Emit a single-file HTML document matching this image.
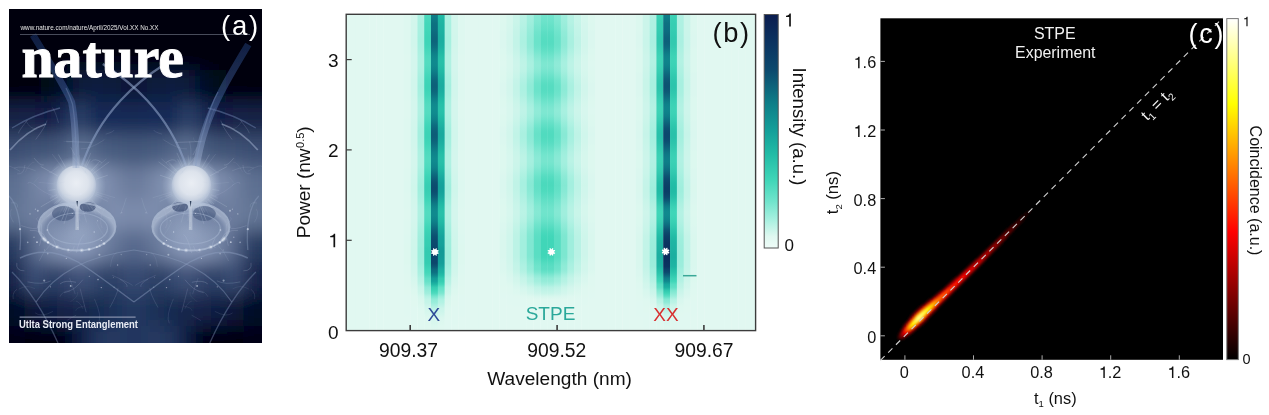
<!DOCTYPE html>
<html><head><meta charset="utf-8"><style>
html,body{margin:0;padding:0;background:#fff;width:1269px;height:415px;overflow:hidden}
#root{position:relative;width:1269px;height:415px}
</style></head><body><div id="root">
<svg width="253" height="334" viewBox="9 9 253 334" style="position:absolute;left:9px;top:9px">
<defs>
<radialGradient id="halo" cx="0.5" cy="0.5" r="0.5">
<stop offset="0.55" stop-color="#c4d0e0" stop-opacity="0.9"/><stop offset="1" stop-color="#9aaac6" stop-opacity="0"/></radialGradient>
<radialGradient id="sphere" cx="0.5" cy="0.45" r="0.5">
<stop offset="0" stop-color="#eaeef4"/><stop offset="0.6" stop-color="#dde3ec"/><stop offset="0.86" stop-color="#cad3e1"/><stop offset="1" stop-color="#b8c4d8" stop-opacity="0.75"/></radialGradient>
<linearGradient id="bandg" x1="0" y1="35" x2="0" y2="168" gradientUnits="userSpaceOnUse"><stop offset="0" stop-color="#1c3a78"/><stop offset="0.5" stop-color="#4a66a0"/><stop offset="1" stop-color="#a8b8d4"/></linearGradient>
<radialGradient id="node" cx="0.5" cy="0.5" r="0.5"><stop offset="0" stop-color="#ffffff" stop-opacity="0.9"/><stop offset="1" stop-color="#c0d0e8" stop-opacity="0"/></radialGradient>
<radialGradient id="ringin" cx="0.5" cy="0.6" r="0.5"><stop offset="0" stop-color="#b0c0d8" stop-opacity="0.35"/><stop offset="0.85" stop-color="#a0b0cc" stop-opacity="0.25"/><stop offset="1" stop-color="#c8d4e6" stop-opacity="0.5"/></radialGradient>
<filter id="gb" x="-30%" y="-30%" width="160%" height="160%"><feGaussianBlur stdDeviation="9"/></filter>
<filter id="bl1" x="-20%" y="-20%" width="140%" height="140%"><feGaussianBlur stdDeviation="0.7"/></filter>
</defs>
<rect x="9" y="9" width="253" height="334" fill="#03060e"/>
<g filter="url(#gb)"><rect x="-16" y="-16" width="41.5" height="86.5" fill="#03060e"/><rect x="242.3" y="-16" width="49.5" height="86.5" fill="#03060e"/><rect x="25" y="-16" width="16.5" height="86.5" fill="#03060e"/><rect x="226.3" y="-16" width="16.5" height="86.5" fill="#03060e"/><rect x="41" y="-16" width="16.5" height="86.5" fill="#03060e"/><rect x="210.3" y="-16" width="16.5" height="86.5" fill="#03060e"/><rect x="57" y="-16" width="16.5" height="86.5" fill="#03060e"/><rect x="194.3" y="-16" width="16.5" height="86.5" fill="#03060e"/><rect x="73" y="-16" width="16.5" height="86.5" fill="#03060e"/><rect x="178.3" y="-16" width="16.5" height="86.5" fill="#03060e"/><rect x="89" y="-16" width="16.5" height="86.5" fill="#03060e"/><rect x="162.3" y="-16" width="16.5" height="86.5" fill="#03060e"/><rect x="105" y="-16" width="16.5" height="86.5" fill="#03060e"/><rect x="146.3" y="-16" width="16.5" height="86.5" fill="#03060e"/><rect x="121" y="-16" width="13.400000000000006" height="86.5" fill="#03060e"/><rect x="133.4" y="-16" width="13.400000000000006" height="86.5" fill="#03060e"/><rect x="-16" y="70" width="41.5" height="32.5" fill="#02050c"/><rect x="242.3" y="70" width="49.5" height="32.5" fill="#02050c"/><rect x="25" y="70" width="16.5" height="32.5" fill="#03060f"/><rect x="226.3" y="70" width="16.5" height="32.5" fill="#03060f"/><rect x="41" y="70" width="16.5" height="32.5" fill="#040814"/><rect x="210.3" y="70" width="16.5" height="32.5" fill="#040814"/><rect x="57" y="70" width="16.5" height="32.5" fill="#06102a"/><rect x="194.3" y="70" width="16.5" height="32.5" fill="#06102a"/><rect x="73" y="70" width="16.5" height="32.5" fill="#0c1a3c"/><rect x="178.3" y="70" width="16.5" height="32.5" fill="#0c1a3c"/><rect x="89" y="70" width="16.5" height="32.5" fill="#0e1c40"/><rect x="162.3" y="70" width="16.5" height="32.5" fill="#0e1c40"/><rect x="105" y="70" width="16.5" height="32.5" fill="#0e1a3e"/><rect x="146.3" y="70" width="16.5" height="32.5" fill="#0e1a3e"/><rect x="121" y="70" width="13.400000000000006" height="32.5" fill="#0c1838"/><rect x="133.4" y="70" width="13.400000000000006" height="32.5" fill="#0c1838"/><rect x="-16" y="102" width="41.5" height="32.5" fill="#132145"/><rect x="242.3" y="102" width="49.5" height="32.5" fill="#132145"/><rect x="25" y="102" width="16.5" height="32.5" fill="#122248"/><rect x="226.3" y="102" width="16.5" height="32.5" fill="#122248"/><rect x="41" y="102" width="16.5" height="32.5" fill="#071743"/><rect x="210.3" y="102" width="16.5" height="32.5" fill="#071743"/><rect x="57" y="102" width="16.5" height="32.5" fill="#1b2f59"/><rect x="194.3" y="102" width="16.5" height="32.5" fill="#1b2f59"/><rect x="73" y="102" width="16.5" height="32.5" fill="#2e436a"/><rect x="178.3" y="102" width="16.5" height="32.5" fill="#2e436a"/><rect x="89" y="102" width="16.5" height="32.5" fill="#112553"/><rect x="162.3" y="102" width="16.5" height="32.5" fill="#112553"/><rect x="105" y="102" width="16.5" height="32.5" fill="#162c5a"/><rect x="146.3" y="102" width="16.5" height="32.5" fill="#162c5a"/><rect x="121" y="102" width="13.400000000000006" height="32.5" fill="#152955"/><rect x="133.4" y="102" width="13.400000000000006" height="32.5" fill="#152955"/><rect x="-16" y="134" width="41.5" height="32.5" fill="#3a4e72"/><rect x="242.3" y="134" width="49.5" height="32.5" fill="#3a4e72"/><rect x="25" y="134" width="16.5" height="32.5" fill="#3f5377"/><rect x="226.3" y="134" width="16.5" height="32.5" fill="#3f5377"/><rect x="41" y="134" width="16.5" height="32.5" fill="#415477"/><rect x="210.3" y="134" width="16.5" height="32.5" fill="#415477"/><rect x="57" y="134" width="16.5" height="32.5" fill="#485b80"/><rect x="194.3" y="134" width="16.5" height="32.5" fill="#485b80"/><rect x="73" y="134" width="16.5" height="32.5" fill="#637797"/><rect x="178.3" y="134" width="16.5" height="32.5" fill="#637797"/><rect x="89" y="134" width="16.5" height="32.5" fill="#4e6184"/><rect x="162.3" y="134" width="16.5" height="32.5" fill="#4e6184"/><rect x="105" y="134" width="16.5" height="32.5" fill="#475b7f"/><rect x="146.3" y="134" width="16.5" height="32.5" fill="#475b7f"/><rect x="121" y="134" width="13.400000000000006" height="32.5" fill="#44587c"/><rect x="133.4" y="134" width="13.400000000000006" height="32.5" fill="#44587c"/><rect x="-16" y="166" width="41.5" height="32.5" fill="#5c6e90"/><rect x="242.3" y="166" width="49.5" height="32.5" fill="#5c6e90"/><rect x="25" y="166" width="16.5" height="32.5" fill="#7080a0"/><rect x="226.3" y="166" width="16.5" height="32.5" fill="#7080a0"/><rect x="41" y="166" width="16.5" height="32.5" fill="#8090b0"/><rect x="210.3" y="166" width="16.5" height="32.5" fill="#8090b0"/><rect x="57" y="166" width="16.5" height="32.5" fill="#8898b8"/><rect x="194.3" y="166" width="16.5" height="32.5" fill="#8898b8"/><rect x="73" y="166" width="16.5" height="32.5" fill="#90a0bc"/><rect x="178.3" y="166" width="16.5" height="32.5" fill="#90a0bc"/><rect x="89" y="166" width="16.5" height="32.5" fill="#8898b8"/><rect x="162.3" y="166" width="16.5" height="32.5" fill="#8898b8"/><rect x="105" y="166" width="16.5" height="32.5" fill="#7888a8"/><rect x="146.3" y="166" width="16.5" height="32.5" fill="#7888a8"/><rect x="121" y="166" width="13.400000000000006" height="32.5" fill="#6a7a9c"/><rect x="133.4" y="166" width="13.400000000000006" height="32.5" fill="#6a7a9c"/><rect x="-16" y="198" width="41.5" height="32.5" fill="#627494"/><rect x="242.3" y="198" width="49.5" height="32.5" fill="#627494"/><rect x="25" y="198" width="16.5" height="32.5" fill="#7080a0"/><rect x="226.3" y="198" width="16.5" height="32.5" fill="#7080a0"/><rect x="41" y="198" width="16.5" height="32.5" fill="#6a7a9c"/><rect x="210.3" y="198" width="16.5" height="32.5" fill="#6a7a9c"/><rect x="57" y="198" width="16.5" height="32.5" fill="#5a6c90"/><rect x="194.3" y="198" width="16.5" height="32.5" fill="#5a6c90"/><rect x="73" y="198" width="16.5" height="32.5" fill="#8090b0"/><rect x="178.3" y="198" width="16.5" height="32.5" fill="#8090b0"/><rect x="89" y="198" width="16.5" height="32.5" fill="#7080a0"/><rect x="162.3" y="198" width="16.5" height="32.5" fill="#7080a0"/><rect x="105" y="198" width="16.5" height="32.5" fill="#8090b0"/><rect x="146.3" y="198" width="16.5" height="32.5" fill="#8090b0"/><rect x="121" y="198" width="13.400000000000006" height="32.5" fill="#7a8aaa"/><rect x="133.4" y="198" width="13.400000000000006" height="32.5" fill="#7a8aaa"/><rect x="-16" y="230" width="41.5" height="32.5" fill="#273b61"/><rect x="242.3" y="230" width="49.5" height="32.5" fill="#273b61"/><rect x="25" y="230" width="16.5" height="32.5" fill="#54668a"/><rect x="226.3" y="230" width="16.5" height="32.5" fill="#54668a"/><rect x="41" y="230" width="16.5" height="32.5" fill="#7888a8"/><rect x="210.3" y="230" width="16.5" height="32.5" fill="#7888a8"/><rect x="57" y="230" width="16.5" height="32.5" fill="#8393b3"/><rect x="194.3" y="230" width="16.5" height="32.5" fill="#8393b3"/><rect x="73" y="230" width="16.5" height="32.5" fill="#8d9dbd"/><rect x="178.3" y="230" width="16.5" height="32.5" fill="#8d9dbd"/><rect x="89" y="230" width="16.5" height="32.5" fill="#7a8aaa"/><rect x="162.3" y="230" width="16.5" height="32.5" fill="#7a8aaa"/><rect x="105" y="230" width="16.5" height="32.5" fill="#66789a"/><rect x="146.3" y="230" width="16.5" height="32.5" fill="#66789a"/><rect x="121" y="230" width="13.400000000000006" height="32.5" fill="#56688c"/><rect x="133.4" y="230" width="13.400000000000006" height="32.5" fill="#56688c"/><rect x="-16" y="262" width="41.5" height="32.5" fill="#132349"/><rect x="242.3" y="262" width="49.5" height="32.5" fill="#132349"/><rect x="25" y="262" width="16.5" height="32.5" fill="#3d5179"/><rect x="226.3" y="262" width="16.5" height="32.5" fill="#3d5179"/><rect x="41" y="262" width="16.5" height="32.5" fill="#2a3e64"/><rect x="210.3" y="262" width="16.5" height="32.5" fill="#2a3e64"/><rect x="57" y="262" width="16.5" height="32.5" fill="#31456d"/><rect x="194.3" y="262" width="16.5" height="32.5" fill="#31456d"/><rect x="73" y="262" width="16.5" height="32.5" fill="#43557b"/><rect x="178.3" y="262" width="16.5" height="32.5" fill="#43557b"/><rect x="89" y="262" width="16.5" height="32.5" fill="#32466e"/><rect x="162.3" y="262" width="16.5" height="32.5" fill="#32466e"/><rect x="105" y="262" width="16.5" height="32.5" fill="#2a3e64"/><rect x="146.3" y="262" width="16.5" height="32.5" fill="#2a3e64"/><rect x="121" y="262" width="13.400000000000006" height="32.5" fill="#374b73"/><rect x="133.4" y="262" width="13.400000000000006" height="32.5" fill="#374b73"/><rect x="-16" y="294" width="41.5" height="32.5" fill="#061028"/><rect x="242.3" y="294" width="49.5" height="32.5" fill="#061028"/><rect x="25" y="294" width="16.5" height="32.5" fill="#0c1838"/><rect x="226.3" y="294" width="16.5" height="32.5" fill="#0c1838"/><rect x="41" y="294" width="16.5" height="32.5" fill="#101e42"/><rect x="210.3" y="294" width="16.5" height="32.5" fill="#101e42"/><rect x="57" y="294" width="16.5" height="32.5" fill="#142448"/><rect x="194.3" y="294" width="16.5" height="32.5" fill="#142448"/><rect x="73" y="294" width="16.5" height="32.5" fill="#16264c"/><rect x="178.3" y="294" width="16.5" height="32.5" fill="#16264c"/><rect x="89" y="294" width="16.5" height="32.5" fill="#182a50"/><rect x="162.3" y="294" width="16.5" height="32.5" fill="#182a50"/><rect x="105" y="294" width="16.5" height="32.5" fill="#1c3058"/><rect x="146.3" y="294" width="16.5" height="32.5" fill="#1c3058"/><rect x="121" y="294" width="13.400000000000006" height="32.5" fill="#243860"/><rect x="133.4" y="294" width="13.400000000000006" height="32.5" fill="#243860"/><rect x="-16" y="326" width="41.5" height="42.5" fill="#000214"/><rect x="242.3" y="326" width="49.5" height="42.5" fill="#000214"/><rect x="25" y="326" width="16.5" height="42.5" fill="#00000e"/><rect x="226.3" y="326" width="16.5" height="42.5" fill="#00000e"/><rect x="41" y="326" width="16.5" height="42.5" fill="#00000a"/><rect x="210.3" y="326" width="16.5" height="42.5" fill="#00000a"/><rect x="57" y="326" width="16.5" height="42.5" fill="#000009"/><rect x="194.3" y="326" width="16.5" height="42.5" fill="#000009"/><rect x="73" y="326" width="16.5" height="42.5" fill="#0e1e42"/><rect x="178.3" y="326" width="16.5" height="42.5" fill="#0e1e42"/><rect x="89" y="326" width="16.5" height="42.5" fill="#22365e"/><rect x="162.3" y="326" width="16.5" height="42.5" fill="#22365e"/><rect x="105" y="326" width="16.5" height="42.5" fill="#263a62"/><rect x="146.3" y="326" width="16.5" height="42.5" fill="#263a62"/><rect x="121" y="326" width="13.400000000000006" height="42.5" fill="#22365e"/><rect x="133.4" y="326" width="13.400000000000006" height="42.5" fill="#22365e"/></g>
<g filter="url(#bl1)">


<path d="M165,64 C140,80 100,110 81,168" stroke="#8ea2c6" stroke-width="2.2" fill="none" opacity="0.6"/>
<path d="M10,150 C22,136 34,128 46,124" stroke="#a8b8d4" stroke-width="1.8" fill="none" opacity="0.5"/>
<path d="M12,128 C28,118 44,112 60,108" stroke="#6a80aa" stroke-width="1.4" fill="none" opacity="0.5"/>
<circle cx="76.2" cy="186" r="30" fill="url(#halo)"/>
<ellipse cx="76.9" cy="226.5" rx="38" ry="23.5" fill="url(#ringin)"/><ellipse cx="63.5" cy="213.5" rx="11.5" ry="7.5" fill="#44567c" opacity="0.6"/>
<ellipse cx="87.7" cy="207" rx="8" ry="4.8" fill="#34466c" opacity="0.7"/>
<ellipse cx="76.9" cy="226.5" rx="38.6" ry="24" fill="none" stroke="#b8c6dc" stroke-width="1.8" opacity="0.65"/>
<ellipse cx="77.5" cy="228.5" rx="30" ry="15.5" fill="none" stroke="#a8b8d2" stroke-width="1.2" opacity="0.5"/>
<path d="M75.6,199 L75.4,230 L79,230 L78.4,199 Z" fill="#c4cede" opacity="0.6"/>
<circle cx="76.4" cy="185" r="19.6" fill="url(#sphere)"/>
<path d="M76.4,201 L77.2,207 L78,201 Z" fill="#34445f"/>
<path d="M20,258 C40,248 60,252 78,262 C100,276 120,292 134,302" stroke="#8ea0c0" stroke-width="1.4" fill="none" opacity="0.45"/>
<path d="M36,302 C56,272 88,256 134,250" stroke="#8ea0c0" stroke-width="1.2" fill="none" opacity="0.4"/>
<path d="M12,272 C30,290 44,312 58,343" stroke="#7a8cb0" stroke-width="1.3" fill="none" opacity="0.45"/>
<path d="M9,196 C18,205 22,225 20,250" stroke="#8ea0c0" stroke-width="1.3" fill="none" opacity="0.4"/>
<line x1="66.8" y1="204.8" x2="63.0" y2="212.3" stroke="#d0dcec" stroke-width="0.7" opacity="0.22"/><line x1="95.1" y1="195.2" x2="108.2" y2="201.6" stroke="#d0dcec" stroke-width="0.7" opacity="0.17"/><line x1="95.8" y1="193.5" x2="109.0" y2="198.5" stroke="#d0dcec" stroke-width="0.7" opacity="0.11"/><line x1="57.0" y1="194.5" x2="50.2" y2="197.5" stroke="#d0dcec" stroke-width="0.7" opacity="0.18"/><line x1="86.0" y1="167.4" x2="90.4" y2="158.9" stroke="#d0dcec" stroke-width="0.7" opacity="0.21"/><line x1="96.1" y1="179.2" x2="107.8" y2="175.2" stroke="#d0dcec" stroke-width="0.7" opacity="0.28"/><line x1="96.3" y1="192.1" x2="115.2" y2="197.8" stroke="#d0dcec" stroke-width="0.7" opacity="0.15"/><line x1="89.1" y1="202.5" x2="94.0" y2="208.7" stroke="#d0dcec" stroke-width="0.7" opacity="0.16"/><line x1="84.7" y1="166.8" x2="90.9" y2="152.8" stroke="#d0dcec" stroke-width="0.7" opacity="0.22"/><line x1="61.6" y1="201.1" x2="56.7" y2="206.1" stroke="#d0dcec" stroke-width="0.7" opacity="0.11"/><line x1="81.9" y1="206.2" x2="86.6" y2="222.4" stroke="#d0dcec" stroke-width="0.7" opacity="0.18"/><line x1="68.0" y1="205.3" x2="61.9" y2="219.5" stroke="#d0dcec" stroke-width="0.7" opacity="0.18"/><line x1="69.7" y1="206.0" x2="64.0" y2="223.8" stroke="#d0dcec" stroke-width="0.7" opacity="0.23"/><line x1="77.0" y1="207.0" x2="77.5" y2="222.2" stroke="#d0dcec" stroke-width="0.7" opacity="0.19"/><line x1="91.1" y1="171.2" x2="98.6" y2="163.7" stroke="#d0dcec" stroke-width="0.7" opacity="0.28"/><line x1="91.7" y1="200.2" x2="101.0" y2="208.8" stroke="#d0dcec" stroke-width="0.7" opacity="0.24"/><line x1="88.3" y1="203.1" x2="96.3" y2="214.4" stroke="#d0dcec" stroke-width="0.7" opacity="0.11"/><line x1="65.9" y1="167.7" x2="58.4" y2="154.5" stroke="#d0dcec" stroke-width="0.7" opacity="0.26"/><line x1="68.0" y1="205.3" x2="61.3" y2="221.1" stroke="#d0dcec" stroke-width="0.7" opacity="0.21"/><line x1="57.8" y1="175.9" x2="40.7" y2="166.5" stroke="#d0dcec" stroke-width="0.7" opacity="0.27"/><line x1="55.5" y1="189.4" x2="48.6" y2="190.5" stroke="#d0dcec" stroke-width="0.7" opacity="0.23"/><line x1="63.6" y1="169.2" x2="52.0" y2="153.9" stroke="#d0dcec" stroke-width="0.7" opacity="0.15"/><line x1="60.4" y1="199.8" x2="55.6" y2="204.0" stroke="#d0dcec" stroke-width="0.7" opacity="0.18"/><line x1="86.5" y1="204.3" x2="90.4" y2="211.1" stroke="#d0dcec" stroke-width="0.7" opacity="0.11"/><line x1="78.6" y1="165.1" x2="79.7" y2="155.2" stroke="#d0dcec" stroke-width="0.7" opacity="0.17"/><line x1="90.7" y1="170.8" x2="99.8" y2="161.3" stroke="#d0dcec" stroke-width="0.7" opacity="0.20"/><line x1="91.8" y1="172.0" x2="106.5" y2="158.7" stroke="#d0dcec" stroke-width="0.7" opacity="0.15"/><line x1="58.1" y1="196.7" x2="40.7" y2="206.9" stroke="#d0dcec" stroke-width="0.7" opacity="0.27"/><line x1="88.4" y1="203.1" x2="93.6" y2="210.2" stroke="#d0dcec" stroke-width="0.7" opacity="0.14"/><line x1="78.4" y1="206.9" x2="79.8" y2="220.6" stroke="#d0dcec" stroke-width="0.7" opacity="0.21"/><line x1="74.5" y1="206.9" x2="74.0" y2="213.0" stroke="#d0dcec" stroke-width="0.7" opacity="0.18"/><line x1="61.9" y1="201.4" x2="47.4" y2="216.9" stroke="#d0dcec" stroke-width="0.7" opacity="0.22"/><line x1="55.3" y1="184.0" x2="38.6" y2="182.3" stroke="#d0dcec" stroke-width="0.7" opacity="0.11"/><line x1="93.2" y1="173.6" x2="109.3" y2="161.8" stroke="#d0dcec" stroke-width="0.7" opacity="0.24"/><line x1="59.8" y1="199.1" x2="53.8" y2="203.9" stroke="#d0dcec" stroke-width="0.7" opacity="0.21"/><line x1="95.6" y1="194.0" x2="102.2" y2="196.7" stroke="#d0dcec" stroke-width="0.7" opacity="0.14"/><path d="M27.9,184.1 Q27.6,179.9 35.7,185.4" stroke="#b8c6de" stroke-width="0.8" fill="none" opacity="0.17"/><path d="M17.0,289.2 Q12.1,292.4 13.2,299.2" stroke="#b8c6de" stroke-width="0.8" fill="none" opacity="0.17"/><path d="M35.2,288.9 Q26.8,284.1 18.8,289.2" stroke="#b8c6de" stroke-width="0.8" fill="none" opacity="0.12"/><path d="M58.5,166.5 Q48.1,174.7 49.1,172.1" stroke="#b8c6de" stroke-width="0.8" fill="none" opacity="0.21"/><path d="M21.2,225.6 Q35.6,230.7 38.6,227.1" stroke="#b8c6de" stroke-width="0.8" fill="none" opacity="0.24"/><path d="M34.4,184.7 Q44.2,193.5 53.3,195.7" stroke="#b8c6de" stroke-width="0.8" fill="none" opacity="0.17"/><path d="M50.9,280.8 Q42.9,285.2 27.6,281.9" stroke="#b8c6de" stroke-width="0.8" fill="none" opacity="0.25"/><path d="M37.8,217.3 Q34.0,218.5 41.5,224.9" stroke="#b8c6de" stroke-width="0.8" fill="none" opacity="0.15"/><path d="M94.4,298.8 Q102.3,316.5 98.5,323.3" stroke="#b8c6de" stroke-width="0.8" fill="none" opacity="0.17"/><path d="M34.1,158.1 Q40.4,166.3 43.7,164.9" stroke="#b8c6de" stroke-width="0.8" fill="none" opacity="0.27"/><path d="M74.3,246.1 Q72.4,253.8 66.6,251.7" stroke="#b8c6de" stroke-width="0.8" fill="none" opacity="0.26"/><path d="M94.1,207.1 Q101.5,216.6 112.9,218.9" stroke="#b8c6de" stroke-width="0.8" fill="none" opacity="0.29"/><path d="M70.7,195.5 Q56.3,192.8 49.9,199.0" stroke="#b8c6de" stroke-width="0.8" fill="none" opacity="0.13"/><path d="M112.1,275.3 Q128.2,282.2 132.6,285.4" stroke="#b8c6de" stroke-width="0.8" fill="none" opacity="0.17"/><path d="M66.2,141.3 Q80.7,142.2 91.7,142.4" stroke="#b8c6de" stroke-width="0.8" fill="none" opacity="0.29"/><path d="M70.0,290.6 Q61.9,291.2 59.9,296.8" stroke="#b8c6de" stroke-width="0.8" fill="none" opacity="0.15"/><path d="M82.2,163.2 Q88.5,166.4 84.8,173.2" stroke="#b8c6de" stroke-width="0.8" fill="none" opacity="0.19"/><path d="M80.1,288.5 Q83.2,300.8 86.2,312.3" stroke="#b8c6de" stroke-width="0.8" fill="none" opacity="0.20"/><path d="M10.9,203.0 Q17.9,201.3 17.7,207.4" stroke="#b8c6de" stroke-width="0.8" fill="none" opacity="0.19"/><path d="M96.0,221.7 Q101.1,232.5 105.0,236.5" stroke="#b8c6de" stroke-width="0.8" fill="none" opacity="0.12"/><path d="M73.3,157.6 Q80.4,166.7 87.4,174.3" stroke="#b8c6de" stroke-width="0.8" fill="none" opacity="0.25"/><path d="M126.3,197.8 Q123.5,208.2 120.4,213.9" stroke="#b8c6de" stroke-width="0.8" fill="none" opacity="0.19"/><path d="M87.2,211.1 Q81.6,218.3 66.9,214.9" stroke="#b8c6de" stroke-width="0.8" fill="none" opacity="0.15"/><path d="M84.8,305.8 Q75.7,307.7 75.7,310.9" stroke="#b8c6de" stroke-width="0.8" fill="none" opacity="0.11"/><path d="M47.0,120.5 Q46.1,125.8 35.7,139.5" stroke="#b8c6de" stroke-width="0.8" fill="none" opacity="0.24"/><path d="M104.4,139.7 Q89.2,149.7 80.7,148.9" stroke="#b8c6de" stroke-width="0.8" fill="none" opacity="0.18"/><path d="M76.2,315.2 Q70.6,318.1 66.7,320.7" stroke="#b8c6de" stroke-width="0.8" fill="none" opacity="0.17"/><path d="M38.6,177.1 Q36.5,179.6 33.2,183.5" stroke="#b8c6de" stroke-width="0.8" fill="none" opacity="0.10"/><path d="M52.6,238.3 Q58.3,246.4 52.3,247.5" stroke="#b8c6de" stroke-width="0.8" fill="none" opacity="0.29"/><path d="M13.9,168.1 Q22.0,165.0 35.7,170.8" stroke="#b8c6de" stroke-width="0.8" fill="none" opacity="0.18"/><path d="M119.5,279.0 Q128.2,283.7 126.9,286.8" stroke="#b8c6de" stroke-width="0.8" fill="none" opacity="0.24"/><path d="M27.3,120.3 Q17.8,132.1 18.6,133.3" stroke="#b8c6de" stroke-width="0.8" fill="none" opacity="0.23"/><path d="M113.9,130.2 Q114.2,131.6 105.7,134.2" stroke="#b8c6de" stroke-width="0.8" fill="none" opacity="0.17"/><path d="M76.0,301.1 Q79.8,301.8 82.9,308.8" stroke="#b8c6de" stroke-width="0.8" fill="none" opacity="0.12"/><path d="M26.2,121.3 Q29.4,128.4 37.2,129.4" stroke="#b8c6de" stroke-width="0.8" fill="none" opacity="0.16"/><path d="M71.1,147.8 Q70.0,145.7 74.9,155.2" stroke="#b8c6de" stroke-width="0.8" fill="none" opacity="0.25"/><path d="M78.2,141.5 Q74.5,157.7 80.2,166.2" stroke="#b8c6de" stroke-width="0.8" fill="none" opacity="0.19"/><path d="M69.6,278.0 Q74.6,291.9 75.2,294.2" stroke="#b8c6de" stroke-width="0.8" fill="none" opacity="0.17"/><path d="M116.7,252.9 Q111.7,254.5 110.4,266.8" stroke="#b8c6de" stroke-width="0.8" fill="none" opacity="0.13"/><path d="M16.8,262.9 Q15.6,271.0 24.4,270.8" stroke="#b8c6de" stroke-width="0.8" fill="none" opacity="0.27"/><path d="M89.0,168.2 Q93.3,168.7 98.6,177.4" stroke="#b8c6de" stroke-width="0.8" fill="none" opacity="0.19"/><path d="M53.0,311.4 Q41.0,317.8 35.2,312.9" stroke="#b8c6de" stroke-width="0.8" fill="none" opacity="0.16"/><path d="M52.5,107.5 Q55.5,111.6 58.5,122.9" stroke="#b8c6de" stroke-width="0.8" fill="none" opacity="0.20"/><path d="M5.3,167.0 Q7.1,163.4 19.9,171.3" stroke="#b8c6de" stroke-width="0.8" fill="none" opacity="0.16"/><path d="M41.4,224.3 Q42.3,237.6 39.4,245.8" stroke="#b8c6de" stroke-width="0.8" fill="none" opacity="0.28"/><path d="M64.9,181.6 Q62.2,183.6 54.2,182.1" stroke="#b8c6de" stroke-width="0.8" fill="none" opacity="0.11"/><path d="M118.0,288.1 Q117.7,293.5 109.8,307.6" stroke="#b8c6de" stroke-width="0.8" fill="none" opacity="0.20"/><path d="M82.9,279.6 Q74.5,290.9 64.2,292.7" stroke="#b8c6de" stroke-width="0.8" fill="none" opacity="0.24"/><path d="M91.4,161.6 Q94.9,157.4 101.8,162.6" stroke="#b8c6de" stroke-width="0.8" fill="none" opacity="0.27"/><path d="M84.1,234.4 Q80.0,237.7 76.2,253.0" stroke="#b8c6de" stroke-width="0.8" fill="none" opacity="0.26"/><path d="M104.4,208.2 Q98.1,221.0 102.2,228.0" stroke="#b8c6de" stroke-width="0.8" fill="none" opacity="0.15"/><path d="M24.9,165.0 Q24.0,175.1 17.2,173.8" stroke="#b8c6de" stroke-width="0.8" fill="none" opacity="0.20"/><path d="M64.6,204.1 Q60.1,214.9 52.7,222.3" stroke="#b8c6de" stroke-width="0.8" fill="none" opacity="0.12"/><path d="M34.6,162.2 Q30.8,161.2 25.3,171.9" stroke="#b8c6de" stroke-width="0.8" fill="none" opacity="0.11"/><path d="M50.5,244.5 Q42.3,253.0 39.1,261.1" stroke="#b8c6de" stroke-width="0.8" fill="none" opacity="0.19"/><path d="M74.4,137.4 Q74.6,144.5 63.4,141.2" stroke="#b8c6de" stroke-width="0.8" fill="none" opacity="0.10"/><path d="M76.0,282.3 Q65.2,279.6 60.0,283.9" stroke="#b8c6de" stroke-width="0.8" fill="none" opacity="0.29"/><path d="M29.8,230.4 Q43.1,229.8 45.6,238.0" stroke="#b8c6de" stroke-width="0.8" fill="none" opacity="0.26"/><path d="M77.7,291.9 Q78.8,296.6 70.4,301.7" stroke="#b8c6de" stroke-width="0.8" fill="none" opacity="0.10"/><path d="M11.4,209.2 Q8.1,213.9 13.5,222.4" stroke="#b8c6de" stroke-width="0.8" fill="none" opacity="0.16"/><circle cx="47.8" cy="242.2" r="1.5" fill="url(#node)" opacity="0.78"/><circle cx="47.8" cy="242.3" r="1.7" fill="url(#node)" opacity="0.86"/><circle cx="57.2" cy="247.1" r="2.9" fill="url(#node)" opacity="0.54"/><circle cx="89.1" cy="249.3" r="2.1" fill="url(#node)" opacity="0.90"/><circle cx="68.3" cy="249.9" r="2.0" fill="url(#node)" opacity="0.61"/><circle cx="97.6" cy="246.8" r="1.6" fill="url(#node)" opacity="0.45"/><circle cx="48.1" cy="242.5" r="1.9" fill="url(#node)" opacity="0.87"/><circle cx="99.6" cy="245.9" r="1.9" fill="url(#node)" opacity="0.66"/><circle cx="104.0" cy="243.6" r="2.1" fill="url(#node)" opacity="0.88"/><circle cx="45.2" cy="240.2" r="2.7" fill="url(#node)" opacity="0.72"/><circle cx="43.6" cy="238.7" r="2.9" fill="url(#node)" opacity="0.67"/><circle cx="56.7" cy="246.9" r="1.6" fill="url(#node)" opacity="0.77"/><circle cx="81.7" cy="250.3" r="2.6" fill="url(#node)" opacity="0.72"/><circle cx="96.7" cy="247.1" r="1.6" fill="url(#node)" opacity="0.86"/><circle cx="34.0" cy="237.2" r="0.7" fill="#e0e8f4" opacity="0.42"/><circle cx="101.3" cy="287.6" r="0.7" fill="#e0e8f4" opacity="0.56"/><circle cx="53.1" cy="245.7" r="0.7" fill="#e0e8f4" opacity="0.37"/><circle cx="37.8" cy="210.8" r="1.0" fill="#e0e8f4" opacity="0.50"/><circle cx="44.2" cy="280.6" r="1.1" fill="#e0e8f4" opacity="0.48"/><circle cx="35.4" cy="209.2" r="0.6" fill="#e0e8f4" opacity="0.44"/><circle cx="30.0" cy="213.9" r="0.7" fill="#e0e8f4" opacity="0.53"/><circle cx="117.6" cy="265.0" r="0.7" fill="#e0e8f4" opacity="0.47"/><circle cx="77.7" cy="227.7" r="0.7" fill="#e0e8f4" opacity="0.32"/><circle cx="50.5" cy="286.8" r="0.6" fill="#e0e8f4" opacity="0.50"/><circle cx="89.3" cy="276.3" r="0.6" fill="#e0e8f4" opacity="0.41"/><circle cx="47.3" cy="230.0" r="0.8" fill="#e0e8f4" opacity="0.68"/><circle cx="113.4" cy="277.3" r="0.5" fill="#e0e8f4" opacity="0.31"/><circle cx="98.0" cy="279.6" r="0.8" fill="#e0e8f4" opacity="0.53"/><circle cx="20.0" cy="229.2" r="1.1" fill="#e0e8f4" opacity="0.63"/><circle cx="114.1" cy="287.2" r="0.6" fill="#e0e8f4" opacity="0.34"/><circle cx="37.0" cy="242.2" r="0.9" fill="#e0e8f4" opacity="0.68"/><circle cx="99.4" cy="254.7" r="1.0" fill="#e0e8f4" opacity="0.48"/><circle cx="80.7" cy="194.0" r="1.0" fill="#e0e8f4" opacity="0.39"/><circle cx="121.2" cy="254.6" r="0.7" fill="#e0e8f4" opacity="0.35"/><circle cx="47.7" cy="253.6" r="0.9" fill="#e0e8f4" opacity="0.34"/><circle cx="27.7" cy="242.4" r="0.8" fill="#e0e8f4" opacity="0.46"/><circle cx="44.6" cy="250.1" r="0.5" fill="#e0e8f4" opacity="0.42"/><circle cx="70.7" cy="285.9" r="0.9" fill="#e0e8f4" opacity="0.65"/><circle cx="72.3" cy="213.5" r="0.6" fill="#e0e8f4" opacity="0.68"/><circle cx="97.5" cy="220.7" r="0.5" fill="#e0e8f4" opacity="0.50"/><circle cx="94.2" cy="232.0" r="0.7" fill="#e0e8f4" opacity="0.57"/><circle cx="121.8" cy="212.7" r="0.5" fill="#e0e8f4" opacity="0.44"/><circle cx="66.3" cy="258.3" r="0.6" fill="#e0e8f4" opacity="0.62"/><circle cx="101.3" cy="240.5" r="0.6" fill="#e0e8f4" opacity="0.69"/>
<g transform="translate(267.8,0) scale(-1,1)">

<path d="M165,64 C140,80 100,110 81,168" stroke="#8ea2c6" stroke-width="2.2" fill="none" opacity="0.6"/>
<path d="M10,150 C22,136 34,128 46,124" stroke="#a8b8d4" stroke-width="1.8" fill="none" opacity="0.5"/>
<path d="M12,128 C28,118 44,112 60,108" stroke="#6a80aa" stroke-width="1.4" fill="none" opacity="0.5"/>
<circle cx="76.2" cy="186" r="30" fill="url(#halo)"/>
<ellipse cx="76.9" cy="226.5" rx="38" ry="23.5" fill="url(#ringin)"/><ellipse cx="63.5" cy="213.5" rx="11.5" ry="7.5" fill="#44567c" opacity="0.6"/>
<ellipse cx="87.7" cy="207" rx="8" ry="4.8" fill="#34466c" opacity="0.7"/>
<ellipse cx="76.9" cy="226.5" rx="38.6" ry="24" fill="none" stroke="#b8c6dc" stroke-width="1.8" opacity="0.65"/>
<ellipse cx="77.5" cy="228.5" rx="30" ry="15.5" fill="none" stroke="#a8b8d2" stroke-width="1.2" opacity="0.5"/>
<path d="M75.6,199 L75.4,230 L79,230 L78.4,199 Z" fill="#c4cede" opacity="0.6"/>
<circle cx="76.4" cy="185" r="19.6" fill="url(#sphere)"/>
<path d="M76.4,201 L77.2,207 L78,201 Z" fill="#34445f"/>
<path d="M20,258 C40,248 60,252 78,262 C100,276 120,292 134,302" stroke="#8ea0c0" stroke-width="1.4" fill="none" opacity="0.45"/>
<path d="M36,302 C56,272 88,256 134,250" stroke="#8ea0c0" stroke-width="1.2" fill="none" opacity="0.4"/>
<path d="M12,272 C30,290 44,312 58,343" stroke="#7a8cb0" stroke-width="1.3" fill="none" opacity="0.45"/>
<path d="M9,196 C18,205 22,225 20,250" stroke="#8ea0c0" stroke-width="1.3" fill="none" opacity="0.4"/>
<line x1="66.8" y1="204.8" x2="63.0" y2="212.3" stroke="#d0dcec" stroke-width="0.7" opacity="0.22"/><line x1="95.1" y1="195.2" x2="108.2" y2="201.6" stroke="#d0dcec" stroke-width="0.7" opacity="0.17"/><line x1="95.8" y1="193.5" x2="109.0" y2="198.5" stroke="#d0dcec" stroke-width="0.7" opacity="0.11"/><line x1="57.0" y1="194.5" x2="50.2" y2="197.5" stroke="#d0dcec" stroke-width="0.7" opacity="0.18"/><line x1="86.0" y1="167.4" x2="90.4" y2="158.9" stroke="#d0dcec" stroke-width="0.7" opacity="0.21"/><line x1="96.1" y1="179.2" x2="107.8" y2="175.2" stroke="#d0dcec" stroke-width="0.7" opacity="0.28"/><line x1="96.3" y1="192.1" x2="115.2" y2="197.8" stroke="#d0dcec" stroke-width="0.7" opacity="0.15"/><line x1="89.1" y1="202.5" x2="94.0" y2="208.7" stroke="#d0dcec" stroke-width="0.7" opacity="0.16"/><line x1="84.7" y1="166.8" x2="90.9" y2="152.8" stroke="#d0dcec" stroke-width="0.7" opacity="0.22"/><line x1="61.6" y1="201.1" x2="56.7" y2="206.1" stroke="#d0dcec" stroke-width="0.7" opacity="0.11"/><line x1="81.9" y1="206.2" x2="86.6" y2="222.4" stroke="#d0dcec" stroke-width="0.7" opacity="0.18"/><line x1="68.0" y1="205.3" x2="61.9" y2="219.5" stroke="#d0dcec" stroke-width="0.7" opacity="0.18"/><line x1="69.7" y1="206.0" x2="64.0" y2="223.8" stroke="#d0dcec" stroke-width="0.7" opacity="0.23"/><line x1="77.0" y1="207.0" x2="77.5" y2="222.2" stroke="#d0dcec" stroke-width="0.7" opacity="0.19"/><line x1="91.1" y1="171.2" x2="98.6" y2="163.7" stroke="#d0dcec" stroke-width="0.7" opacity="0.28"/><line x1="91.7" y1="200.2" x2="101.0" y2="208.8" stroke="#d0dcec" stroke-width="0.7" opacity="0.24"/><line x1="88.3" y1="203.1" x2="96.3" y2="214.4" stroke="#d0dcec" stroke-width="0.7" opacity="0.11"/><line x1="65.9" y1="167.7" x2="58.4" y2="154.5" stroke="#d0dcec" stroke-width="0.7" opacity="0.26"/><line x1="68.0" y1="205.3" x2="61.3" y2="221.1" stroke="#d0dcec" stroke-width="0.7" opacity="0.21"/><line x1="57.8" y1="175.9" x2="40.7" y2="166.5" stroke="#d0dcec" stroke-width="0.7" opacity="0.27"/><line x1="55.5" y1="189.4" x2="48.6" y2="190.5" stroke="#d0dcec" stroke-width="0.7" opacity="0.23"/><line x1="63.6" y1="169.2" x2="52.0" y2="153.9" stroke="#d0dcec" stroke-width="0.7" opacity="0.15"/><line x1="60.4" y1="199.8" x2="55.6" y2="204.0" stroke="#d0dcec" stroke-width="0.7" opacity="0.18"/><line x1="86.5" y1="204.3" x2="90.4" y2="211.1" stroke="#d0dcec" stroke-width="0.7" opacity="0.11"/><line x1="78.6" y1="165.1" x2="79.7" y2="155.2" stroke="#d0dcec" stroke-width="0.7" opacity="0.17"/><line x1="90.7" y1="170.8" x2="99.8" y2="161.3" stroke="#d0dcec" stroke-width="0.7" opacity="0.20"/><line x1="91.8" y1="172.0" x2="106.5" y2="158.7" stroke="#d0dcec" stroke-width="0.7" opacity="0.15"/><line x1="58.1" y1="196.7" x2="40.7" y2="206.9" stroke="#d0dcec" stroke-width="0.7" opacity="0.27"/><line x1="88.4" y1="203.1" x2="93.6" y2="210.2" stroke="#d0dcec" stroke-width="0.7" opacity="0.14"/><line x1="78.4" y1="206.9" x2="79.8" y2="220.6" stroke="#d0dcec" stroke-width="0.7" opacity="0.21"/><line x1="74.5" y1="206.9" x2="74.0" y2="213.0" stroke="#d0dcec" stroke-width="0.7" opacity="0.18"/><line x1="61.9" y1="201.4" x2="47.4" y2="216.9" stroke="#d0dcec" stroke-width="0.7" opacity="0.22"/><line x1="55.3" y1="184.0" x2="38.6" y2="182.3" stroke="#d0dcec" stroke-width="0.7" opacity="0.11"/><line x1="93.2" y1="173.6" x2="109.3" y2="161.8" stroke="#d0dcec" stroke-width="0.7" opacity="0.24"/><line x1="59.8" y1="199.1" x2="53.8" y2="203.9" stroke="#d0dcec" stroke-width="0.7" opacity="0.21"/><line x1="95.6" y1="194.0" x2="102.2" y2="196.7" stroke="#d0dcec" stroke-width="0.7" opacity="0.14"/><path d="M27.9,184.1 Q27.6,179.9 35.7,185.4" stroke="#b8c6de" stroke-width="0.8" fill="none" opacity="0.17"/><path d="M17.0,289.2 Q12.1,292.4 13.2,299.2" stroke="#b8c6de" stroke-width="0.8" fill="none" opacity="0.17"/><path d="M35.2,288.9 Q26.8,284.1 18.8,289.2" stroke="#b8c6de" stroke-width="0.8" fill="none" opacity="0.12"/><path d="M58.5,166.5 Q48.1,174.7 49.1,172.1" stroke="#b8c6de" stroke-width="0.8" fill="none" opacity="0.21"/><path d="M21.2,225.6 Q35.6,230.7 38.6,227.1" stroke="#b8c6de" stroke-width="0.8" fill="none" opacity="0.24"/><path d="M34.4,184.7 Q44.2,193.5 53.3,195.7" stroke="#b8c6de" stroke-width="0.8" fill="none" opacity="0.17"/><path d="M50.9,280.8 Q42.9,285.2 27.6,281.9" stroke="#b8c6de" stroke-width="0.8" fill="none" opacity="0.25"/><path d="M37.8,217.3 Q34.0,218.5 41.5,224.9" stroke="#b8c6de" stroke-width="0.8" fill="none" opacity="0.15"/><path d="M94.4,298.8 Q102.3,316.5 98.5,323.3" stroke="#b8c6de" stroke-width="0.8" fill="none" opacity="0.17"/><path d="M34.1,158.1 Q40.4,166.3 43.7,164.9" stroke="#b8c6de" stroke-width="0.8" fill="none" opacity="0.27"/><path d="M74.3,246.1 Q72.4,253.8 66.6,251.7" stroke="#b8c6de" stroke-width="0.8" fill="none" opacity="0.26"/><path d="M94.1,207.1 Q101.5,216.6 112.9,218.9" stroke="#b8c6de" stroke-width="0.8" fill="none" opacity="0.29"/><path d="M70.7,195.5 Q56.3,192.8 49.9,199.0" stroke="#b8c6de" stroke-width="0.8" fill="none" opacity="0.13"/><path d="M112.1,275.3 Q128.2,282.2 132.6,285.4" stroke="#b8c6de" stroke-width="0.8" fill="none" opacity="0.17"/><path d="M66.2,141.3 Q80.7,142.2 91.7,142.4" stroke="#b8c6de" stroke-width="0.8" fill="none" opacity="0.29"/><path d="M70.0,290.6 Q61.9,291.2 59.9,296.8" stroke="#b8c6de" stroke-width="0.8" fill="none" opacity="0.15"/><path d="M82.2,163.2 Q88.5,166.4 84.8,173.2" stroke="#b8c6de" stroke-width="0.8" fill="none" opacity="0.19"/><path d="M80.1,288.5 Q83.2,300.8 86.2,312.3" stroke="#b8c6de" stroke-width="0.8" fill="none" opacity="0.20"/><path d="M10.9,203.0 Q17.9,201.3 17.7,207.4" stroke="#b8c6de" stroke-width="0.8" fill="none" opacity="0.19"/><path d="M96.0,221.7 Q101.1,232.5 105.0,236.5" stroke="#b8c6de" stroke-width="0.8" fill="none" opacity="0.12"/><path d="M73.3,157.6 Q80.4,166.7 87.4,174.3" stroke="#b8c6de" stroke-width="0.8" fill="none" opacity="0.25"/><path d="M126.3,197.8 Q123.5,208.2 120.4,213.9" stroke="#b8c6de" stroke-width="0.8" fill="none" opacity="0.19"/><path d="M87.2,211.1 Q81.6,218.3 66.9,214.9" stroke="#b8c6de" stroke-width="0.8" fill="none" opacity="0.15"/><path d="M84.8,305.8 Q75.7,307.7 75.7,310.9" stroke="#b8c6de" stroke-width="0.8" fill="none" opacity="0.11"/><path d="M47.0,120.5 Q46.1,125.8 35.7,139.5" stroke="#b8c6de" stroke-width="0.8" fill="none" opacity="0.24"/><path d="M104.4,139.7 Q89.2,149.7 80.7,148.9" stroke="#b8c6de" stroke-width="0.8" fill="none" opacity="0.18"/><path d="M76.2,315.2 Q70.6,318.1 66.7,320.7" stroke="#b8c6de" stroke-width="0.8" fill="none" opacity="0.17"/><path d="M38.6,177.1 Q36.5,179.6 33.2,183.5" stroke="#b8c6de" stroke-width="0.8" fill="none" opacity="0.10"/><path d="M52.6,238.3 Q58.3,246.4 52.3,247.5" stroke="#b8c6de" stroke-width="0.8" fill="none" opacity="0.29"/><path d="M13.9,168.1 Q22.0,165.0 35.7,170.8" stroke="#b8c6de" stroke-width="0.8" fill="none" opacity="0.18"/><path d="M119.5,279.0 Q128.2,283.7 126.9,286.8" stroke="#b8c6de" stroke-width="0.8" fill="none" opacity="0.24"/><path d="M27.3,120.3 Q17.8,132.1 18.6,133.3" stroke="#b8c6de" stroke-width="0.8" fill="none" opacity="0.23"/><path d="M113.9,130.2 Q114.2,131.6 105.7,134.2" stroke="#b8c6de" stroke-width="0.8" fill="none" opacity="0.17"/><path d="M76.0,301.1 Q79.8,301.8 82.9,308.8" stroke="#b8c6de" stroke-width="0.8" fill="none" opacity="0.12"/><path d="M26.2,121.3 Q29.4,128.4 37.2,129.4" stroke="#b8c6de" stroke-width="0.8" fill="none" opacity="0.16"/><path d="M71.1,147.8 Q70.0,145.7 74.9,155.2" stroke="#b8c6de" stroke-width="0.8" fill="none" opacity="0.25"/><path d="M78.2,141.5 Q74.5,157.7 80.2,166.2" stroke="#b8c6de" stroke-width="0.8" fill="none" opacity="0.19"/><path d="M69.6,278.0 Q74.6,291.9 75.2,294.2" stroke="#b8c6de" stroke-width="0.8" fill="none" opacity="0.17"/><path d="M116.7,252.9 Q111.7,254.5 110.4,266.8" stroke="#b8c6de" stroke-width="0.8" fill="none" opacity="0.13"/><path d="M16.8,262.9 Q15.6,271.0 24.4,270.8" stroke="#b8c6de" stroke-width="0.8" fill="none" opacity="0.27"/><path d="M89.0,168.2 Q93.3,168.7 98.6,177.4" stroke="#b8c6de" stroke-width="0.8" fill="none" opacity="0.19"/><path d="M53.0,311.4 Q41.0,317.8 35.2,312.9" stroke="#b8c6de" stroke-width="0.8" fill="none" opacity="0.16"/><path d="M52.5,107.5 Q55.5,111.6 58.5,122.9" stroke="#b8c6de" stroke-width="0.8" fill="none" opacity="0.20"/><path d="M5.3,167.0 Q7.1,163.4 19.9,171.3" stroke="#b8c6de" stroke-width="0.8" fill="none" opacity="0.16"/><path d="M41.4,224.3 Q42.3,237.6 39.4,245.8" stroke="#b8c6de" stroke-width="0.8" fill="none" opacity="0.28"/><path d="M64.9,181.6 Q62.2,183.6 54.2,182.1" stroke="#b8c6de" stroke-width="0.8" fill="none" opacity="0.11"/><path d="M118.0,288.1 Q117.7,293.5 109.8,307.6" stroke="#b8c6de" stroke-width="0.8" fill="none" opacity="0.20"/><path d="M82.9,279.6 Q74.5,290.9 64.2,292.7" stroke="#b8c6de" stroke-width="0.8" fill="none" opacity="0.24"/><path d="M91.4,161.6 Q94.9,157.4 101.8,162.6" stroke="#b8c6de" stroke-width="0.8" fill="none" opacity="0.27"/><path d="M84.1,234.4 Q80.0,237.7 76.2,253.0" stroke="#b8c6de" stroke-width="0.8" fill="none" opacity="0.26"/><path d="M104.4,208.2 Q98.1,221.0 102.2,228.0" stroke="#b8c6de" stroke-width="0.8" fill="none" opacity="0.15"/><path d="M24.9,165.0 Q24.0,175.1 17.2,173.8" stroke="#b8c6de" stroke-width="0.8" fill="none" opacity="0.20"/><path d="M64.6,204.1 Q60.1,214.9 52.7,222.3" stroke="#b8c6de" stroke-width="0.8" fill="none" opacity="0.12"/><path d="M34.6,162.2 Q30.8,161.2 25.3,171.9" stroke="#b8c6de" stroke-width="0.8" fill="none" opacity="0.11"/><path d="M50.5,244.5 Q42.3,253.0 39.1,261.1" stroke="#b8c6de" stroke-width="0.8" fill="none" opacity="0.19"/><path d="M74.4,137.4 Q74.6,144.5 63.4,141.2" stroke="#b8c6de" stroke-width="0.8" fill="none" opacity="0.10"/><path d="M76.0,282.3 Q65.2,279.6 60.0,283.9" stroke="#b8c6de" stroke-width="0.8" fill="none" opacity="0.29"/><path d="M29.8,230.4 Q43.1,229.8 45.6,238.0" stroke="#b8c6de" stroke-width="0.8" fill="none" opacity="0.26"/><path d="M77.7,291.9 Q78.8,296.6 70.4,301.7" stroke="#b8c6de" stroke-width="0.8" fill="none" opacity="0.10"/><path d="M11.4,209.2 Q8.1,213.9 13.5,222.4" stroke="#b8c6de" stroke-width="0.8" fill="none" opacity="0.16"/><circle cx="47.8" cy="242.2" r="1.5" fill="url(#node)" opacity="0.78"/><circle cx="47.8" cy="242.3" r="1.7" fill="url(#node)" opacity="0.86"/><circle cx="57.2" cy="247.1" r="2.9" fill="url(#node)" opacity="0.54"/><circle cx="89.1" cy="249.3" r="2.1" fill="url(#node)" opacity="0.90"/><circle cx="68.3" cy="249.9" r="2.0" fill="url(#node)" opacity="0.61"/><circle cx="97.6" cy="246.8" r="1.6" fill="url(#node)" opacity="0.45"/><circle cx="48.1" cy="242.5" r="1.9" fill="url(#node)" opacity="0.87"/><circle cx="99.6" cy="245.9" r="1.9" fill="url(#node)" opacity="0.66"/><circle cx="104.0" cy="243.6" r="2.1" fill="url(#node)" opacity="0.88"/><circle cx="45.2" cy="240.2" r="2.7" fill="url(#node)" opacity="0.72"/><circle cx="43.6" cy="238.7" r="2.9" fill="url(#node)" opacity="0.67"/><circle cx="56.7" cy="246.9" r="1.6" fill="url(#node)" opacity="0.77"/><circle cx="81.7" cy="250.3" r="2.6" fill="url(#node)" opacity="0.72"/><circle cx="96.7" cy="247.1" r="1.6" fill="url(#node)" opacity="0.86"/><circle cx="34.0" cy="237.2" r="0.7" fill="#e0e8f4" opacity="0.42"/><circle cx="101.3" cy="287.6" r="0.7" fill="#e0e8f4" opacity="0.56"/><circle cx="53.1" cy="245.7" r="0.7" fill="#e0e8f4" opacity="0.37"/><circle cx="37.8" cy="210.8" r="1.0" fill="#e0e8f4" opacity="0.50"/><circle cx="44.2" cy="280.6" r="1.1" fill="#e0e8f4" opacity="0.48"/><circle cx="35.4" cy="209.2" r="0.6" fill="#e0e8f4" opacity="0.44"/><circle cx="30.0" cy="213.9" r="0.7" fill="#e0e8f4" opacity="0.53"/><circle cx="117.6" cy="265.0" r="0.7" fill="#e0e8f4" opacity="0.47"/><circle cx="77.7" cy="227.7" r="0.7" fill="#e0e8f4" opacity="0.32"/><circle cx="50.5" cy="286.8" r="0.6" fill="#e0e8f4" opacity="0.50"/><circle cx="89.3" cy="276.3" r="0.6" fill="#e0e8f4" opacity="0.41"/><circle cx="47.3" cy="230.0" r="0.8" fill="#e0e8f4" opacity="0.68"/><circle cx="113.4" cy="277.3" r="0.5" fill="#e0e8f4" opacity="0.31"/><circle cx="98.0" cy="279.6" r="0.8" fill="#e0e8f4" opacity="0.53"/><circle cx="20.0" cy="229.2" r="1.1" fill="#e0e8f4" opacity="0.63"/><circle cx="114.1" cy="287.2" r="0.6" fill="#e0e8f4" opacity="0.34"/><circle cx="37.0" cy="242.2" r="0.9" fill="#e0e8f4" opacity="0.68"/><circle cx="99.4" cy="254.7" r="1.0" fill="#e0e8f4" opacity="0.48"/><circle cx="80.7" cy="194.0" r="1.0" fill="#e0e8f4" opacity="0.39"/><circle cx="121.2" cy="254.6" r="0.7" fill="#e0e8f4" opacity="0.35"/><circle cx="47.7" cy="253.6" r="0.9" fill="#e0e8f4" opacity="0.34"/><circle cx="27.7" cy="242.4" r="0.8" fill="#e0e8f4" opacity="0.46"/><circle cx="44.6" cy="250.1" r="0.5" fill="#e0e8f4" opacity="0.42"/><circle cx="70.7" cy="285.9" r="0.9" fill="#e0e8f4" opacity="0.65"/><circle cx="72.3" cy="213.5" r="0.6" fill="#e0e8f4" opacity="0.68"/><circle cx="97.5" cy="220.7" r="0.5" fill="#e0e8f4" opacity="0.50"/><circle cx="94.2" cy="232.0" r="0.7" fill="#e0e8f4" opacity="0.57"/><circle cx="121.8" cy="212.7" r="0.5" fill="#e0e8f4" opacity="0.44"/><circle cx="66.3" cy="258.3" r="0.6" fill="#e0e8f4" opacity="0.62"/><circle cx="101.3" cy="240.5" r="0.6" fill="#e0e8f4" opacity="0.69"/></g>
<path d="M33,35 C52,66 66,90 71.6,102 C75,120 76,150 76,168" stroke="url(#bandg)" stroke-width="7" fill="none" opacity="0.5"/>
<path d="M66,88 C69,94 71,99 72.5,104 C75.5,122 76.2,150 76.2,168" stroke="#8098c0" stroke-width="1.3" fill="none" opacity="0.35"/>
<path d="M248.3,44.5 C232,72 214.5,100 205,130 C200,145 198,158 196,166" stroke="url(#bandg)" stroke-width="7" fill="none" opacity="0.5"/>
<path d="M218,92 C213,101 208,115 203.8,130 C199,145 197,158 195.5,166" stroke="#8098c0" stroke-width="1.3" fill="none" opacity="0.35"/>
</g>
<line x1="20" y1="34.5" x2="250" y2="34.5" stroke="#5a6070" stroke-width="0.8"/>
<text x="20.5" y="29.9" font-family="Liberation Sans, sans-serif" font-size="6.6" fill="#e6e6e6" textLength="138" lengthAdjust="spacingAndGlyphs">www.nature.com/nature/April/2025/Vol.XX No.XX</text>
<text x="21.5" y="76.8" font-family="Liberation Serif, serif" font-weight="bold" font-size="60" fill="#ffffff" textLength="162.5" lengthAdjust="spacingAndGlyphs" stroke="#fff" stroke-width="1">nature</text>
<text x="240.4" y="35.3" text-anchor="middle" font-family="Liberation Sans, sans-serif" font-size="27.5" letter-spacing="1.7" fill="#ffffff">(a)</text>
<line x1="19.6" y1="317.1" x2="135.6" y2="317.1" stroke="#a0a8c0" stroke-width="1"/>
<text x="19" y="328.3" font-family="Liberation Sans, sans-serif" font-size="10.4" font-weight="bold" fill="#e8ecf4" textLength="119" lengthAdjust="spacingAndGlyphs">Utlta Strong Entanglement</text>
</svg>
<svg width="1269" height="415" viewBox="0 0 1269 415" style="position:absolute;left:0;top:0"><defs><linearGradient id="g9" x1="0" y1="0" x2="0" y2="1"><stop offset="0.0000" stop-color="#def8f0"/><stop offset="0.0095" stop-color="#def8f0"/><stop offset="0.0190" stop-color="#def8f0"/><stop offset="0.0285" stop-color="#def8f0"/><stop offset="0.0379" stop-color="#def8f0"/><stop offset="0.0474" stop-color="#def8f0"/><stop offset="0.0569" stop-color="#def8f0"/><stop offset="0.0664" stop-color="#def8f0"/><stop offset="0.0759" stop-color="#def8f0"/><stop offset="0.0854" stop-color="#def8f0"/><stop offset="0.0948" stop-color="#def8f0"/><stop offset="0.1043" stop-color="#def8f0"/><stop offset="0.1138" stop-color="#def8f0"/><stop offset="0.1233" stop-color="#def8f0"/><stop offset="0.1328" stop-color="#dff8f0"/><stop offset="0.1423" stop-color="#dff8f0"/><stop offset="0.1518" stop-color="#dff8f0"/><stop offset="0.1612" stop-color="#dff8f0"/><stop offset="0.1707" stop-color="#dff8f0"/><stop offset="0.1802" stop-color="#def8f0"/><stop offset="0.1897" stop-color="#def8f0"/><stop offset="0.1992" stop-color="#def8f0"/><stop offset="0.2087" stop-color="#def8f0"/><stop offset="0.2181" stop-color="#def8f0"/><stop offset="0.2276" stop-color="#def8f0"/><stop offset="0.2371" stop-color="#def8f0"/><stop offset="0.2466" stop-color="#def8f0"/><stop offset="0.2561" stop-color="#def8f0"/><stop offset="0.2656" stop-color="#def8f0"/><stop offset="0.2751" stop-color="#dff8f0"/><stop offset="0.2845" stop-color="#dff8f0"/><stop offset="0.2940" stop-color="#dff8f0"/><stop offset="0.3035" stop-color="#dff8f0"/><stop offset="0.3130" stop-color="#dff8f0"/><stop offset="0.3225" stop-color="#dff8f0"/><stop offset="0.3320" stop-color="#def8f0"/><stop offset="0.3414" stop-color="#def8f0"/><stop offset="0.3509" stop-color="#def8f0"/><stop offset="0.3604" stop-color="#def8f0"/><stop offset="0.3699" stop-color="#def8f0"/><stop offset="0.3794" stop-color="#def8f0"/><stop offset="0.3889" stop-color="#def8f0"/><stop offset="0.3984" stop-color="#def8f0"/><stop offset="0.4078" stop-color="#def8f0"/><stop offset="0.4173" stop-color="#def8f0"/><stop offset="0.4268" stop-color="#def8f0"/><stop offset="0.4363" stop-color="#dff8f0"/><stop offset="0.4458" stop-color="#dff8f0"/><stop offset="0.4553" stop-color="#dff8f0"/><stop offset="0.4647" stop-color="#dff8f0"/><stop offset="0.4742" stop-color="#dff8f0"/><stop offset="0.4837" stop-color="#dff8f0"/><stop offset="0.4932" stop-color="#def8f0"/><stop offset="0.5027" stop-color="#def8f0"/><stop offset="0.5122" stop-color="#def8f0"/><stop offset="0.5217" stop-color="#def8f0"/><stop offset="0.5311" stop-color="#ddf8f0"/><stop offset="0.5406" stop-color="#ddf8f0"/><stop offset="0.5501" stop-color="#ddf8f0"/><stop offset="0.5596" stop-color="#ddf8f0"/><stop offset="0.5691" stop-color="#def8f0"/><stop offset="0.5786" stop-color="#def8f0"/><stop offset="0.5880" stop-color="#def8f0"/><stop offset="0.5975" stop-color="#def8f0"/><stop offset="0.6070" stop-color="#def8f0"/><stop offset="0.6165" stop-color="#dff8f0"/><stop offset="0.6260" stop-color="#dff8f0"/><stop offset="0.6355" stop-color="#dff8f0"/><stop offset="0.6450" stop-color="#dff8f0"/><stop offset="0.6544" stop-color="#def8f0"/><stop offset="0.6639" stop-color="#def8f0"/><stop offset="0.6734" stop-color="#def8f0"/><stop offset="0.6829" stop-color="#def8f0"/><stop offset="0.6924" stop-color="#def8f0"/><stop offset="0.7019" stop-color="#ddf8f0"/><stop offset="0.7113" stop-color="#ddf8f0"/><stop offset="0.7208" stop-color="#ddf8f0"/><stop offset="0.7303" stop-color="#ddf8ef"/><stop offset="0.7398" stop-color="#ddf8ef"/><stop offset="0.7493" stop-color="#ddf8ef"/><stop offset="0.7588" stop-color="#ddf8ef"/><stop offset="0.7683" stop-color="#ddf8ef"/><stop offset="0.7777" stop-color="#ddf8ef"/><stop offset="0.7872" stop-color="#ddf8ef"/><stop offset="0.7967" stop-color="#def8f0"/><stop offset="0.8062" stop-color="#def8f0"/><stop offset="0.8157" stop-color="#def8f0"/><stop offset="0.8252" stop-color="#dff8f0"/><stop offset="0.8347" stop-color="#dff8f0"/><stop offset="0.8441" stop-color="#dff8f0"/><stop offset="0.8536" stop-color="#dff8f0"/><stop offset="0.8631" stop-color="#e0f8f0"/><stop offset="0.8726" stop-color="#e0f8f0"/><stop offset="0.8821" stop-color="#e0f8f0"/><stop offset="0.8916" stop-color="#e0f8f1"/><stop offset="0.9010" stop-color="#e0f8f1"/><stop offset="0.9105" stop-color="#e0f8f1"/><stop offset="0.9200" stop-color="#e0f8f1"/><stop offset="0.9295" stop-color="#e0f8f1"/><stop offset="0.9390" stop-color="#e0f8f1"/><stop offset="0.9485" stop-color="#e0f8f1"/><stop offset="0.9580" stop-color="#e1f8f1"/><stop offset="0.9674" stop-color="#e1f8f1"/><stop offset="0.9769" stop-color="#e1f8f1"/><stop offset="0.9864" stop-color="#e1f8f1"/><stop offset="0.9959" stop-color="#e1f8f1"/><stop offset="1.0000" stop-color="#e1f8f1"/></linearGradient><linearGradient id="g10" x1="0" y1="0" x2="0" y2="1"><stop offset="0.0000" stop-color="#d3f6ed"/><stop offset="0.0095" stop-color="#d3f6ec"/><stop offset="0.0190" stop-color="#d3f6ec"/><stop offset="0.0285" stop-color="#d2f6ec"/><stop offset="0.0379" stop-color="#d2f6ec"/><stop offset="0.0474" stop-color="#d2f6ec"/><stop offset="0.0569" stop-color="#d2f6ec"/><stop offset="0.0664" stop-color="#d1f6ec"/><stop offset="0.0759" stop-color="#d1f6ec"/><stop offset="0.0854" stop-color="#d1f6ec"/><stop offset="0.0948" stop-color="#d1f6ec"/><stop offset="0.1043" stop-color="#d2f6ec"/><stop offset="0.1138" stop-color="#d3f6ec"/><stop offset="0.1233" stop-color="#d3f6ed"/><stop offset="0.1328" stop-color="#d4f6ed"/><stop offset="0.1423" stop-color="#d4f6ed"/><stop offset="0.1518" stop-color="#d4f6ed"/><stop offset="0.1612" stop-color="#d4f6ed"/><stop offset="0.1707" stop-color="#d4f6ed"/><stop offset="0.1802" stop-color="#d3f6ed"/><stop offset="0.1897" stop-color="#d3f6ec"/><stop offset="0.1992" stop-color="#d2f6ec"/><stop offset="0.2087" stop-color="#d1f6ec"/><stop offset="0.2181" stop-color="#d1f6ec"/><stop offset="0.2276" stop-color="#d1f6ec"/><stop offset="0.2371" stop-color="#d1f6ec"/><stop offset="0.2466" stop-color="#d2f6ec"/><stop offset="0.2561" stop-color="#d2f6ec"/><stop offset="0.2656" stop-color="#d3f6ec"/><stop offset="0.2751" stop-color="#d4f6ed"/><stop offset="0.2845" stop-color="#d4f6ed"/><stop offset="0.2940" stop-color="#d4f6ed"/><stop offset="0.3035" stop-color="#d4f6ed"/><stop offset="0.3130" stop-color="#d4f6ed"/><stop offset="0.3225" stop-color="#d4f6ed"/><stop offset="0.3320" stop-color="#d3f6ed"/><stop offset="0.3414" stop-color="#d2f6ec"/><stop offset="0.3509" stop-color="#d2f6ec"/><stop offset="0.3604" stop-color="#d1f6ec"/><stop offset="0.3699" stop-color="#d1f6ec"/><stop offset="0.3794" stop-color="#d1f6ec"/><stop offset="0.3889" stop-color="#d1f6ec"/><stop offset="0.3984" stop-color="#d1f6ec"/><stop offset="0.4078" stop-color="#d2f6ec"/><stop offset="0.4173" stop-color="#d2f6ec"/><stop offset="0.4268" stop-color="#d3f6ec"/><stop offset="0.4363" stop-color="#d3f6ed"/><stop offset="0.4458" stop-color="#d4f6ed"/><stop offset="0.4553" stop-color="#d4f6ed"/><stop offset="0.4647" stop-color="#d4f6ed"/><stop offset="0.4742" stop-color="#d4f6ed"/><stop offset="0.4837" stop-color="#d3f6ed"/><stop offset="0.4932" stop-color="#d3f6ec"/><stop offset="0.5027" stop-color="#d2f6ec"/><stop offset="0.5122" stop-color="#d1f6ec"/><stop offset="0.5217" stop-color="#d0f6ec"/><stop offset="0.5311" stop-color="#d0f6ec"/><stop offset="0.5406" stop-color="#cff6eb"/><stop offset="0.5501" stop-color="#cff6eb"/><stop offset="0.5596" stop-color="#cff6eb"/><stop offset="0.5691" stop-color="#d0f6ec"/><stop offset="0.5786" stop-color="#d1f6ec"/><stop offset="0.5880" stop-color="#d2f6ec"/><stop offset="0.5975" stop-color="#d3f6ec"/><stop offset="0.6070" stop-color="#d3f6ed"/><stop offset="0.6165" stop-color="#d4f6ed"/><stop offset="0.6260" stop-color="#d4f6ed"/><stop offset="0.6355" stop-color="#d4f6ed"/><stop offset="0.6450" stop-color="#d4f6ed"/><stop offset="0.6544" stop-color="#d3f6ed"/><stop offset="0.6639" stop-color="#d3f6ec"/><stop offset="0.6734" stop-color="#d2f6ec"/><stop offset="0.6829" stop-color="#d1f6ec"/><stop offset="0.6924" stop-color="#d0f6ec"/><stop offset="0.7019" stop-color="#d0f6ec"/><stop offset="0.7113" stop-color="#cff6eb"/><stop offset="0.7208" stop-color="#cff6eb"/><stop offset="0.7303" stop-color="#cff6eb"/><stop offset="0.7398" stop-color="#cef6eb"/><stop offset="0.7493" stop-color="#cef6eb"/><stop offset="0.7588" stop-color="#cef6eb"/><stop offset="0.7683" stop-color="#cef6eb"/><stop offset="0.7777" stop-color="#cff6eb"/><stop offset="0.7872" stop-color="#cff6eb"/><stop offset="0.7967" stop-color="#d0f6ec"/><stop offset="0.8062" stop-color="#d1f6ec"/><stop offset="0.8157" stop-color="#d2f6ec"/><stop offset="0.8252" stop-color="#d4f6ed"/><stop offset="0.8347" stop-color="#d6f7ed"/><stop offset="0.8441" stop-color="#d7f7ee"/><stop offset="0.8536" stop-color="#d9f7ee"/><stop offset="0.8631" stop-color="#dbf7ef"/><stop offset="0.8726" stop-color="#dcf8ef"/><stop offset="0.8821" stop-color="#ddf8ef"/><stop offset="0.8916" stop-color="#dff8f0"/><stop offset="0.9010" stop-color="#dff8f0"/><stop offset="0.9105" stop-color="#e0f8f0"/><stop offset="0.9200" stop-color="#e0f8f0"/><stop offset="0.9295" stop-color="#e0f8f1"/><stop offset="0.9390" stop-color="#e0f8f1"/><stop offset="0.9485" stop-color="#e0f8f1"/><stop offset="0.9580" stop-color="#e0f8f1"/><stop offset="0.9674" stop-color="#e0f8f1"/><stop offset="0.9769" stop-color="#e0f8f1"/><stop offset="0.9864" stop-color="#e1f8f1"/><stop offset="0.9959" stop-color="#e1f8f1"/><stop offset="1.0000" stop-color="#e1f8f1"/></linearGradient><linearGradient id="g11" x1="0" y1="0" x2="0" y2="1"><stop offset="0.0000" stop-color="#adf1e1"/><stop offset="0.0095" stop-color="#acf1e1"/><stop offset="0.0190" stop-color="#abf0e1"/><stop offset="0.0285" stop-color="#a9f0e0"/><stop offset="0.0379" stop-color="#a9f0e0"/><stop offset="0.0474" stop-color="#a9f0e0"/><stop offset="0.0569" stop-color="#a8f0e0"/><stop offset="0.0664" stop-color="#a7f0e0"/><stop offset="0.0759" stop-color="#a6f0df"/><stop offset="0.0854" stop-color="#a6f0df"/><stop offset="0.0948" stop-color="#a7f0e0"/><stop offset="0.1043" stop-color="#a9f0e0"/><stop offset="0.1138" stop-color="#abf0e1"/><stop offset="0.1233" stop-color="#adf1e1"/><stop offset="0.1328" stop-color="#aff1e2"/><stop offset="0.1423" stop-color="#b0f1e2"/><stop offset="0.1518" stop-color="#b0f1e2"/><stop offset="0.1612" stop-color="#b0f1e2"/><stop offset="0.1707" stop-color="#aff1e2"/><stop offset="0.1802" stop-color="#adf1e1"/><stop offset="0.1897" stop-color="#abf0e1"/><stop offset="0.1992" stop-color="#a8f0e0"/><stop offset="0.2087" stop-color="#a7f0e0"/><stop offset="0.2181" stop-color="#a6f0df"/><stop offset="0.2276" stop-color="#a5efdf"/><stop offset="0.2371" stop-color="#a6f0df"/><stop offset="0.2466" stop-color="#a7f0e0"/><stop offset="0.2561" stop-color="#a9f0e0"/><stop offset="0.2656" stop-color="#acf1e1"/><stop offset="0.2751" stop-color="#aef1e2"/><stop offset="0.2845" stop-color="#b0f1e2"/><stop offset="0.2940" stop-color="#b1f1e3"/><stop offset="0.3035" stop-color="#b1f1e3"/><stop offset="0.3130" stop-color="#b1f1e2"/><stop offset="0.3225" stop-color="#aff1e2"/><stop offset="0.3320" stop-color="#adf1e1"/><stop offset="0.3414" stop-color="#abf0e1"/><stop offset="0.3509" stop-color="#a8f0e0"/><stop offset="0.3604" stop-color="#a6f0df"/><stop offset="0.3699" stop-color="#a5efdf"/><stop offset="0.3794" stop-color="#a5efdf"/><stop offset="0.3889" stop-color="#a5efdf"/><stop offset="0.3984" stop-color="#a6f0df"/><stop offset="0.4078" stop-color="#a7f0e0"/><stop offset="0.4173" stop-color="#a9f0e0"/><stop offset="0.4268" stop-color="#acf1e1"/><stop offset="0.4363" stop-color="#aef1e2"/><stop offset="0.4458" stop-color="#aff1e2"/><stop offset="0.4553" stop-color="#b0f1e2"/><stop offset="0.4647" stop-color="#b0f1e2"/><stop offset="0.4742" stop-color="#b0f1e2"/><stop offset="0.4837" stop-color="#aef1e2"/><stop offset="0.4932" stop-color="#abf0e1"/><stop offset="0.5027" stop-color="#a9f0e0"/><stop offset="0.5122" stop-color="#a6f0df"/><stop offset="0.5217" stop-color="#a4efde"/><stop offset="0.5311" stop-color="#a2efde"/><stop offset="0.5406" stop-color="#a1eedd"/><stop offset="0.5501" stop-color="#a0eedd"/><stop offset="0.5596" stop-color="#a1efde"/><stop offset="0.5691" stop-color="#a3efde"/><stop offset="0.5786" stop-color="#a5efdf"/><stop offset="0.5880" stop-color="#a8f0e0"/><stop offset="0.5975" stop-color="#abf0e1"/><stop offset="0.6070" stop-color="#aef1e2"/><stop offset="0.6165" stop-color="#b0f1e2"/><stop offset="0.6260" stop-color="#b0f1e2"/><stop offset="0.6355" stop-color="#b0f1e2"/><stop offset="0.6450" stop-color="#aff1e2"/><stop offset="0.6544" stop-color="#adf1e2"/><stop offset="0.6639" stop-color="#abf0e1"/><stop offset="0.6734" stop-color="#a8f0e0"/><stop offset="0.6829" stop-color="#a6f0df"/><stop offset="0.6924" stop-color="#a4efde"/><stop offset="0.7019" stop-color="#a2efde"/><stop offset="0.7113" stop-color="#a1eedd"/><stop offset="0.7208" stop-color="#a0eedd"/><stop offset="0.7303" stop-color="#a0eedd"/><stop offset="0.7398" stop-color="#9eeedc"/><stop offset="0.7493" stop-color="#9deedc"/><stop offset="0.7588" stop-color="#9deedc"/><stop offset="0.7683" stop-color="#9eeedc"/><stop offset="0.7777" stop-color="#9feedd"/><stop offset="0.7872" stop-color="#9feedd"/><stop offset="0.7967" stop-color="#a3efde"/><stop offset="0.8062" stop-color="#a7f0e0"/><stop offset="0.8157" stop-color="#a9f0e0"/><stop offset="0.8252" stop-color="#aef1e2"/><stop offset="0.8347" stop-color="#b6f2e4"/><stop offset="0.8441" stop-color="#b9f2e5"/><stop offset="0.8536" stop-color="#bff3e7"/><stop offset="0.8631" stop-color="#c8f5e9"/><stop offset="0.8726" stop-color="#cbf5ea"/><stop offset="0.8821" stop-color="#cef6eb"/><stop offset="0.8916" stop-color="#d5f7ed"/><stop offset="0.9010" stop-color="#d9f7ee"/><stop offset="0.9105" stop-color="#daf7ee"/><stop offset="0.9200" stop-color="#dcf8ef"/><stop offset="0.9295" stop-color="#def8f0"/><stop offset="0.9390" stop-color="#dff8f0"/><stop offset="0.9485" stop-color="#dff8f0"/><stop offset="0.9580" stop-color="#e0f8f0"/><stop offset="0.9674" stop-color="#e0f8f1"/><stop offset="0.9769" stop-color="#e0f8f1"/><stop offset="0.9864" stop-color="#e0f8f1"/><stop offset="0.9959" stop-color="#e0f8f1"/><stop offset="1.0000" stop-color="#e0f8f1"/></linearGradient><linearGradient id="g12" x1="0" y1="0" x2="0" y2="1"><stop offset="0.0000" stop-color="#4bd9bd"/><stop offset="0.0095" stop-color="#4ad9bc"/><stop offset="0.0190" stop-color="#47d8bb"/><stop offset="0.0285" stop-color="#44d7ba"/><stop offset="0.0379" stop-color="#43d7b9"/><stop offset="0.0474" stop-color="#42d7b9"/><stop offset="0.0569" stop-color="#40d6b8"/><stop offset="0.0664" stop-color="#3fd5b7"/><stop offset="0.0759" stop-color="#3ed5b7"/><stop offset="0.0854" stop-color="#3ed5b7"/><stop offset="0.0948" stop-color="#3fd5b8"/><stop offset="0.1043" stop-color="#42d7b9"/><stop offset="0.1138" stop-color="#47d8bb"/><stop offset="0.1233" stop-color="#4cd9bd"/><stop offset="0.1328" stop-color="#50dbbf"/><stop offset="0.1423" stop-color="#53dbc0"/><stop offset="0.1518" stop-color="#53dcc0"/><stop offset="0.1612" stop-color="#52dbc0"/><stop offset="0.1707" stop-color="#4fdabe"/><stop offset="0.1802" stop-color="#4bd9bd"/><stop offset="0.1897" stop-color="#46d8bb"/><stop offset="0.1992" stop-color="#42d6b9"/><stop offset="0.2087" stop-color="#3fd5b7"/><stop offset="0.2181" stop-color="#3ed4b7"/><stop offset="0.2276" stop-color="#3dd4b6"/><stop offset="0.2371" stop-color="#3ed4b7"/><stop offset="0.2466" stop-color="#40d6b8"/><stop offset="0.2561" stop-color="#44d7ba"/><stop offset="0.2656" stop-color="#49d9bc"/><stop offset="0.2751" stop-color="#4fdabe"/><stop offset="0.2845" stop-color="#53dbc0"/><stop offset="0.2940" stop-color="#55dcc1"/><stop offset="0.3035" stop-color="#55dcc1"/><stop offset="0.3130" stop-color="#54dcc0"/><stop offset="0.3225" stop-color="#50dbbf"/><stop offset="0.3320" stop-color="#4cd9bd"/><stop offset="0.3414" stop-color="#46d8bb"/><stop offset="0.3509" stop-color="#41d6b9"/><stop offset="0.3604" stop-color="#3ed5b7"/><stop offset="0.3699" stop-color="#3dd3b6"/><stop offset="0.3794" stop-color="#3cd3b6"/><stop offset="0.3889" stop-color="#3cd3b6"/><stop offset="0.3984" stop-color="#3ed4b7"/><stop offset="0.4078" stop-color="#40d6b8"/><stop offset="0.4173" stop-color="#44d7ba"/><stop offset="0.4268" stop-color="#49d9bc"/><stop offset="0.4363" stop-color="#4edabe"/><stop offset="0.4458" stop-color="#51dbbf"/><stop offset="0.4553" stop-color="#53dcc0"/><stop offset="0.4647" stop-color="#53dcc0"/><stop offset="0.4742" stop-color="#51dbbf"/><stop offset="0.4837" stop-color="#4ddabe"/><stop offset="0.4932" stop-color="#48d8bb"/><stop offset="0.5027" stop-color="#42d7b9"/><stop offset="0.5122" stop-color="#3ed4b7"/><stop offset="0.5217" stop-color="#3bd2b5"/><stop offset="0.5311" stop-color="#39d0b4"/><stop offset="0.5406" stop-color="#37ceb3"/><stop offset="0.5501" stop-color="#37ceb2"/><stop offset="0.5596" stop-color="#38cfb3"/><stop offset="0.5691" stop-color="#3ad0b4"/><stop offset="0.5786" stop-color="#3dd3b6"/><stop offset="0.5880" stop-color="#40d6b8"/><stop offset="0.5975" stop-color="#47d8bb"/><stop offset="0.6070" stop-color="#4ddabd"/><stop offset="0.6165" stop-color="#51dbbf"/><stop offset="0.6260" stop-color="#53dcc0"/><stop offset="0.6355" stop-color="#53dbc0"/><stop offset="0.6450" stop-color="#50dbbf"/><stop offset="0.6544" stop-color="#4cdabd"/><stop offset="0.6639" stop-color="#47d8bb"/><stop offset="0.6734" stop-color="#41d6b8"/><stop offset="0.6829" stop-color="#3dd4b6"/><stop offset="0.6924" stop-color="#3bd1b5"/><stop offset="0.7019" stop-color="#39d0b4"/><stop offset="0.7113" stop-color="#37ceb3"/><stop offset="0.7208" stop-color="#37ceb2"/><stop offset="0.7303" stop-color="#36cdb2"/><stop offset="0.7398" stop-color="#34cbb1"/><stop offset="0.7493" stop-color="#33cab0"/><stop offset="0.7588" stop-color="#33cbb0"/><stop offset="0.7683" stop-color="#34cbb1"/><stop offset="0.7777" stop-color="#34ccb1"/><stop offset="0.7872" stop-color="#35cdb1"/><stop offset="0.7967" stop-color="#3ad0b4"/><stop offset="0.8062" stop-color="#3fd5b8"/><stop offset="0.8157" stop-color="#43d7b9"/><stop offset="0.8252" stop-color="#4fdabe"/><stop offset="0.8347" stop-color="#60dfc6"/><stop offset="0.8441" stop-color="#66e1c8"/><stop offset="0.8536" stop-color="#76e5ce"/><stop offset="0.8631" stop-color="#8eead7"/><stop offset="0.8726" stop-color="#97ecda"/><stop offset="0.8821" stop-color="#a1eedd"/><stop offset="0.8916" stop-color="#b5f2e4"/><stop offset="0.9010" stop-color="#c2f4e8"/><stop offset="0.9105" stop-color="#c5f4e8"/><stop offset="0.9200" stop-color="#cdf5eb"/><stop offset="0.9295" stop-color="#d4f6ed"/><stop offset="0.9390" stop-color="#d6f7ed"/><stop offset="0.9485" stop-color="#d9f7ee"/><stop offset="0.9580" stop-color="#ddf8ef"/><stop offset="0.9674" stop-color="#def8f0"/><stop offset="0.9769" stop-color="#dff8f0"/><stop offset="0.9864" stop-color="#dff8f0"/><stop offset="0.9959" stop-color="#e0f8f0"/><stop offset="1.0000" stop-color="#e0f8f0"/></linearGradient><linearGradient id="g13" x1="0" y1="0" x2="0" y2="1"><stop offset="0.0000" stop-color="#0e7e88"/><stop offset="0.0095" stop-color="#0e7b87"/><stop offset="0.0190" stop-color="#0e7684"/><stop offset="0.0285" stop-color="#0d7181"/><stop offset="0.0379" stop-color="#0d6f81"/><stop offset="0.0474" stop-color="#0d6e80"/><stop offset="0.0569" stop-color="#0d6a7e"/><stop offset="0.0664" stop-color="#0d677c"/><stop offset="0.0759" stop-color="#0d647b"/><stop offset="0.0854" stop-color="#0d647b"/><stop offset="0.0948" stop-color="#0d687d"/><stop offset="0.1043" stop-color="#0d6e80"/><stop offset="0.1138" stop-color="#0e7684"/><stop offset="0.1233" stop-color="#0e7f88"/><stop offset="0.1328" stop-color="#0f848b"/><stop offset="0.1423" stop-color="#10888d"/><stop offset="0.1518" stop-color="#10898e"/><stop offset="0.1612" stop-color="#10888d"/><stop offset="0.1707" stop-color="#0f848b"/><stop offset="0.1802" stop-color="#0e7e88"/><stop offset="0.1897" stop-color="#0e7684"/><stop offset="0.1992" stop-color="#0d6d80"/><stop offset="0.2087" stop-color="#0d667c"/><stop offset="0.2181" stop-color="#0d627a"/><stop offset="0.2276" stop-color="#0d6079"/><stop offset="0.2371" stop-color="#0d637a"/><stop offset="0.2466" stop-color="#0d697d"/><stop offset="0.2561" stop-color="#0e7182"/><stop offset="0.2656" stop-color="#0e7b87"/><stop offset="0.2751" stop-color="#0f838b"/><stop offset="0.2845" stop-color="#10898e"/><stop offset="0.2940" stop-color="#108c8f"/><stop offset="0.3035" stop-color="#108c8f"/><stop offset="0.3130" stop-color="#108a8e"/><stop offset="0.3225" stop-color="#0f858c"/><stop offset="0.3320" stop-color="#0e7f88"/><stop offset="0.3414" stop-color="#0e7684"/><stop offset="0.3509" stop-color="#0d6c7f"/><stop offset="0.3604" stop-color="#0d657b"/><stop offset="0.3699" stop-color="#0d5f79"/><stop offset="0.3794" stop-color="#0d5d77"/><stop offset="0.3889" stop-color="#0d5e78"/><stop offset="0.3984" stop-color="#0d627a"/><stop offset="0.4078" stop-color="#0d697d"/><stop offset="0.4173" stop-color="#0e7182"/><stop offset="0.4268" stop-color="#0e7a86"/><stop offset="0.4363" stop-color="#0f818a"/><stop offset="0.4458" stop-color="#0f868c"/><stop offset="0.4553" stop-color="#10898e"/><stop offset="0.4647" stop-color="#10898e"/><stop offset="0.4742" stop-color="#0f868c"/><stop offset="0.4837" stop-color="#0f818a"/><stop offset="0.4932" stop-color="#0e7985"/><stop offset="0.5027" stop-color="#0d6e80"/><stop offset="0.5122" stop-color="#0d637a"/><stop offset="0.5217" stop-color="#0d5975"/><stop offset="0.5311" stop-color="#0c5171"/><stop offset="0.5406" stop-color="#0c4c6f"/><stop offset="0.5501" stop-color="#0c4a6e"/><stop offset="0.5596" stop-color="#0c4d6f"/><stop offset="0.5691" stop-color="#0c5473"/><stop offset="0.5786" stop-color="#0d5e78"/><stop offset="0.5880" stop-color="#0d6b7e"/><stop offset="0.5975" stop-color="#0e7784"/><stop offset="0.6070" stop-color="#0e8189"/><stop offset="0.6165" stop-color="#10878d"/><stop offset="0.6260" stop-color="#10898e"/><stop offset="0.6355" stop-color="#10898e"/><stop offset="0.6450" stop-color="#0f858c"/><stop offset="0.6544" stop-color="#0e8089"/><stop offset="0.6639" stop-color="#0e7784"/><stop offset="0.6734" stop-color="#0d6c7f"/><stop offset="0.6829" stop-color="#0d617a"/><stop offset="0.6924" stop-color="#0d5875"/><stop offset="0.7019" stop-color="#0c5071"/><stop offset="0.7113" stop-color="#0c4b6f"/><stop offset="0.7208" stop-color="#0c4a6e"/><stop offset="0.7303" stop-color="#0c486d"/><stop offset="0.7398" stop-color="#0c456b"/><stop offset="0.7493" stop-color="#0c4269"/><stop offset="0.7588" stop-color="#0c436a"/><stop offset="0.7683" stop-color="#0c446b"/><stop offset="0.7777" stop-color="#0c466c"/><stop offset="0.7872" stop-color="#0c476c"/><stop offset="0.7967" stop-color="#0c5473"/><stop offset="0.8062" stop-color="#0d687d"/><stop offset="0.8157" stop-color="#0d6f81"/><stop offset="0.8252" stop-color="#0f838b"/><stop offset="0.8347" stop-color="#139b97"/><stop offset="0.8441" stop-color="#15a29b"/><stop offset="0.8536" stop-color="#1fb6a3"/><stop offset="0.8631" stop-color="#34ccb1"/><stop offset="0.8726" stop-color="#3dd4b6"/><stop offset="0.8821" stop-color="#4edabe"/><stop offset="0.8916" stop-color="#73e5cd"/><stop offset="0.9010" stop-color="#92ebd8"/><stop offset="0.9105" stop-color="#98edda"/><stop offset="0.9200" stop-color="#aaf0e1"/><stop offset="0.9295" stop-color="#bcf3e6"/><stop offset="0.9390" stop-color="#c1f4e7"/><stop offset="0.9485" stop-color="#c9f5ea"/><stop offset="0.9580" stop-color="#d3f6ed"/><stop offset="0.9674" stop-color="#d7f7ee"/><stop offset="0.9769" stop-color="#d9f7ee"/><stop offset="0.9864" stop-color="#dcf8ef"/><stop offset="0.9959" stop-color="#dff8f0"/><stop offset="1.0000" stop-color="#dff8f0"/></linearGradient><linearGradient id="g14" x1="0" y1="0" x2="0" y2="1"><stop offset="0.0000" stop-color="#21baa5"/><stop offset="0.0095" stop-color="#20b9a5"/><stop offset="0.0190" stop-color="#1fb6a3"/><stop offset="0.0285" stop-color="#1eb4a2"/><stop offset="0.0379" stop-color="#1db3a2"/><stop offset="0.0474" stop-color="#1db2a2"/><stop offset="0.0569" stop-color="#1cb1a1"/><stop offset="0.0664" stop-color="#1bafa0"/><stop offset="0.0759" stop-color="#1baea0"/><stop offset="0.0854" stop-color="#1baea0"/><stop offset="0.0948" stop-color="#1cafa1"/><stop offset="0.1043" stop-color="#1db2a2"/><stop offset="0.1138" stop-color="#1fb6a4"/><stop offset="0.1233" stop-color="#21baa5"/><stop offset="0.1328" stop-color="#24bea7"/><stop offset="0.1423" stop-color="#26c0a9"/><stop offset="0.1518" stop-color="#27c0a9"/><stop offset="0.1612" stop-color="#26bfa8"/><stop offset="0.1707" stop-color="#24bda7"/><stop offset="0.1802" stop-color="#21baa5"/><stop offset="0.1897" stop-color="#1fb6a3"/><stop offset="0.1992" stop-color="#1db2a2"/><stop offset="0.2087" stop-color="#1bafa0"/><stop offset="0.2181" stop-color="#1aad9f"/><stop offset="0.2276" stop-color="#1aac9f"/><stop offset="0.2371" stop-color="#1bada0"/><stop offset="0.2466" stop-color="#1cb0a1"/><stop offset="0.2561" stop-color="#1eb4a3"/><stop offset="0.2656" stop-color="#20b9a5"/><stop offset="0.2751" stop-color="#23bda7"/><stop offset="0.2845" stop-color="#26c0a9"/><stop offset="0.2940" stop-color="#28c1aa"/><stop offset="0.3035" stop-color="#28c2aa"/><stop offset="0.3130" stop-color="#27c0a9"/><stop offset="0.3225" stop-color="#24bea7"/><stop offset="0.3320" stop-color="#21baa5"/><stop offset="0.3414" stop-color="#1fb6a3"/><stop offset="0.3509" stop-color="#1db2a2"/><stop offset="0.3604" stop-color="#1baea0"/><stop offset="0.3699" stop-color="#1aab9f"/><stop offset="0.3794" stop-color="#19aa9e"/><stop offset="0.3889" stop-color="#19ab9f"/><stop offset="0.3984" stop-color="#1aad9f"/><stop offset="0.4078" stop-color="#1cb0a1"/><stop offset="0.4173" stop-color="#1eb4a3"/><stop offset="0.4268" stop-color="#20b8a4"/><stop offset="0.4363" stop-color="#22bca6"/><stop offset="0.4458" stop-color="#25bfa8"/><stop offset="0.4553" stop-color="#27c0a9"/><stop offset="0.4647" stop-color="#27c0a9"/><stop offset="0.4742" stop-color="#25bfa8"/><stop offset="0.4837" stop-color="#22bca6"/><stop offset="0.4932" stop-color="#20b8a4"/><stop offset="0.5027" stop-color="#1db2a2"/><stop offset="0.5122" stop-color="#1bada0"/><stop offset="0.5217" stop-color="#18a89e"/><stop offset="0.5311" stop-color="#16a49c"/><stop offset="0.5406" stop-color="#15a29b"/><stop offset="0.5501" stop-color="#15a19b"/><stop offset="0.5596" stop-color="#15a39b"/><stop offset="0.5691" stop-color="#17a69d"/><stop offset="0.5786" stop-color="#19ab9f"/><stop offset="0.5880" stop-color="#1cb1a1"/><stop offset="0.5975" stop-color="#1fb7a4"/><stop offset="0.6070" stop-color="#22bca6"/><stop offset="0.6165" stop-color="#25bfa8"/><stop offset="0.6260" stop-color="#27c0a9"/><stop offset="0.6355" stop-color="#26c0a9"/><stop offset="0.6450" stop-color="#24bea7"/><stop offset="0.6544" stop-color="#22bba6"/><stop offset="0.6639" stop-color="#1fb7a4"/><stop offset="0.6734" stop-color="#1db1a1"/><stop offset="0.6829" stop-color="#1aac9f"/><stop offset="0.6924" stop-color="#18a89d"/><stop offset="0.7019" stop-color="#16a49c"/><stop offset="0.7113" stop-color="#15a29b"/><stop offset="0.7208" stop-color="#15a19b"/><stop offset="0.7303" stop-color="#14a09a"/><stop offset="0.7398" stop-color="#139c98"/><stop offset="0.7493" stop-color="#139a97"/><stop offset="0.7588" stop-color="#139b97"/><stop offset="0.7683" stop-color="#139c98"/><stop offset="0.7777" stop-color="#149d99"/><stop offset="0.7872" stop-color="#149f99"/><stop offset="0.7967" stop-color="#17a69d"/><stop offset="0.8062" stop-color="#1cafa1"/><stop offset="0.8157" stop-color="#1eb3a2"/><stop offset="0.8252" stop-color="#23bda7"/><stop offset="0.8347" stop-color="#32caaf"/><stop offset="0.8441" stop-color="#36cdb2"/><stop offset="0.8536" stop-color="#44d7ba"/><stop offset="0.8631" stop-color="#62e0c6"/><stop offset="0.8726" stop-color="#6de3cb"/><stop offset="0.8821" stop-color="#7ce7d0"/><stop offset="0.8916" stop-color="#9aeddb"/><stop offset="0.9010" stop-color="#aef1e2"/><stop offset="0.9105" stop-color="#b3f2e3"/><stop offset="0.9200" stop-color="#bff3e7"/><stop offset="0.9295" stop-color="#cbf5ea"/><stop offset="0.9390" stop-color="#cdf5eb"/><stop offset="0.9485" stop-color="#d2f6ec"/><stop offset="0.9580" stop-color="#d9f7ee"/><stop offset="0.9674" stop-color="#dcf7ef"/><stop offset="0.9769" stop-color="#ddf8ef"/><stop offset="0.9864" stop-color="#dff8f0"/><stop offset="0.9959" stop-color="#dff8f0"/><stop offset="1.0000" stop-color="#e0f8f0"/></linearGradient><linearGradient id="g15" x1="0" y1="0" x2="0" y2="1"><stop offset="0.0000" stop-color="#adf1e1"/><stop offset="0.0095" stop-color="#acf1e1"/><stop offset="0.0190" stop-color="#abf0e1"/><stop offset="0.0285" stop-color="#a9f0e0"/><stop offset="0.0379" stop-color="#a9f0e0"/><stop offset="0.0474" stop-color="#a9f0e0"/><stop offset="0.0569" stop-color="#a8f0e0"/><stop offset="0.0664" stop-color="#a7f0e0"/><stop offset="0.0759" stop-color="#a6f0df"/><stop offset="0.0854" stop-color="#a6f0df"/><stop offset="0.0948" stop-color="#a7f0e0"/><stop offset="0.1043" stop-color="#a9f0e0"/><stop offset="0.1138" stop-color="#abf0e1"/><stop offset="0.1233" stop-color="#adf1e1"/><stop offset="0.1328" stop-color="#aff1e2"/><stop offset="0.1423" stop-color="#b0f1e2"/><stop offset="0.1518" stop-color="#b0f1e2"/><stop offset="0.1612" stop-color="#b0f1e2"/><stop offset="0.1707" stop-color="#aff1e2"/><stop offset="0.1802" stop-color="#adf1e1"/><stop offset="0.1897" stop-color="#abf0e1"/><stop offset="0.1992" stop-color="#a8f0e0"/><stop offset="0.2087" stop-color="#a7f0e0"/><stop offset="0.2181" stop-color="#a6f0df"/><stop offset="0.2276" stop-color="#a5efdf"/><stop offset="0.2371" stop-color="#a6f0df"/><stop offset="0.2466" stop-color="#a7f0e0"/><stop offset="0.2561" stop-color="#a9f0e0"/><stop offset="0.2656" stop-color="#acf1e1"/><stop offset="0.2751" stop-color="#aef1e2"/><stop offset="0.2845" stop-color="#b0f1e2"/><stop offset="0.2940" stop-color="#b1f1e3"/><stop offset="0.3035" stop-color="#b1f1e3"/><stop offset="0.3130" stop-color="#b1f1e2"/><stop offset="0.3225" stop-color="#aff1e2"/><stop offset="0.3320" stop-color="#adf1e1"/><stop offset="0.3414" stop-color="#abf0e1"/><stop offset="0.3509" stop-color="#a8f0e0"/><stop offset="0.3604" stop-color="#a6f0df"/><stop offset="0.3699" stop-color="#a5efdf"/><stop offset="0.3794" stop-color="#a5efdf"/><stop offset="0.3889" stop-color="#a5efdf"/><stop offset="0.3984" stop-color="#a6f0df"/><stop offset="0.4078" stop-color="#a7f0e0"/><stop offset="0.4173" stop-color="#a9f0e0"/><stop offset="0.4268" stop-color="#acf1e1"/><stop offset="0.4363" stop-color="#aef1e2"/><stop offset="0.4458" stop-color="#aff1e2"/><stop offset="0.4553" stop-color="#b0f1e2"/><stop offset="0.4647" stop-color="#b0f1e2"/><stop offset="0.4742" stop-color="#b0f1e2"/><stop offset="0.4837" stop-color="#aef1e2"/><stop offset="0.4932" stop-color="#abf0e1"/><stop offset="0.5027" stop-color="#a9f0e0"/><stop offset="0.5122" stop-color="#a6f0df"/><stop offset="0.5217" stop-color="#a4efde"/><stop offset="0.5311" stop-color="#a2efde"/><stop offset="0.5406" stop-color="#a1eedd"/><stop offset="0.5501" stop-color="#a0eedd"/><stop offset="0.5596" stop-color="#a1efde"/><stop offset="0.5691" stop-color="#a3efde"/><stop offset="0.5786" stop-color="#a5efdf"/><stop offset="0.5880" stop-color="#a8f0e0"/><stop offset="0.5975" stop-color="#abf0e1"/><stop offset="0.6070" stop-color="#aef1e2"/><stop offset="0.6165" stop-color="#b0f1e2"/><stop offset="0.6260" stop-color="#b0f1e2"/><stop offset="0.6355" stop-color="#b0f1e2"/><stop offset="0.6450" stop-color="#aff1e2"/><stop offset="0.6544" stop-color="#adf1e2"/><stop offset="0.6639" stop-color="#abf0e1"/><stop offset="0.6734" stop-color="#a8f0e0"/><stop offset="0.6829" stop-color="#a6f0df"/><stop offset="0.6924" stop-color="#a4efde"/><stop offset="0.7019" stop-color="#a2efde"/><stop offset="0.7113" stop-color="#a1eedd"/><stop offset="0.7208" stop-color="#a0eedd"/><stop offset="0.7303" stop-color="#a0eedd"/><stop offset="0.7398" stop-color="#9eeedc"/><stop offset="0.7493" stop-color="#9deedc"/><stop offset="0.7588" stop-color="#9deedc"/><stop offset="0.7683" stop-color="#9eeedc"/><stop offset="0.7777" stop-color="#9feedd"/><stop offset="0.7872" stop-color="#9feedd"/><stop offset="0.7967" stop-color="#a3efde"/><stop offset="0.8062" stop-color="#a7f0e0"/><stop offset="0.8157" stop-color="#a9f0e0"/><stop offset="0.8252" stop-color="#aef1e2"/><stop offset="0.8347" stop-color="#b6f2e4"/><stop offset="0.8441" stop-color="#b9f2e5"/><stop offset="0.8536" stop-color="#bff3e7"/><stop offset="0.8631" stop-color="#c8f5e9"/><stop offset="0.8726" stop-color="#cbf5ea"/><stop offset="0.8821" stop-color="#cef6eb"/><stop offset="0.8916" stop-color="#d5f7ed"/><stop offset="0.9010" stop-color="#d9f7ee"/><stop offset="0.9105" stop-color="#daf7ee"/><stop offset="0.9200" stop-color="#dcf8ef"/><stop offset="0.9295" stop-color="#def8f0"/><stop offset="0.9390" stop-color="#dff8f0"/><stop offset="0.9485" stop-color="#dff8f0"/><stop offset="0.9580" stop-color="#e0f8f0"/><stop offset="0.9674" stop-color="#e0f8f1"/><stop offset="0.9769" stop-color="#e0f8f1"/><stop offset="0.9864" stop-color="#e0f8f1"/><stop offset="0.9959" stop-color="#e0f8f1"/><stop offset="1.0000" stop-color="#e0f8f1"/></linearGradient><linearGradient id="g16" x1="0" y1="0" x2="0" y2="1"><stop offset="0.0000" stop-color="#d3f6ed"/><stop offset="0.0095" stop-color="#d3f6ec"/><stop offset="0.0190" stop-color="#d3f6ec"/><stop offset="0.0285" stop-color="#d2f6ec"/><stop offset="0.0379" stop-color="#d2f6ec"/><stop offset="0.0474" stop-color="#d2f6ec"/><stop offset="0.0569" stop-color="#d2f6ec"/><stop offset="0.0664" stop-color="#d1f6ec"/><stop offset="0.0759" stop-color="#d1f6ec"/><stop offset="0.0854" stop-color="#d1f6ec"/><stop offset="0.0948" stop-color="#d1f6ec"/><stop offset="0.1043" stop-color="#d2f6ec"/><stop offset="0.1138" stop-color="#d3f6ec"/><stop offset="0.1233" stop-color="#d3f6ed"/><stop offset="0.1328" stop-color="#d4f6ed"/><stop offset="0.1423" stop-color="#d4f6ed"/><stop offset="0.1518" stop-color="#d4f6ed"/><stop offset="0.1612" stop-color="#d4f6ed"/><stop offset="0.1707" stop-color="#d4f6ed"/><stop offset="0.1802" stop-color="#d3f6ed"/><stop offset="0.1897" stop-color="#d3f6ec"/><stop offset="0.1992" stop-color="#d2f6ec"/><stop offset="0.2087" stop-color="#d1f6ec"/><stop offset="0.2181" stop-color="#d1f6ec"/><stop offset="0.2276" stop-color="#d1f6ec"/><stop offset="0.2371" stop-color="#d1f6ec"/><stop offset="0.2466" stop-color="#d2f6ec"/><stop offset="0.2561" stop-color="#d2f6ec"/><stop offset="0.2656" stop-color="#d3f6ec"/><stop offset="0.2751" stop-color="#d4f6ed"/><stop offset="0.2845" stop-color="#d4f6ed"/><stop offset="0.2940" stop-color="#d4f6ed"/><stop offset="0.3035" stop-color="#d4f6ed"/><stop offset="0.3130" stop-color="#d4f6ed"/><stop offset="0.3225" stop-color="#d4f6ed"/><stop offset="0.3320" stop-color="#d3f6ed"/><stop offset="0.3414" stop-color="#d2f6ec"/><stop offset="0.3509" stop-color="#d2f6ec"/><stop offset="0.3604" stop-color="#d1f6ec"/><stop offset="0.3699" stop-color="#d1f6ec"/><stop offset="0.3794" stop-color="#d1f6ec"/><stop offset="0.3889" stop-color="#d1f6ec"/><stop offset="0.3984" stop-color="#d1f6ec"/><stop offset="0.4078" stop-color="#d2f6ec"/><stop offset="0.4173" stop-color="#d2f6ec"/><stop offset="0.4268" stop-color="#d3f6ec"/><stop offset="0.4363" stop-color="#d3f6ed"/><stop offset="0.4458" stop-color="#d4f6ed"/><stop offset="0.4553" stop-color="#d4f6ed"/><stop offset="0.4647" stop-color="#d4f6ed"/><stop offset="0.4742" stop-color="#d4f6ed"/><stop offset="0.4837" stop-color="#d3f6ed"/><stop offset="0.4932" stop-color="#d3f6ec"/><stop offset="0.5027" stop-color="#d2f6ec"/><stop offset="0.5122" stop-color="#d1f6ec"/><stop offset="0.5217" stop-color="#d0f6ec"/><stop offset="0.5311" stop-color="#d0f6ec"/><stop offset="0.5406" stop-color="#cff6eb"/><stop offset="0.5501" stop-color="#cff6eb"/><stop offset="0.5596" stop-color="#cff6eb"/><stop offset="0.5691" stop-color="#d0f6ec"/><stop offset="0.5786" stop-color="#d1f6ec"/><stop offset="0.5880" stop-color="#d2f6ec"/><stop offset="0.5975" stop-color="#d3f6ec"/><stop offset="0.6070" stop-color="#d3f6ed"/><stop offset="0.6165" stop-color="#d4f6ed"/><stop offset="0.6260" stop-color="#d4f6ed"/><stop offset="0.6355" stop-color="#d4f6ed"/><stop offset="0.6450" stop-color="#d4f6ed"/><stop offset="0.6544" stop-color="#d3f6ed"/><stop offset="0.6639" stop-color="#d3f6ec"/><stop offset="0.6734" stop-color="#d2f6ec"/><stop offset="0.6829" stop-color="#d1f6ec"/><stop offset="0.6924" stop-color="#d0f6ec"/><stop offset="0.7019" stop-color="#d0f6ec"/><stop offset="0.7113" stop-color="#cff6eb"/><stop offset="0.7208" stop-color="#cff6eb"/><stop offset="0.7303" stop-color="#cff6eb"/><stop offset="0.7398" stop-color="#cef6eb"/><stop offset="0.7493" stop-color="#cef6eb"/><stop offset="0.7588" stop-color="#cef6eb"/><stop offset="0.7683" stop-color="#cef6eb"/><stop offset="0.7777" stop-color="#cff6eb"/><stop offset="0.7872" stop-color="#cff6eb"/><stop offset="0.7967" stop-color="#d0f6ec"/><stop offset="0.8062" stop-color="#d1f6ec"/><stop offset="0.8157" stop-color="#d2f6ec"/><stop offset="0.8252" stop-color="#d4f6ed"/><stop offset="0.8347" stop-color="#d6f7ed"/><stop offset="0.8441" stop-color="#d7f7ee"/><stop offset="0.8536" stop-color="#d9f7ee"/><stop offset="0.8631" stop-color="#dbf7ef"/><stop offset="0.8726" stop-color="#dcf8ef"/><stop offset="0.8821" stop-color="#ddf8ef"/><stop offset="0.8916" stop-color="#dff8f0"/><stop offset="0.9010" stop-color="#dff8f0"/><stop offset="0.9105" stop-color="#e0f8f0"/><stop offset="0.9200" stop-color="#e0f8f0"/><stop offset="0.9295" stop-color="#e0f8f1"/><stop offset="0.9390" stop-color="#e0f8f1"/><stop offset="0.9485" stop-color="#e0f8f1"/><stop offset="0.9580" stop-color="#e0f8f1"/><stop offset="0.9674" stop-color="#e0f8f1"/><stop offset="0.9769" stop-color="#e0f8f1"/><stop offset="0.9864" stop-color="#e1f8f1"/><stop offset="0.9959" stop-color="#e1f8f1"/><stop offset="1.0000" stop-color="#e1f8f1"/></linearGradient><linearGradient id="g17" x1="0" y1="0" x2="0" y2="1"><stop offset="0.0000" stop-color="#def8f0"/><stop offset="0.0095" stop-color="#def8f0"/><stop offset="0.0190" stop-color="#def8f0"/><stop offset="0.0285" stop-color="#def8f0"/><stop offset="0.0379" stop-color="#def8f0"/><stop offset="0.0474" stop-color="#def8f0"/><stop offset="0.0569" stop-color="#def8f0"/><stop offset="0.0664" stop-color="#def8f0"/><stop offset="0.0759" stop-color="#def8f0"/><stop offset="0.0854" stop-color="#def8f0"/><stop offset="0.0948" stop-color="#def8f0"/><stop offset="0.1043" stop-color="#def8f0"/><stop offset="0.1138" stop-color="#def8f0"/><stop offset="0.1233" stop-color="#def8f0"/><stop offset="0.1328" stop-color="#dff8f0"/><stop offset="0.1423" stop-color="#dff8f0"/><stop offset="0.1518" stop-color="#dff8f0"/><stop offset="0.1612" stop-color="#dff8f0"/><stop offset="0.1707" stop-color="#dff8f0"/><stop offset="0.1802" stop-color="#def8f0"/><stop offset="0.1897" stop-color="#def8f0"/><stop offset="0.1992" stop-color="#def8f0"/><stop offset="0.2087" stop-color="#def8f0"/><stop offset="0.2181" stop-color="#def8f0"/><stop offset="0.2276" stop-color="#def8f0"/><stop offset="0.2371" stop-color="#def8f0"/><stop offset="0.2466" stop-color="#def8f0"/><stop offset="0.2561" stop-color="#def8f0"/><stop offset="0.2656" stop-color="#def8f0"/><stop offset="0.2751" stop-color="#dff8f0"/><stop offset="0.2845" stop-color="#dff8f0"/><stop offset="0.2940" stop-color="#dff8f0"/><stop offset="0.3035" stop-color="#dff8f0"/><stop offset="0.3130" stop-color="#dff8f0"/><stop offset="0.3225" stop-color="#dff8f0"/><stop offset="0.3320" stop-color="#def8f0"/><stop offset="0.3414" stop-color="#def8f0"/><stop offset="0.3509" stop-color="#def8f0"/><stop offset="0.3604" stop-color="#def8f0"/><stop offset="0.3699" stop-color="#def8f0"/><stop offset="0.3794" stop-color="#def8f0"/><stop offset="0.3889" stop-color="#def8f0"/><stop offset="0.3984" stop-color="#def8f0"/><stop offset="0.4078" stop-color="#def8f0"/><stop offset="0.4173" stop-color="#def8f0"/><stop offset="0.4268" stop-color="#def8f0"/><stop offset="0.4363" stop-color="#dff8f0"/><stop offset="0.4458" stop-color="#dff8f0"/><stop offset="0.4553" stop-color="#dff8f0"/><stop offset="0.4647" stop-color="#dff8f0"/><stop offset="0.4742" stop-color="#dff8f0"/><stop offset="0.4837" stop-color="#dff8f0"/><stop offset="0.4932" stop-color="#def8f0"/><stop offset="0.5027" stop-color="#def8f0"/><stop offset="0.5122" stop-color="#def8f0"/><stop offset="0.5217" stop-color="#def8f0"/><stop offset="0.5311" stop-color="#ddf8f0"/><stop offset="0.5406" stop-color="#ddf8f0"/><stop offset="0.5501" stop-color="#ddf8f0"/><stop offset="0.5596" stop-color="#ddf8f0"/><stop offset="0.5691" stop-color="#def8f0"/><stop offset="0.5786" stop-color="#def8f0"/><stop offset="0.5880" stop-color="#def8f0"/><stop offset="0.5975" stop-color="#def8f0"/><stop offset="0.6070" stop-color="#def8f0"/><stop offset="0.6165" stop-color="#dff8f0"/><stop offset="0.6260" stop-color="#dff8f0"/><stop offset="0.6355" stop-color="#dff8f0"/><stop offset="0.6450" stop-color="#dff8f0"/><stop offset="0.6544" stop-color="#def8f0"/><stop offset="0.6639" stop-color="#def8f0"/><stop offset="0.6734" stop-color="#def8f0"/><stop offset="0.6829" stop-color="#def8f0"/><stop offset="0.6924" stop-color="#def8f0"/><stop offset="0.7019" stop-color="#ddf8f0"/><stop offset="0.7113" stop-color="#ddf8f0"/><stop offset="0.7208" stop-color="#ddf8f0"/><stop offset="0.7303" stop-color="#ddf8ef"/><stop offset="0.7398" stop-color="#ddf8ef"/><stop offset="0.7493" stop-color="#ddf8ef"/><stop offset="0.7588" stop-color="#ddf8ef"/><stop offset="0.7683" stop-color="#ddf8ef"/><stop offset="0.7777" stop-color="#ddf8ef"/><stop offset="0.7872" stop-color="#ddf8ef"/><stop offset="0.7967" stop-color="#def8f0"/><stop offset="0.8062" stop-color="#def8f0"/><stop offset="0.8157" stop-color="#def8f0"/><stop offset="0.8252" stop-color="#dff8f0"/><stop offset="0.8347" stop-color="#dff8f0"/><stop offset="0.8441" stop-color="#dff8f0"/><stop offset="0.8536" stop-color="#dff8f0"/><stop offset="0.8631" stop-color="#e0f8f0"/><stop offset="0.8726" stop-color="#e0f8f0"/><stop offset="0.8821" stop-color="#e0f8f0"/><stop offset="0.8916" stop-color="#e0f8f1"/><stop offset="0.9010" stop-color="#e0f8f1"/><stop offset="0.9105" stop-color="#e0f8f1"/><stop offset="0.9200" stop-color="#e0f8f1"/><stop offset="0.9295" stop-color="#e0f8f1"/><stop offset="0.9390" stop-color="#e0f8f1"/><stop offset="0.9485" stop-color="#e0f8f1"/><stop offset="0.9580" stop-color="#e1f8f1"/><stop offset="0.9674" stop-color="#e1f8f1"/><stop offset="0.9769" stop-color="#e1f8f1"/><stop offset="0.9864" stop-color="#e1f8f1"/><stop offset="0.9959" stop-color="#e1f8f1"/><stop offset="1.0000" stop-color="#e1f8f1"/></linearGradient><linearGradient id="g23" x1="0" y1="0" x2="0" y2="1"><stop offset="0.0000" stop-color="#ddf8ef"/><stop offset="0.0095" stop-color="#ddf8ef"/><stop offset="0.0190" stop-color="#ddf8ef"/><stop offset="0.0285" stop-color="#dcf8ef"/><stop offset="0.0379" stop-color="#dcf8ef"/><stop offset="0.0474" stop-color="#dcf8ef"/><stop offset="0.0569" stop-color="#dbf7ef"/><stop offset="0.0664" stop-color="#dbf7ef"/><stop offset="0.0759" stop-color="#dbf7ef"/><stop offset="0.0854" stop-color="#dbf7ef"/><stop offset="0.0948" stop-color="#dbf7ef"/><stop offset="0.1043" stop-color="#dbf7ef"/><stop offset="0.1138" stop-color="#dcf8ef"/><stop offset="0.1233" stop-color="#dcf8ef"/><stop offset="0.1328" stop-color="#ddf8ef"/><stop offset="0.1423" stop-color="#ddf8ef"/><stop offset="0.1518" stop-color="#def8f0"/><stop offset="0.1612" stop-color="#def8f0"/><stop offset="0.1707" stop-color="#ddf8f0"/><stop offset="0.1802" stop-color="#ddf8ef"/><stop offset="0.1897" stop-color="#ddf8ef"/><stop offset="0.1992" stop-color="#dcf8ef"/><stop offset="0.2087" stop-color="#dcf8ef"/><stop offset="0.2181" stop-color="#dbf7ef"/><stop offset="0.2276" stop-color="#dbf7ef"/><stop offset="0.2371" stop-color="#dbf7ef"/><stop offset="0.2466" stop-color="#dbf7ef"/><stop offset="0.2561" stop-color="#dcf7ef"/><stop offset="0.2656" stop-color="#dcf8ef"/><stop offset="0.2751" stop-color="#ddf8ef"/><stop offset="0.2845" stop-color="#ddf8ef"/><stop offset="0.2940" stop-color="#ddf8f0"/><stop offset="0.3035" stop-color="#def8f0"/><stop offset="0.3130" stop-color="#def8f0"/><stop offset="0.3225" stop-color="#ddf8ef"/><stop offset="0.3320" stop-color="#ddf8ef"/><stop offset="0.3414" stop-color="#dcf8ef"/><stop offset="0.3509" stop-color="#dcf8ef"/><stop offset="0.3604" stop-color="#dbf7ef"/><stop offset="0.3699" stop-color="#dbf7ef"/><stop offset="0.3794" stop-color="#daf7ef"/><stop offset="0.3889" stop-color="#dbf7ef"/><stop offset="0.3984" stop-color="#dbf7ef"/><stop offset="0.4078" stop-color="#dbf7ef"/><stop offset="0.4173" stop-color="#dcf8ef"/><stop offset="0.4268" stop-color="#dcf8ef"/><stop offset="0.4363" stop-color="#ddf8ef"/><stop offset="0.4458" stop-color="#ddf8ef"/><stop offset="0.4553" stop-color="#ddf8ef"/><stop offset="0.4647" stop-color="#ddf8ef"/><stop offset="0.4742" stop-color="#ddf8ef"/><stop offset="0.4837" stop-color="#ddf8ef"/><stop offset="0.4932" stop-color="#dcf8ef"/><stop offset="0.5027" stop-color="#dcf7ef"/><stop offset="0.5122" stop-color="#dbf7ef"/><stop offset="0.5217" stop-color="#daf7ef"/><stop offset="0.5311" stop-color="#daf7ef"/><stop offset="0.5406" stop-color="#daf7ef"/><stop offset="0.5501" stop-color="#daf7ef"/><stop offset="0.5596" stop-color="#daf7ef"/><stop offset="0.5691" stop-color="#dbf7ef"/><stop offset="0.5786" stop-color="#dbf7ef"/><stop offset="0.5880" stop-color="#dcf8ef"/><stop offset="0.5975" stop-color="#dcf8ef"/><stop offset="0.6070" stop-color="#ddf8ef"/><stop offset="0.6165" stop-color="#ddf8ef"/><stop offset="0.6260" stop-color="#ddf8ef"/><stop offset="0.6355" stop-color="#ddf8ef"/><stop offset="0.6450" stop-color="#dcf8ef"/><stop offset="0.6544" stop-color="#dcf8ef"/><stop offset="0.6639" stop-color="#dbf7ef"/><stop offset="0.6734" stop-color="#dbf7ef"/><stop offset="0.6829" stop-color="#daf7ef"/><stop offset="0.6924" stop-color="#daf7ee"/><stop offset="0.7019" stop-color="#d9f7ee"/><stop offset="0.7113" stop-color="#d9f7ee"/><stop offset="0.7208" stop-color="#d9f7ee"/><stop offset="0.7303" stop-color="#d9f7ee"/><stop offset="0.7398" stop-color="#d9f7ee"/><stop offset="0.7493" stop-color="#d9f7ee"/><stop offset="0.7588" stop-color="#d9f7ee"/><stop offset="0.7683" stop-color="#d9f7ee"/><stop offset="0.7777" stop-color="#daf7ef"/><stop offset="0.7872" stop-color="#dbf7ef"/><stop offset="0.7967" stop-color="#dbf7ef"/><stop offset="0.8062" stop-color="#dbf7ef"/><stop offset="0.8157" stop-color="#dcf8ef"/><stop offset="0.8252" stop-color="#def8f0"/><stop offset="0.8347" stop-color="#dff8f0"/><stop offset="0.8441" stop-color="#dff8f0"/><stop offset="0.8536" stop-color="#dff8f0"/><stop offset="0.8631" stop-color="#e0f8f0"/><stop offset="0.8726" stop-color="#e0f8f0"/><stop offset="0.8821" stop-color="#e0f8f1"/><stop offset="0.8916" stop-color="#e0f8f1"/><stop offset="0.9010" stop-color="#e1f8f1"/><stop offset="0.9105" stop-color="#e1f8f1"/><stop offset="0.9200" stop-color="#e1f8f1"/><stop offset="0.9295" stop-color="#e1f8f1"/><stop offset="0.9390" stop-color="#e1f8f1"/><stop offset="0.9485" stop-color="#e1f8f1"/><stop offset="0.9580" stop-color="#e1f8f1"/><stop offset="0.9674" stop-color="#e1f8f1"/><stop offset="0.9769" stop-color="#e1f8f1"/><stop offset="0.9864" stop-color="#e1f8f1"/><stop offset="0.9959" stop-color="#e1f8f1"/><stop offset="1.0000" stop-color="#e1f8f1"/></linearGradient><linearGradient id="g24" x1="0" y1="0" x2="0" y2="1"><stop offset="0.0000" stop-color="#d7f7ee"/><stop offset="0.0095" stop-color="#d7f7ee"/><stop offset="0.0190" stop-color="#d6f7ed"/><stop offset="0.0285" stop-color="#d6f7ed"/><stop offset="0.0379" stop-color="#d5f7ed"/><stop offset="0.0474" stop-color="#d5f6ed"/><stop offset="0.0569" stop-color="#d4f6ed"/><stop offset="0.0664" stop-color="#d3f6ed"/><stop offset="0.0759" stop-color="#d3f6ed"/><stop offset="0.0854" stop-color="#d3f6ec"/><stop offset="0.0948" stop-color="#d3f6ec"/><stop offset="0.1043" stop-color="#d4f6ed"/><stop offset="0.1138" stop-color="#d4f6ed"/><stop offset="0.1233" stop-color="#d5f7ed"/><stop offset="0.1328" stop-color="#d7f7ee"/><stop offset="0.1423" stop-color="#d8f7ee"/><stop offset="0.1518" stop-color="#d8f7ee"/><stop offset="0.1612" stop-color="#d8f7ee"/><stop offset="0.1707" stop-color="#d8f7ee"/><stop offset="0.1802" stop-color="#d7f7ee"/><stop offset="0.1897" stop-color="#d6f7ed"/><stop offset="0.1992" stop-color="#d5f7ed"/><stop offset="0.2087" stop-color="#d4f6ed"/><stop offset="0.2181" stop-color="#d3f6ed"/><stop offset="0.2276" stop-color="#d3f6ec"/><stop offset="0.2371" stop-color="#d3f6ec"/><stop offset="0.2466" stop-color="#d3f6ed"/><stop offset="0.2561" stop-color="#d4f6ed"/><stop offset="0.2656" stop-color="#d5f7ed"/><stop offset="0.2751" stop-color="#d6f7ed"/><stop offset="0.2845" stop-color="#d7f7ee"/><stop offset="0.2940" stop-color="#d8f7ee"/><stop offset="0.3035" stop-color="#d8f7ee"/><stop offset="0.3130" stop-color="#d8f7ee"/><stop offset="0.3225" stop-color="#d8f7ee"/><stop offset="0.3320" stop-color="#d7f7ee"/><stop offset="0.3414" stop-color="#d5f7ed"/><stop offset="0.3509" stop-color="#d4f6ed"/><stop offset="0.3604" stop-color="#d3f6ed"/><stop offset="0.3699" stop-color="#d2f6ec"/><stop offset="0.3794" stop-color="#d2f6ec"/><stop offset="0.3889" stop-color="#d2f6ec"/><stop offset="0.3984" stop-color="#d3f6ec"/><stop offset="0.4078" stop-color="#d3f6ed"/><stop offset="0.4173" stop-color="#d4f6ed"/><stop offset="0.4268" stop-color="#d5f7ed"/><stop offset="0.4363" stop-color="#d6f7ed"/><stop offset="0.4458" stop-color="#d7f7ee"/><stop offset="0.4553" stop-color="#d7f7ee"/><stop offset="0.4647" stop-color="#d7f7ee"/><stop offset="0.4742" stop-color="#d7f7ee"/><stop offset="0.4837" stop-color="#d6f7ed"/><stop offset="0.4932" stop-color="#d5f7ed"/><stop offset="0.5027" stop-color="#d4f6ed"/><stop offset="0.5122" stop-color="#d3f6ec"/><stop offset="0.5217" stop-color="#d2f6ec"/><stop offset="0.5311" stop-color="#d1f6ec"/><stop offset="0.5406" stop-color="#d1f6ec"/><stop offset="0.5501" stop-color="#d1f6ec"/><stop offset="0.5596" stop-color="#d2f6ec"/><stop offset="0.5691" stop-color="#d3f6ec"/><stop offset="0.5786" stop-color="#d4f6ed"/><stop offset="0.5880" stop-color="#d5f6ed"/><stop offset="0.5975" stop-color="#d5f7ed"/><stop offset="0.6070" stop-color="#d6f7ed"/><stop offset="0.6165" stop-color="#d7f7ee"/><stop offset="0.6260" stop-color="#d7f7ee"/><stop offset="0.6355" stop-color="#d7f7ee"/><stop offset="0.6450" stop-color="#d6f7ed"/><stop offset="0.6544" stop-color="#d5f7ed"/><stop offset="0.6639" stop-color="#d4f6ed"/><stop offset="0.6734" stop-color="#d3f6ec"/><stop offset="0.6829" stop-color="#d2f6ec"/><stop offset="0.6924" stop-color="#d1f6ec"/><stop offset="0.7019" stop-color="#d0f6ec"/><stop offset="0.7113" stop-color="#d0f6ec"/><stop offset="0.7208" stop-color="#d0f6ec"/><stop offset="0.7303" stop-color="#d0f6ec"/><stop offset="0.7398" stop-color="#d0f6ec"/><stop offset="0.7493" stop-color="#d0f6ec"/><stop offset="0.7588" stop-color="#d0f6ec"/><stop offset="0.7683" stop-color="#d0f6ec"/><stop offset="0.7777" stop-color="#d1f6ec"/><stop offset="0.7872" stop-color="#d2f6ec"/><stop offset="0.7967" stop-color="#d3f6ed"/><stop offset="0.8062" stop-color="#d4f6ed"/><stop offset="0.8157" stop-color="#d6f7ed"/><stop offset="0.8252" stop-color="#d8f7ee"/><stop offset="0.8347" stop-color="#daf7ef"/><stop offset="0.8441" stop-color="#dbf7ef"/><stop offset="0.8536" stop-color="#ddf8ef"/><stop offset="0.8631" stop-color="#dff8f0"/><stop offset="0.8726" stop-color="#dff8f0"/><stop offset="0.8821" stop-color="#dff8f0"/><stop offset="0.8916" stop-color="#e0f8f1"/><stop offset="0.9010" stop-color="#e0f8f1"/><stop offset="0.9105" stop-color="#e0f8f1"/><stop offset="0.9200" stop-color="#e1f8f1"/><stop offset="0.9295" stop-color="#e1f8f1"/><stop offset="0.9390" stop-color="#e1f8f1"/><stop offset="0.9485" stop-color="#e1f8f1"/><stop offset="0.9580" stop-color="#e1f8f1"/><stop offset="0.9674" stop-color="#e1f8f1"/><stop offset="0.9769" stop-color="#e1f8f1"/><stop offset="0.9864" stop-color="#e1f8f1"/><stop offset="0.9959" stop-color="#e1f8f1"/><stop offset="1.0000" stop-color="#e1f8f1"/></linearGradient><linearGradient id="g25" x1="0" y1="0" x2="0" y2="1"><stop offset="0.0000" stop-color="#cbf5ea"/><stop offset="0.0095" stop-color="#caf5ea"/><stop offset="0.0190" stop-color="#caf5ea"/><stop offset="0.0285" stop-color="#c9f5e9"/><stop offset="0.0379" stop-color="#c7f5e9"/><stop offset="0.0474" stop-color="#c6f4e9"/><stop offset="0.0569" stop-color="#c5f4e8"/><stop offset="0.0664" stop-color="#c4f4e8"/><stop offset="0.0759" stop-color="#c3f4e8"/><stop offset="0.0854" stop-color="#c3f4e8"/><stop offset="0.0948" stop-color="#c3f4e8"/><stop offset="0.1043" stop-color="#c4f4e8"/><stop offset="0.1138" stop-color="#c6f4e9"/><stop offset="0.1233" stop-color="#c8f5e9"/><stop offset="0.1328" stop-color="#caf5ea"/><stop offset="0.1423" stop-color="#ccf5eb"/><stop offset="0.1518" stop-color="#cdf5eb"/><stop offset="0.1612" stop-color="#cef5eb"/><stop offset="0.1707" stop-color="#cdf5eb"/><stop offset="0.1802" stop-color="#ccf5ea"/><stop offset="0.1897" stop-color="#caf5ea"/><stop offset="0.1992" stop-color="#c8f5e9"/><stop offset="0.2087" stop-color="#c5f4e9"/><stop offset="0.2181" stop-color="#c4f4e8"/><stop offset="0.2276" stop-color="#c3f4e8"/><stop offset="0.2371" stop-color="#c3f4e8"/><stop offset="0.2466" stop-color="#c4f4e8"/><stop offset="0.2561" stop-color="#c5f4e9"/><stop offset="0.2656" stop-color="#c7f5e9"/><stop offset="0.2751" stop-color="#caf5ea"/><stop offset="0.2845" stop-color="#ccf5ea"/><stop offset="0.2940" stop-color="#cdf5eb"/><stop offset="0.3035" stop-color="#cef5eb"/><stop offset="0.3130" stop-color="#cdf5eb"/><stop offset="0.3225" stop-color="#ccf5eb"/><stop offset="0.3320" stop-color="#caf5ea"/><stop offset="0.3414" stop-color="#c8f5e9"/><stop offset="0.3509" stop-color="#c6f4e9"/><stop offset="0.3604" stop-color="#c3f4e8"/><stop offset="0.3699" stop-color="#c2f4e8"/><stop offset="0.3794" stop-color="#c1f4e7"/><stop offset="0.3889" stop-color="#c1f4e7"/><stop offset="0.3984" stop-color="#c2f4e8"/><stop offset="0.4078" stop-color="#c4f4e8"/><stop offset="0.4173" stop-color="#c6f4e9"/><stop offset="0.4268" stop-color="#c8f5e9"/><stop offset="0.4363" stop-color="#caf5ea"/><stop offset="0.4458" stop-color="#cbf5ea"/><stop offset="0.4553" stop-color="#ccf5ea"/><stop offset="0.4647" stop-color="#ccf5ea"/><stop offset="0.4742" stop-color="#cbf5ea"/><stop offset="0.4837" stop-color="#caf5ea"/><stop offset="0.4932" stop-color="#c8f5e9"/><stop offset="0.5027" stop-color="#c5f4e9"/><stop offset="0.5122" stop-color="#c3f4e8"/><stop offset="0.5217" stop-color="#c1f4e7"/><stop offset="0.5311" stop-color="#c0f3e7"/><stop offset="0.5406" stop-color="#c0f3e7"/><stop offset="0.5501" stop-color="#c0f3e7"/><stop offset="0.5596" stop-color="#c1f4e7"/><stop offset="0.5691" stop-color="#c2f4e8"/><stop offset="0.5786" stop-color="#c4f4e8"/><stop offset="0.5880" stop-color="#c6f4e9"/><stop offset="0.5975" stop-color="#c8f5e9"/><stop offset="0.6070" stop-color="#c9f5ea"/><stop offset="0.6165" stop-color="#caf5ea"/><stop offset="0.6260" stop-color="#cbf5ea"/><stop offset="0.6355" stop-color="#caf5ea"/><stop offset="0.6450" stop-color="#c9f5ea"/><stop offset="0.6544" stop-color="#c7f5e9"/><stop offset="0.6639" stop-color="#c5f4e8"/><stop offset="0.6734" stop-color="#c2f4e8"/><stop offset="0.6829" stop-color="#c0f4e7"/><stop offset="0.6924" stop-color="#bef3e6"/><stop offset="0.7019" stop-color="#bdf3e6"/><stop offset="0.7113" stop-color="#bcf3e6"/><stop offset="0.7208" stop-color="#bcf3e6"/><stop offset="0.7303" stop-color="#bcf3e6"/><stop offset="0.7398" stop-color="#bcf3e6"/><stop offset="0.7493" stop-color="#bcf3e6"/><stop offset="0.7588" stop-color="#bcf3e6"/><stop offset="0.7683" stop-color="#bdf3e6"/><stop offset="0.7777" stop-color="#bff3e7"/><stop offset="0.7872" stop-color="#c2f4e8"/><stop offset="0.7967" stop-color="#c4f4e8"/><stop offset="0.8062" stop-color="#c5f4e8"/><stop offset="0.8157" stop-color="#c8f5e9"/><stop offset="0.8252" stop-color="#cef5eb"/><stop offset="0.8347" stop-color="#d2f6ec"/><stop offset="0.8441" stop-color="#d3f6ec"/><stop offset="0.8536" stop-color="#d6f7ed"/><stop offset="0.8631" stop-color="#daf7ef"/><stop offset="0.8726" stop-color="#dcf8ef"/><stop offset="0.8821" stop-color="#ddf8f0"/><stop offset="0.8916" stop-color="#e0f8f0"/><stop offset="0.9010" stop-color="#e0f8f1"/><stop offset="0.9105" stop-color="#e0f8f1"/><stop offset="0.9200" stop-color="#e0f8f1"/><stop offset="0.9295" stop-color="#e1f8f1"/><stop offset="0.9390" stop-color="#e1f8f1"/><stop offset="0.9485" stop-color="#e1f8f1"/><stop offset="0.9580" stop-color="#e1f8f1"/><stop offset="0.9674" stop-color="#e1f8f1"/><stop offset="0.9769" stop-color="#e1f8f1"/><stop offset="0.9864" stop-color="#e1f8f1"/><stop offset="0.9959" stop-color="#e1f8f1"/><stop offset="1.0000" stop-color="#e1f8f1"/></linearGradient><linearGradient id="g26" x1="0" y1="0" x2="0" y2="1"><stop offset="0.0000" stop-color="#baf3e5"/><stop offset="0.0095" stop-color="#b9f2e5"/><stop offset="0.0190" stop-color="#b8f2e5"/><stop offset="0.0285" stop-color="#b6f2e4"/><stop offset="0.0379" stop-color="#b4f2e4"/><stop offset="0.0474" stop-color="#b2f1e3"/><stop offset="0.0569" stop-color="#b0f1e2"/><stop offset="0.0664" stop-color="#aef1e2"/><stop offset="0.0759" stop-color="#adf1e1"/><stop offset="0.0854" stop-color="#acf1e1"/><stop offset="0.0948" stop-color="#adf1e1"/><stop offset="0.1043" stop-color="#aff1e2"/><stop offset="0.1138" stop-color="#b2f1e3"/><stop offset="0.1233" stop-color="#b5f2e4"/><stop offset="0.1328" stop-color="#b9f2e5"/><stop offset="0.1423" stop-color="#bcf3e6"/><stop offset="0.1518" stop-color="#bef3e6"/><stop offset="0.1612" stop-color="#bff3e7"/><stop offset="0.1707" stop-color="#bef3e6"/><stop offset="0.1802" stop-color="#bcf3e6"/><stop offset="0.1897" stop-color="#b8f2e5"/><stop offset="0.1992" stop-color="#b4f2e4"/><stop offset="0.2087" stop-color="#b1f1e3"/><stop offset="0.2181" stop-color="#aef1e2"/><stop offset="0.2276" stop-color="#acf1e1"/><stop offset="0.2371" stop-color="#acf1e1"/><stop offset="0.2466" stop-color="#aef1e2"/><stop offset="0.2561" stop-color="#b0f1e2"/><stop offset="0.2656" stop-color="#b4f2e3"/><stop offset="0.2751" stop-color="#b8f2e5"/><stop offset="0.2845" stop-color="#bbf3e6"/><stop offset="0.2940" stop-color="#bef3e6"/><stop offset="0.3035" stop-color="#bff3e7"/><stop offset="0.3130" stop-color="#bef3e7"/><stop offset="0.3225" stop-color="#bcf3e6"/><stop offset="0.3320" stop-color="#b9f2e5"/><stop offset="0.3414" stop-color="#b5f2e4"/><stop offset="0.3509" stop-color="#b1f1e3"/><stop offset="0.3604" stop-color="#adf1e2"/><stop offset="0.3699" stop-color="#abf0e1"/><stop offset="0.3794" stop-color="#aaf0e0"/><stop offset="0.3889" stop-color="#aaf0e1"/><stop offset="0.3984" stop-color="#abf1e1"/><stop offset="0.4078" stop-color="#aef1e2"/><stop offset="0.4173" stop-color="#b1f1e3"/><stop offset="0.4268" stop-color="#b5f2e4"/><stop offset="0.4363" stop-color="#b8f2e5"/><stop offset="0.4458" stop-color="#bbf3e5"/><stop offset="0.4553" stop-color="#bcf3e6"/><stop offset="0.4647" stop-color="#bcf3e6"/><stop offset="0.4742" stop-color="#bbf3e5"/><stop offset="0.4837" stop-color="#b8f2e5"/><stop offset="0.4932" stop-color="#b4f2e4"/><stop offset="0.5027" stop-color="#b0f1e2"/><stop offset="0.5122" stop-color="#adf1e1"/><stop offset="0.5217" stop-color="#a9f0e0"/><stop offset="0.5311" stop-color="#a7f0e0"/><stop offset="0.5406" stop-color="#a7f0e0"/><stop offset="0.5501" stop-color="#a8f0e0"/><stop offset="0.5596" stop-color="#a9f0e0"/><stop offset="0.5691" stop-color="#acf1e1"/><stop offset="0.5786" stop-color="#aff1e2"/><stop offset="0.5880" stop-color="#b2f1e3"/><stop offset="0.5975" stop-color="#b5f2e4"/><stop offset="0.6070" stop-color="#b8f2e5"/><stop offset="0.6165" stop-color="#b9f2e5"/><stop offset="0.6260" stop-color="#baf3e5"/><stop offset="0.6355" stop-color="#b9f2e5"/><stop offset="0.6450" stop-color="#b7f2e4"/><stop offset="0.6544" stop-color="#b4f2e3"/><stop offset="0.6639" stop-color="#b0f1e2"/><stop offset="0.6734" stop-color="#acf1e1"/><stop offset="0.6829" stop-color="#a8f0e0"/><stop offset="0.6924" stop-color="#a5efdf"/><stop offset="0.7019" stop-color="#a3efde"/><stop offset="0.7113" stop-color="#a2efde"/><stop offset="0.7208" stop-color="#a2efde"/><stop offset="0.7303" stop-color="#a2efde"/><stop offset="0.7398" stop-color="#a2efde"/><stop offset="0.7493" stop-color="#a2efde"/><stop offset="0.7588" stop-color="#a2efde"/><stop offset="0.7683" stop-color="#a3efde"/><stop offset="0.7777" stop-color="#a6f0df"/><stop offset="0.7872" stop-color="#abf0e1"/><stop offset="0.7967" stop-color="#aef1e2"/><stop offset="0.8062" stop-color="#b0f1e2"/><stop offset="0.8157" stop-color="#b6f2e4"/><stop offset="0.8252" stop-color="#bff3e7"/><stop offset="0.8347" stop-color="#c6f4e9"/><stop offset="0.8441" stop-color="#c8f5e9"/><stop offset="0.8536" stop-color="#cdf5eb"/><stop offset="0.8631" stop-color="#d4f6ed"/><stop offset="0.8726" stop-color="#d7f7ee"/><stop offset="0.8821" stop-color="#daf7ee"/><stop offset="0.8916" stop-color="#def8f0"/><stop offset="0.9010" stop-color="#e0f8f1"/><stop offset="0.9105" stop-color="#e0f8f1"/><stop offset="0.9200" stop-color="#e0f8f1"/><stop offset="0.9295" stop-color="#e1f8f1"/><stop offset="0.9390" stop-color="#e1f8f1"/><stop offset="0.9485" stop-color="#e1f8f1"/><stop offset="0.9580" stop-color="#e1f8f1"/><stop offset="0.9674" stop-color="#e1f8f1"/><stop offset="0.9769" stop-color="#e1f8f1"/><stop offset="0.9864" stop-color="#e1f8f1"/><stop offset="0.9959" stop-color="#e1f8f1"/><stop offset="1.0000" stop-color="#e1f8f1"/></linearGradient><linearGradient id="g27" x1="0" y1="0" x2="0" y2="1"><stop offset="0.0000" stop-color="#a2efde"/><stop offset="0.0095" stop-color="#a1efde"/><stop offset="0.0190" stop-color="#a0eedd"/><stop offset="0.0285" stop-color="#9deedc"/><stop offset="0.0379" stop-color="#9aeddb"/><stop offset="0.0474" stop-color="#97ecda"/><stop offset="0.0569" stop-color="#94ecd9"/><stop offset="0.0664" stop-color="#92ebd8"/><stop offset="0.0759" stop-color="#90ebd7"/><stop offset="0.0854" stop-color="#8febd7"/><stop offset="0.0948" stop-color="#90ebd7"/><stop offset="0.1043" stop-color="#92ebd8"/><stop offset="0.1138" stop-color="#97ecda"/><stop offset="0.1233" stop-color="#9ceddc"/><stop offset="0.1328" stop-color="#a1efde"/><stop offset="0.1423" stop-color="#a6efdf"/><stop offset="0.1518" stop-color="#a9f0e0"/><stop offset="0.1612" stop-color="#aaf0e0"/><stop offset="0.1707" stop-color="#a8f0e0"/><stop offset="0.1802" stop-color="#a5efdf"/><stop offset="0.1897" stop-color="#a0eedd"/><stop offset="0.1992" stop-color="#9beddb"/><stop offset="0.2087" stop-color="#96ecd9"/><stop offset="0.2181" stop-color="#92ebd8"/><stop offset="0.2276" stop-color="#8febd7"/><stop offset="0.2371" stop-color="#8febd7"/><stop offset="0.2466" stop-color="#91ebd8"/><stop offset="0.2561" stop-color="#95ecd9"/><stop offset="0.2656" stop-color="#9aeddb"/><stop offset="0.2751" stop-color="#9feedd"/><stop offset="0.2845" stop-color="#a4efdf"/><stop offset="0.2940" stop-color="#a8f0e0"/><stop offset="0.3035" stop-color="#aaf0e0"/><stop offset="0.3130" stop-color="#a9f0e0"/><stop offset="0.3225" stop-color="#a6f0df"/><stop offset="0.3320" stop-color="#a1efde"/><stop offset="0.3414" stop-color="#9ceddc"/><stop offset="0.3509" stop-color="#96ecda"/><stop offset="0.3604" stop-color="#91ebd8"/><stop offset="0.3699" stop-color="#8dead6"/><stop offset="0.3794" stop-color="#8bead6"/><stop offset="0.3889" stop-color="#8cead6"/><stop offset="0.3984" stop-color="#8eead7"/><stop offset="0.4078" stop-color="#92ebd8"/><stop offset="0.4173" stop-color="#96ecda"/><stop offset="0.4268" stop-color="#9beddc"/><stop offset="0.4363" stop-color="#a0eedd"/><stop offset="0.4458" stop-color="#a3efde"/><stop offset="0.4553" stop-color="#a5efdf"/><stop offset="0.4647" stop-color="#a5efdf"/><stop offset="0.4742" stop-color="#a4efde"/><stop offset="0.4837" stop-color="#a0eedd"/><stop offset="0.4932" stop-color="#9beddb"/><stop offset="0.5027" stop-color="#95ecd9"/><stop offset="0.5122" stop-color="#90ebd7"/><stop offset="0.5217" stop-color="#8bead6"/><stop offset="0.5311" stop-color="#88e9d5"/><stop offset="0.5406" stop-color="#87e9d4"/><stop offset="0.5501" stop-color="#88e9d5"/><stop offset="0.5596" stop-color="#8bead6"/><stop offset="0.5691" stop-color="#8eebd7"/><stop offset="0.5786" stop-color="#93ebd8"/><stop offset="0.5880" stop-color="#97ecda"/><stop offset="0.5975" stop-color="#9ceddc"/><stop offset="0.6070" stop-color="#9feedd"/><stop offset="0.6165" stop-color="#a1efde"/><stop offset="0.6260" stop-color="#a2efde"/><stop offset="0.6355" stop-color="#a1eedd"/><stop offset="0.6450" stop-color="#9eeedc"/><stop offset="0.6544" stop-color="#99eddb"/><stop offset="0.6639" stop-color="#94ecd9"/><stop offset="0.6734" stop-color="#8eebd7"/><stop offset="0.6829" stop-color="#89e9d5"/><stop offset="0.6924" stop-color="#84e8d3"/><stop offset="0.7019" stop-color="#81e8d2"/><stop offset="0.7113" stop-color="#80e7d2"/><stop offset="0.7208" stop-color="#80e7d2"/><stop offset="0.7303" stop-color="#80e7d2"/><stop offset="0.7398" stop-color="#80e7d2"/><stop offset="0.7493" stop-color="#80e7d2"/><stop offset="0.7588" stop-color="#80e7d2"/><stop offset="0.7683" stop-color="#81e8d2"/><stop offset="0.7777" stop-color="#87e9d4"/><stop offset="0.7872" stop-color="#8dead6"/><stop offset="0.7967" stop-color="#92ebd8"/><stop offset="0.8062" stop-color="#94ecd9"/><stop offset="0.8157" stop-color="#9ceedc"/><stop offset="0.8252" stop-color="#aaf0e0"/><stop offset="0.8347" stop-color="#b5f2e4"/><stop offset="0.8441" stop-color="#b7f2e4"/><stop offset="0.8536" stop-color="#c0f4e7"/><stop offset="0.8631" stop-color="#ccf5ea"/><stop offset="0.8726" stop-color="#d0f6ec"/><stop offset="0.8821" stop-color="#d4f6ed"/><stop offset="0.8916" stop-color="#dcf8ef"/><stop offset="0.9010" stop-color="#e0f8f0"/><stop offset="0.9105" stop-color="#e0f8f0"/><stop offset="0.9200" stop-color="#e0f8f1"/><stop offset="0.9295" stop-color="#e1f8f1"/><stop offset="0.9390" stop-color="#e1f8f1"/><stop offset="0.9485" stop-color="#e1f8f1"/><stop offset="0.9580" stop-color="#e1f8f1"/><stop offset="0.9674" stop-color="#e1f8f1"/><stop offset="0.9769" stop-color="#e1f8f1"/><stop offset="0.9864" stop-color="#e1f8f1"/><stop offset="0.9959" stop-color="#e1f8f1"/><stop offset="1.0000" stop-color="#e1f8f1"/></linearGradient><linearGradient id="g28" x1="0" y1="0" x2="0" y2="1"><stop offset="0.0000" stop-color="#86e9d4"/><stop offset="0.0095" stop-color="#85e8d3"/><stop offset="0.0190" stop-color="#82e8d3"/><stop offset="0.0285" stop-color="#7fe7d1"/><stop offset="0.0379" stop-color="#7ae6d0"/><stop offset="0.0474" stop-color="#76e5ce"/><stop offset="0.0569" stop-color="#71e4cc"/><stop offset="0.0664" stop-color="#6ee3cb"/><stop offset="0.0759" stop-color="#6ce3ca"/><stop offset="0.0854" stop-color="#6be3ca"/><stop offset="0.0948" stop-color="#6ce3ca"/><stop offset="0.1043" stop-color="#6fe4cc"/><stop offset="0.1138" stop-color="#75e5ce"/><stop offset="0.1233" stop-color="#7de7d1"/><stop offset="0.1328" stop-color="#85e8d3"/><stop offset="0.1423" stop-color="#8bead6"/><stop offset="0.1518" stop-color="#90ebd7"/><stop offset="0.1612" stop-color="#91ebd8"/><stop offset="0.1707" stop-color="#8febd7"/><stop offset="0.1802" stop-color="#8aead5"/><stop offset="0.1897" stop-color="#83e8d3"/><stop offset="0.1992" stop-color="#7be6d0"/><stop offset="0.2087" stop-color="#74e5cd"/><stop offset="0.2181" stop-color="#6ee3cb"/><stop offset="0.2276" stop-color="#6ce3ca"/><stop offset="0.2371" stop-color="#6be3ca"/><stop offset="0.2466" stop-color="#6ee3cb"/><stop offset="0.2561" stop-color="#73e5cd"/><stop offset="0.2656" stop-color="#7ae6d0"/><stop offset="0.2751" stop-color="#82e8d2"/><stop offset="0.2845" stop-color="#89e9d5"/><stop offset="0.2940" stop-color="#8eebd7"/><stop offset="0.3035" stop-color="#91ebd8"/><stop offset="0.3130" stop-color="#90ebd7"/><stop offset="0.3225" stop-color="#8cead6"/><stop offset="0.3320" stop-color="#85e8d3"/><stop offset="0.3414" stop-color="#7de7d0"/><stop offset="0.3509" stop-color="#74e5cd"/><stop offset="0.3604" stop-color="#6de3cb"/><stop offset="0.3699" stop-color="#69e2c9"/><stop offset="0.3794" stop-color="#67e1c8"/><stop offset="0.3889" stop-color="#68e2c8"/><stop offset="0.3984" stop-color="#6ae2ca"/><stop offset="0.4078" stop-color="#6ee4cb"/><stop offset="0.4173" stop-color="#75e5ce"/><stop offset="0.4268" stop-color="#7ce7d0"/><stop offset="0.4363" stop-color="#83e8d3"/><stop offset="0.4458" stop-color="#88e9d5"/><stop offset="0.4553" stop-color="#8bead6"/><stop offset="0.4647" stop-color="#8bead6"/><stop offset="0.4742" stop-color="#88e9d5"/><stop offset="0.4837" stop-color="#83e8d3"/><stop offset="0.4932" stop-color="#7be6d0"/><stop offset="0.5027" stop-color="#73e5cd"/><stop offset="0.5122" stop-color="#6ce3ca"/><stop offset="0.5217" stop-color="#67e1c8"/><stop offset="0.5311" stop-color="#64e0c7"/><stop offset="0.5406" stop-color="#63e0c6"/><stop offset="0.5501" stop-color="#64e0c7"/><stop offset="0.5596" stop-color="#67e1c8"/><stop offset="0.5691" stop-color="#6be2ca"/><stop offset="0.5786" stop-color="#70e4cc"/><stop offset="0.5880" stop-color="#76e5ce"/><stop offset="0.5975" stop-color="#7ce7d0"/><stop offset="0.6070" stop-color="#82e8d2"/><stop offset="0.6165" stop-color="#85e8d3"/><stop offset="0.6260" stop-color="#86e9d4"/><stop offset="0.6355" stop-color="#84e8d3"/><stop offset="0.6450" stop-color="#80e7d2"/><stop offset="0.6544" stop-color="#79e6cf"/><stop offset="0.6639" stop-color="#71e4cc"/><stop offset="0.6734" stop-color="#6be2ca"/><stop offset="0.6829" stop-color="#64e1c7"/><stop offset="0.6924" stop-color="#5fdfc5"/><stop offset="0.7019" stop-color="#5cdec4"/><stop offset="0.7113" stop-color="#5adec3"/><stop offset="0.7208" stop-color="#5adec3"/><stop offset="0.7303" stop-color="#5adec3"/><stop offset="0.7398" stop-color="#5adec3"/><stop offset="0.7493" stop-color="#5adec3"/><stop offset="0.7588" stop-color="#5adec3"/><stop offset="0.7683" stop-color="#5cdec4"/><stop offset="0.7777" stop-color="#62e0c6"/><stop offset="0.7872" stop-color="#69e2c9"/><stop offset="0.7967" stop-color="#6fe4cb"/><stop offset="0.8062" stop-color="#71e4cc"/><stop offset="0.8157" stop-color="#7ee7d1"/><stop offset="0.8252" stop-color="#91ebd8"/><stop offset="0.8347" stop-color="#9feedd"/><stop offset="0.8441" stop-color="#a3efde"/><stop offset="0.8536" stop-color="#b0f1e2"/><stop offset="0.8631" stop-color="#c0f4e7"/><stop offset="0.8726" stop-color="#c7f4e9"/><stop offset="0.8821" stop-color="#cdf5eb"/><stop offset="0.8916" stop-color="#d8f7ee"/><stop offset="0.9010" stop-color="#dff8f0"/><stop offset="0.9105" stop-color="#dff8f0"/><stop offset="0.9200" stop-color="#e0f8f1"/><stop offset="0.9295" stop-color="#e1f8f1"/><stop offset="0.9390" stop-color="#e1f8f1"/><stop offset="0.9485" stop-color="#e1f8f1"/><stop offset="0.9580" stop-color="#e1f8f1"/><stop offset="0.9674" stop-color="#e1f8f1"/><stop offset="0.9769" stop-color="#e1f8f1"/><stop offset="0.9864" stop-color="#e1f8f1"/><stop offset="0.9959" stop-color="#e1f8f1"/><stop offset="1.0000" stop-color="#e1f8f1"/></linearGradient><linearGradient id="g29" x1="0" y1="0" x2="0" y2="1"><stop offset="0.0000" stop-color="#70e4cc"/><stop offset="0.0095" stop-color="#6fe4cc"/><stop offset="0.0190" stop-color="#6de3cb"/><stop offset="0.0285" stop-color="#69e2c9"/><stop offset="0.0379" stop-color="#65e1c7"/><stop offset="0.0474" stop-color="#61e0c6"/><stop offset="0.0569" stop-color="#5cdec4"/><stop offset="0.0664" stop-color="#59ddc2"/><stop offset="0.0759" stop-color="#56ddc1"/><stop offset="0.0854" stop-color="#55dcc1"/><stop offset="0.0948" stop-color="#56dcc1"/><stop offset="0.1043" stop-color="#5adec3"/><stop offset="0.1138" stop-color="#60dfc5"/><stop offset="0.1233" stop-color="#67e2c8"/><stop offset="0.1328" stop-color="#6fe4cc"/><stop offset="0.1423" stop-color="#77e5ce"/><stop offset="0.1518" stop-color="#7ce7d0"/><stop offset="0.1612" stop-color="#7ee7d1"/><stop offset="0.1707" stop-color="#7ce6d0"/><stop offset="0.1802" stop-color="#75e5ce"/><stop offset="0.1897" stop-color="#6ee3cb"/><stop offset="0.1992" stop-color="#66e1c8"/><stop offset="0.2087" stop-color="#5fdfc5"/><stop offset="0.2181" stop-color="#59ddc2"/><stop offset="0.2276" stop-color="#56dcc1"/><stop offset="0.2371" stop-color="#56dcc1"/><stop offset="0.2466" stop-color="#58ddc2"/><stop offset="0.2561" stop-color="#5edfc4"/><stop offset="0.2656" stop-color="#65e1c7"/><stop offset="0.2751" stop-color="#6de3cb"/><stop offset="0.2845" stop-color="#74e5ce"/><stop offset="0.2940" stop-color="#7be6d0"/><stop offset="0.3035" stop-color="#7ee7d1"/><stop offset="0.3130" stop-color="#7de7d1"/><stop offset="0.3225" stop-color="#78e6cf"/><stop offset="0.3320" stop-color="#6fe4cc"/><stop offset="0.3414" stop-color="#67e1c8"/><stop offset="0.3509" stop-color="#5fdfc5"/><stop offset="0.3604" stop-color="#58ddc2"/><stop offset="0.3699" stop-color="#52dbc0"/><stop offset="0.3794" stop-color="#50dbbf"/><stop offset="0.3889" stop-color="#51dbbf"/><stop offset="0.3984" stop-color="#54dcc0"/><stop offset="0.4078" stop-color="#59ddc3"/><stop offset="0.4173" stop-color="#60dfc5"/><stop offset="0.4268" stop-color="#67e1c8"/><stop offset="0.4363" stop-color="#6de3cb"/><stop offset="0.4458" stop-color="#73e5cd"/><stop offset="0.4553" stop-color="#76e5ce"/><stop offset="0.4647" stop-color="#77e5ce"/><stop offset="0.4742" stop-color="#73e5cd"/><stop offset="0.4837" stop-color="#6de3cb"/><stop offset="0.4932" stop-color="#66e1c8"/><stop offset="0.5027" stop-color="#5edfc4"/><stop offset="0.5122" stop-color="#56dcc1"/><stop offset="0.5217" stop-color="#50dbbf"/><stop offset="0.5311" stop-color="#4cd9bd"/><stop offset="0.5406" stop-color="#4bd9bc"/><stop offset="0.5501" stop-color="#4cdabd"/><stop offset="0.5596" stop-color="#4fdbbe"/><stop offset="0.5691" stop-color="#55dcc1"/><stop offset="0.5786" stop-color="#5bdec3"/><stop offset="0.5880" stop-color="#61e0c6"/><stop offset="0.5975" stop-color="#67e1c8"/><stop offset="0.6070" stop-color="#6ce3ca"/><stop offset="0.6165" stop-color="#6fe4cc"/><stop offset="0.6260" stop-color="#70e4cc"/><stop offset="0.6355" stop-color="#6ee4cb"/><stop offset="0.6450" stop-color="#6ae2ca"/><stop offset="0.6544" stop-color="#64e1c7"/><stop offset="0.6639" stop-color="#5ddec4"/><stop offset="0.6734" stop-color="#55dcc1"/><stop offset="0.6829" stop-color="#4ddabd"/><stop offset="0.6924" stop-color="#46d8bb"/><stop offset="0.7019" stop-color="#42d7b9"/><stop offset="0.7113" stop-color="#40d6b8"/><stop offset="0.7208" stop-color="#40d6b8"/><stop offset="0.7303" stop-color="#40d6b8"/><stop offset="0.7398" stop-color="#40d6b8"/><stop offset="0.7493" stop-color="#40d6b8"/><stop offset="0.7588" stop-color="#40d6b8"/><stop offset="0.7683" stop-color="#42d7b9"/><stop offset="0.7777" stop-color="#4ad9bc"/><stop offset="0.7872" stop-color="#53dcc0"/><stop offset="0.7967" stop-color="#5addc3"/><stop offset="0.8062" stop-color="#5cdec4"/><stop offset="0.8157" stop-color="#68e2c9"/><stop offset="0.8252" stop-color="#7ee7d1"/><stop offset="0.8347" stop-color="#90ebd7"/><stop offset="0.8441" stop-color="#95ecd9"/><stop offset="0.8536" stop-color="#a3efde"/><stop offset="0.8631" stop-color="#b8f2e5"/><stop offset="0.8726" stop-color="#c0f3e7"/><stop offset="0.8821" stop-color="#c7f5e9"/><stop offset="0.8916" stop-color="#d6f7ed"/><stop offset="0.9010" stop-color="#dff8f0"/><stop offset="0.9105" stop-color="#dff8f0"/><stop offset="0.9200" stop-color="#e0f8f0"/><stop offset="0.9295" stop-color="#e0f8f1"/><stop offset="0.9390" stop-color="#e1f8f1"/><stop offset="0.9485" stop-color="#e1f8f1"/><stop offset="0.9580" stop-color="#e1f8f1"/><stop offset="0.9674" stop-color="#e1f8f1"/><stop offset="0.9769" stop-color="#e1f8f1"/><stop offset="0.9864" stop-color="#e1f8f1"/><stop offset="0.9959" stop-color="#e1f8f1"/><stop offset="1.0000" stop-color="#e1f8f1"/></linearGradient><linearGradient id="g30" x1="0" y1="0" x2="0" y2="1"><stop offset="0.0000" stop-color="#70e4cc"/><stop offset="0.0095" stop-color="#6fe4cc"/><stop offset="0.0190" stop-color="#6de3cb"/><stop offset="0.0285" stop-color="#69e2c9"/><stop offset="0.0379" stop-color="#65e1c7"/><stop offset="0.0474" stop-color="#61e0c6"/><stop offset="0.0569" stop-color="#5cdec4"/><stop offset="0.0664" stop-color="#59ddc2"/><stop offset="0.0759" stop-color="#56ddc1"/><stop offset="0.0854" stop-color="#55dcc1"/><stop offset="0.0948" stop-color="#56dcc1"/><stop offset="0.1043" stop-color="#5adec3"/><stop offset="0.1138" stop-color="#60dfc5"/><stop offset="0.1233" stop-color="#67e2c8"/><stop offset="0.1328" stop-color="#6fe4cc"/><stop offset="0.1423" stop-color="#77e5ce"/><stop offset="0.1518" stop-color="#7ce7d0"/><stop offset="0.1612" stop-color="#7ee7d1"/><stop offset="0.1707" stop-color="#7ce6d0"/><stop offset="0.1802" stop-color="#75e5ce"/><stop offset="0.1897" stop-color="#6ee3cb"/><stop offset="0.1992" stop-color="#66e1c8"/><stop offset="0.2087" stop-color="#5fdfc5"/><stop offset="0.2181" stop-color="#59ddc2"/><stop offset="0.2276" stop-color="#56dcc1"/><stop offset="0.2371" stop-color="#56dcc1"/><stop offset="0.2466" stop-color="#58ddc2"/><stop offset="0.2561" stop-color="#5edfc4"/><stop offset="0.2656" stop-color="#65e1c7"/><stop offset="0.2751" stop-color="#6de3cb"/><stop offset="0.2845" stop-color="#74e5ce"/><stop offset="0.2940" stop-color="#7be6d0"/><stop offset="0.3035" stop-color="#7ee7d1"/><stop offset="0.3130" stop-color="#7de7d1"/><stop offset="0.3225" stop-color="#78e6cf"/><stop offset="0.3320" stop-color="#6fe4cc"/><stop offset="0.3414" stop-color="#67e1c8"/><stop offset="0.3509" stop-color="#5fdfc5"/><stop offset="0.3604" stop-color="#58ddc2"/><stop offset="0.3699" stop-color="#52dbc0"/><stop offset="0.3794" stop-color="#50dbbf"/><stop offset="0.3889" stop-color="#51dbbf"/><stop offset="0.3984" stop-color="#54dcc0"/><stop offset="0.4078" stop-color="#59ddc3"/><stop offset="0.4173" stop-color="#60dfc5"/><stop offset="0.4268" stop-color="#67e1c8"/><stop offset="0.4363" stop-color="#6de3cb"/><stop offset="0.4458" stop-color="#73e5cd"/><stop offset="0.4553" stop-color="#76e5ce"/><stop offset="0.4647" stop-color="#77e5ce"/><stop offset="0.4742" stop-color="#73e5cd"/><stop offset="0.4837" stop-color="#6de3cb"/><stop offset="0.4932" stop-color="#66e1c8"/><stop offset="0.5027" stop-color="#5edfc4"/><stop offset="0.5122" stop-color="#56dcc1"/><stop offset="0.5217" stop-color="#50dbbf"/><stop offset="0.5311" stop-color="#4cd9bd"/><stop offset="0.5406" stop-color="#4bd9bc"/><stop offset="0.5501" stop-color="#4cdabd"/><stop offset="0.5596" stop-color="#4fdbbe"/><stop offset="0.5691" stop-color="#55dcc1"/><stop offset="0.5786" stop-color="#5bdec3"/><stop offset="0.5880" stop-color="#61e0c6"/><stop offset="0.5975" stop-color="#67e1c8"/><stop offset="0.6070" stop-color="#6ce3ca"/><stop offset="0.6165" stop-color="#6fe4cc"/><stop offset="0.6260" stop-color="#70e4cc"/><stop offset="0.6355" stop-color="#6ee4cb"/><stop offset="0.6450" stop-color="#6ae2ca"/><stop offset="0.6544" stop-color="#64e1c7"/><stop offset="0.6639" stop-color="#5ddec4"/><stop offset="0.6734" stop-color="#55dcc1"/><stop offset="0.6829" stop-color="#4ddabd"/><stop offset="0.6924" stop-color="#46d8bb"/><stop offset="0.7019" stop-color="#42d7b9"/><stop offset="0.7113" stop-color="#40d6b8"/><stop offset="0.7208" stop-color="#40d6b8"/><stop offset="0.7303" stop-color="#40d6b8"/><stop offset="0.7398" stop-color="#40d6b8"/><stop offset="0.7493" stop-color="#40d6b8"/><stop offset="0.7588" stop-color="#40d6b8"/><stop offset="0.7683" stop-color="#42d7b9"/><stop offset="0.7777" stop-color="#4ad9bc"/><stop offset="0.7872" stop-color="#53dcc0"/><stop offset="0.7967" stop-color="#5addc3"/><stop offset="0.8062" stop-color="#5cdec4"/><stop offset="0.8157" stop-color="#68e2c9"/><stop offset="0.8252" stop-color="#7ee7d1"/><stop offset="0.8347" stop-color="#90ebd7"/><stop offset="0.8441" stop-color="#95ecd9"/><stop offset="0.8536" stop-color="#a3efde"/><stop offset="0.8631" stop-color="#b8f2e5"/><stop offset="0.8726" stop-color="#c0f3e7"/><stop offset="0.8821" stop-color="#c7f5e9"/><stop offset="0.8916" stop-color="#d6f7ed"/><stop offset="0.9010" stop-color="#dff8f0"/><stop offset="0.9105" stop-color="#dff8f0"/><stop offset="0.9200" stop-color="#e0f8f0"/><stop offset="0.9295" stop-color="#e0f8f1"/><stop offset="0.9390" stop-color="#e1f8f1"/><stop offset="0.9485" stop-color="#e1f8f1"/><stop offset="0.9580" stop-color="#e1f8f1"/><stop offset="0.9674" stop-color="#e1f8f1"/><stop offset="0.9769" stop-color="#e1f8f1"/><stop offset="0.9864" stop-color="#e1f8f1"/><stop offset="0.9959" stop-color="#e1f8f1"/><stop offset="1.0000" stop-color="#e1f8f1"/></linearGradient><linearGradient id="g31" x1="0" y1="0" x2="0" y2="1"><stop offset="0.0000" stop-color="#84e8d3"/><stop offset="0.0095" stop-color="#83e8d3"/><stop offset="0.0190" stop-color="#80e7d2"/><stop offset="0.0285" stop-color="#7ce7d0"/><stop offset="0.0379" stop-color="#78e6cf"/><stop offset="0.0474" stop-color="#73e5cd"/><stop offset="0.0569" stop-color="#6fe4cc"/><stop offset="0.0664" stop-color="#6ce3ca"/><stop offset="0.0759" stop-color="#6ae2c9"/><stop offset="0.0854" stop-color="#69e2c9"/><stop offset="0.0948" stop-color="#6ae2c9"/><stop offset="0.1043" stop-color="#6de3cb"/><stop offset="0.1138" stop-color="#72e5cd"/><stop offset="0.1233" stop-color="#7ae6d0"/><stop offset="0.1328" stop-color="#82e8d3"/><stop offset="0.1423" stop-color="#89e9d5"/><stop offset="0.1518" stop-color="#8eead7"/><stop offset="0.1612" stop-color="#8febd7"/><stop offset="0.1707" stop-color="#8dead6"/><stop offset="0.1802" stop-color="#88e9d5"/><stop offset="0.1897" stop-color="#81e8d2"/><stop offset="0.1992" stop-color="#79e6cf"/><stop offset="0.2087" stop-color="#71e4cc"/><stop offset="0.2181" stop-color="#6ce3ca"/><stop offset="0.2276" stop-color="#69e2c9"/><stop offset="0.2371" stop-color="#69e2c9"/><stop offset="0.2466" stop-color="#6ce3ca"/><stop offset="0.2561" stop-color="#70e4cc"/><stop offset="0.2656" stop-color="#78e6cf"/><stop offset="0.2751" stop-color="#80e7d2"/><stop offset="0.2845" stop-color="#87e9d4"/><stop offset="0.2940" stop-color="#8cead6"/><stop offset="0.3035" stop-color="#8febd7"/><stop offset="0.3130" stop-color="#8eead7"/><stop offset="0.3225" stop-color="#8aead5"/><stop offset="0.3320" stop-color="#83e8d3"/><stop offset="0.3414" stop-color="#7ae6d0"/><stop offset="0.3509" stop-color="#71e4cc"/><stop offset="0.3604" stop-color="#6be3ca"/><stop offset="0.3699" stop-color="#67e1c8"/><stop offset="0.3794" stop-color="#65e1c7"/><stop offset="0.3889" stop-color="#65e1c8"/><stop offset="0.3984" stop-color="#68e2c9"/><stop offset="0.4078" stop-color="#6ce3ca"/><stop offset="0.4173" stop-color="#72e4cd"/><stop offset="0.4268" stop-color="#7ae6cf"/><stop offset="0.4363" stop-color="#81e8d2"/><stop offset="0.4458" stop-color="#86e9d4"/><stop offset="0.4553" stop-color="#89e9d5"/><stop offset="0.4647" stop-color="#89e9d5"/><stop offset="0.4742" stop-color="#86e9d4"/><stop offset="0.4837" stop-color="#80e7d2"/><stop offset="0.4932" stop-color="#79e6cf"/><stop offset="0.5027" stop-color="#70e4cc"/><stop offset="0.5122" stop-color="#6ae2c9"/><stop offset="0.5217" stop-color="#65e1c7"/><stop offset="0.5311" stop-color="#61e0c6"/><stop offset="0.5406" stop-color="#60dfc5"/><stop offset="0.5501" stop-color="#61e0c6"/><stop offset="0.5596" stop-color="#64e1c7"/><stop offset="0.5691" stop-color="#68e2c9"/><stop offset="0.5786" stop-color="#6de3cb"/><stop offset="0.5880" stop-color="#74e5cd"/><stop offset="0.5975" stop-color="#7ae6d0"/><stop offset="0.6070" stop-color="#7fe7d1"/><stop offset="0.6165" stop-color="#83e8d3"/><stop offset="0.6260" stop-color="#84e8d3"/><stop offset="0.6355" stop-color="#82e8d2"/><stop offset="0.6450" stop-color="#7de7d1"/><stop offset="0.6544" stop-color="#77e5ce"/><stop offset="0.6639" stop-color="#6fe4cc"/><stop offset="0.6734" stop-color="#68e2c9"/><stop offset="0.6829" stop-color="#62e0c6"/><stop offset="0.6924" stop-color="#5ddec4"/><stop offset="0.7019" stop-color="#59ddc2"/><stop offset="0.7113" stop-color="#58ddc2"/><stop offset="0.7208" stop-color="#58ddc2"/><stop offset="0.7303" stop-color="#58ddc2"/><stop offset="0.7398" stop-color="#58ddc2"/><stop offset="0.7493" stop-color="#58ddc2"/><stop offset="0.7588" stop-color="#58ddc2"/><stop offset="0.7683" stop-color="#59ddc2"/><stop offset="0.7777" stop-color="#5fdfc5"/><stop offset="0.7872" stop-color="#67e1c8"/><stop offset="0.7967" stop-color="#6ce3cb"/><stop offset="0.8062" stop-color="#6fe4cb"/><stop offset="0.8157" stop-color="#7be6d0"/><stop offset="0.8252" stop-color="#8febd7"/><stop offset="0.8347" stop-color="#9eeedc"/><stop offset="0.8441" stop-color="#a2efde"/><stop offset="0.8536" stop-color="#aef1e2"/><stop offset="0.8631" stop-color="#bff3e7"/><stop offset="0.8726" stop-color="#c6f4e9"/><stop offset="0.8821" stop-color="#ccf5eb"/><stop offset="0.8916" stop-color="#d8f7ee"/><stop offset="0.9010" stop-color="#dff8f0"/><stop offset="0.9105" stop-color="#dff8f0"/><stop offset="0.9200" stop-color="#e0f8f1"/><stop offset="0.9295" stop-color="#e1f8f1"/><stop offset="0.9390" stop-color="#e1f8f1"/><stop offset="0.9485" stop-color="#e1f8f1"/><stop offset="0.9580" stop-color="#e1f8f1"/><stop offset="0.9674" stop-color="#e1f8f1"/><stop offset="0.9769" stop-color="#e1f8f1"/><stop offset="0.9864" stop-color="#e1f8f1"/><stop offset="0.9959" stop-color="#e1f8f1"/><stop offset="1.0000" stop-color="#e1f8f1"/></linearGradient><linearGradient id="g32" x1="0" y1="0" x2="0" y2="1"><stop offset="0.0000" stop-color="#a0eedd"/><stop offset="0.0095" stop-color="#9feedd"/><stop offset="0.0190" stop-color="#9deedc"/><stop offset="0.0285" stop-color="#9beddb"/><stop offset="0.0379" stop-color="#98edda"/><stop offset="0.0474" stop-color="#95ecd9"/><stop offset="0.0569" stop-color="#91ebd8"/><stop offset="0.0664" stop-color="#8febd7"/><stop offset="0.0759" stop-color="#8dead6"/><stop offset="0.0854" stop-color="#8cead6"/><stop offset="0.0948" stop-color="#8dead6"/><stop offset="0.1043" stop-color="#90ebd7"/><stop offset="0.1138" stop-color="#94ecd9"/><stop offset="0.1233" stop-color="#99eddb"/><stop offset="0.1328" stop-color="#9feedd"/><stop offset="0.1423" stop-color="#a4efde"/><stop offset="0.1518" stop-color="#a7f0e0"/><stop offset="0.1612" stop-color="#a8f0e0"/><stop offset="0.1707" stop-color="#a6f0df"/><stop offset="0.1802" stop-color="#a3efde"/><stop offset="0.1897" stop-color="#9eeedc"/><stop offset="0.1992" stop-color="#98edda"/><stop offset="0.2087" stop-color="#93ecd9"/><stop offset="0.2181" stop-color="#8febd7"/><stop offset="0.2276" stop-color="#8dead6"/><stop offset="0.2371" stop-color="#8cead6"/><stop offset="0.2466" stop-color="#8eebd7"/><stop offset="0.2561" stop-color="#92ebd8"/><stop offset="0.2656" stop-color="#98ecda"/><stop offset="0.2751" stop-color="#9deedc"/><stop offset="0.2845" stop-color="#a2efde"/><stop offset="0.2940" stop-color="#a6f0df"/><stop offset="0.3035" stop-color="#a8f0e0"/><stop offset="0.3130" stop-color="#a7f0e0"/><stop offset="0.3225" stop-color="#a4efdf"/><stop offset="0.3320" stop-color="#9feedd"/><stop offset="0.3414" stop-color="#99eddb"/><stop offset="0.3509" stop-color="#93ecd9"/><stop offset="0.3604" stop-color="#8eead7"/><stop offset="0.3699" stop-color="#8aead5"/><stop offset="0.3794" stop-color="#88e9d5"/><stop offset="0.3889" stop-color="#89e9d5"/><stop offset="0.3984" stop-color="#8bead6"/><stop offset="0.4078" stop-color="#8febd7"/><stop offset="0.4173" stop-color="#94ecd9"/><stop offset="0.4268" stop-color="#99eddb"/><stop offset="0.4363" stop-color="#9eeedc"/><stop offset="0.4458" stop-color="#a1efde"/><stop offset="0.4553" stop-color="#a3efde"/><stop offset="0.4647" stop-color="#a3efde"/><stop offset="0.4742" stop-color="#a1efde"/><stop offset="0.4837" stop-color="#9eeedc"/><stop offset="0.4932" stop-color="#98edda"/><stop offset="0.5027" stop-color="#92ebd8"/><stop offset="0.5122" stop-color="#8dead6"/><stop offset="0.5217" stop-color="#88e9d5"/><stop offset="0.5311" stop-color="#85e9d4"/><stop offset="0.5406" stop-color="#84e8d3"/><stop offset="0.5501" stop-color="#85e9d4"/><stop offset="0.5596" stop-color="#88e9d5"/><stop offset="0.5691" stop-color="#8cead6"/><stop offset="0.5786" stop-color="#90ebd7"/><stop offset="0.5880" stop-color="#95ecd9"/><stop offset="0.5975" stop-color="#99eddb"/><stop offset="0.6070" stop-color="#9deedc"/><stop offset="0.6165" stop-color="#9feedd"/><stop offset="0.6260" stop-color="#a0eedd"/><stop offset="0.6355" stop-color="#9feedd"/><stop offset="0.6450" stop-color="#9ceddc"/><stop offset="0.6544" stop-color="#97ecda"/><stop offset="0.6639" stop-color="#91ebd8"/><stop offset="0.6734" stop-color="#8cead6"/><stop offset="0.6829" stop-color="#86e9d4"/><stop offset="0.6924" stop-color="#81e8d2"/><stop offset="0.7019" stop-color="#7ee7d1"/><stop offset="0.7113" stop-color="#7de7d0"/><stop offset="0.7208" stop-color="#7ce7d0"/><stop offset="0.7303" stop-color="#7ce7d0"/><stop offset="0.7398" stop-color="#7ce7d0"/><stop offset="0.7493" stop-color="#7ce7d0"/><stop offset="0.7588" stop-color="#7ce7d0"/><stop offset="0.7683" stop-color="#7ee7d1"/><stop offset="0.7777" stop-color="#83e8d3"/><stop offset="0.7872" stop-color="#8aead5"/><stop offset="0.7967" stop-color="#8febd7"/><stop offset="0.8062" stop-color="#91ebd8"/><stop offset="0.8157" stop-color="#9aeddb"/><stop offset="0.8252" stop-color="#a8f0e0"/><stop offset="0.8347" stop-color="#b3f2e3"/><stop offset="0.8441" stop-color="#b6f2e4"/><stop offset="0.8536" stop-color="#bff3e7"/><stop offset="0.8631" stop-color="#cbf5ea"/><stop offset="0.8726" stop-color="#cff6eb"/><stop offset="0.8821" stop-color="#d3f6ed"/><stop offset="0.8916" stop-color="#dbf7ef"/><stop offset="0.9010" stop-color="#e0f8f0"/><stop offset="0.9105" stop-color="#e0f8f0"/><stop offset="0.9200" stop-color="#e0f8f1"/><stop offset="0.9295" stop-color="#e1f8f1"/><stop offset="0.9390" stop-color="#e1f8f1"/><stop offset="0.9485" stop-color="#e1f8f1"/><stop offset="0.9580" stop-color="#e1f8f1"/><stop offset="0.9674" stop-color="#e1f8f1"/><stop offset="0.9769" stop-color="#e1f8f1"/><stop offset="0.9864" stop-color="#e1f8f1"/><stop offset="0.9959" stop-color="#e1f8f1"/><stop offset="1.0000" stop-color="#e1f8f1"/></linearGradient><linearGradient id="g33" x1="0" y1="0" x2="0" y2="1"><stop offset="0.0000" stop-color="#b7f2e4"/><stop offset="0.0095" stop-color="#b7f2e4"/><stop offset="0.0190" stop-color="#b5f2e4"/><stop offset="0.0285" stop-color="#b4f2e3"/><stop offset="0.0379" stop-color="#b1f1e3"/><stop offset="0.0474" stop-color="#aff1e2"/><stop offset="0.0569" stop-color="#adf1e1"/><stop offset="0.0664" stop-color="#abf0e1"/><stop offset="0.0759" stop-color="#aaf0e0"/><stop offset="0.0854" stop-color="#a9f0e0"/><stop offset="0.0948" stop-color="#a9f0e0"/><stop offset="0.1043" stop-color="#abf0e1"/><stop offset="0.1138" stop-color="#aff1e2"/><stop offset="0.1233" stop-color="#b3f2e3"/><stop offset="0.1328" stop-color="#b7f2e4"/><stop offset="0.1423" stop-color="#baf3e5"/><stop offset="0.1518" stop-color="#bcf3e6"/><stop offset="0.1612" stop-color="#bdf3e6"/><stop offset="0.1707" stop-color="#bcf3e6"/><stop offset="0.1802" stop-color="#b9f3e5"/><stop offset="0.1897" stop-color="#b6f2e4"/><stop offset="0.1992" stop-color="#b2f1e3"/><stop offset="0.2087" stop-color="#aef1e2"/><stop offset="0.2181" stop-color="#abf0e1"/><stop offset="0.2276" stop-color="#a9f0e0"/><stop offset="0.2371" stop-color="#a9f0e0"/><stop offset="0.2466" stop-color="#abf0e1"/><stop offset="0.2561" stop-color="#adf1e2"/><stop offset="0.2656" stop-color="#b1f1e3"/><stop offset="0.2751" stop-color="#b5f2e4"/><stop offset="0.2845" stop-color="#b9f2e5"/><stop offset="0.2940" stop-color="#bcf3e6"/><stop offset="0.3035" stop-color="#bdf3e6"/><stop offset="0.3130" stop-color="#bcf3e6"/><stop offset="0.3225" stop-color="#baf3e5"/><stop offset="0.3320" stop-color="#b7f2e4"/><stop offset="0.3414" stop-color="#b2f2e3"/><stop offset="0.3509" stop-color="#aef1e2"/><stop offset="0.3604" stop-color="#aaf0e1"/><stop offset="0.3699" stop-color="#a7f0e0"/><stop offset="0.3794" stop-color="#a6f0df"/><stop offset="0.3889" stop-color="#a7f0e0"/><stop offset="0.3984" stop-color="#a8f0e0"/><stop offset="0.4078" stop-color="#abf0e1"/><stop offset="0.4173" stop-color="#aff1e2"/><stop offset="0.4268" stop-color="#b2f1e3"/><stop offset="0.4363" stop-color="#b6f2e4"/><stop offset="0.4458" stop-color="#b8f2e5"/><stop offset="0.4553" stop-color="#baf3e5"/><stop offset="0.4647" stop-color="#baf3e5"/><stop offset="0.4742" stop-color="#b8f2e5"/><stop offset="0.4837" stop-color="#b5f2e4"/><stop offset="0.4932" stop-color="#b2f1e3"/><stop offset="0.5027" stop-color="#adf1e2"/><stop offset="0.5122" stop-color="#a9f0e0"/><stop offset="0.5217" stop-color="#a6f0df"/><stop offset="0.5311" stop-color="#a4efdf"/><stop offset="0.5406" stop-color="#a4efdf"/><stop offset="0.5501" stop-color="#a4efdf"/><stop offset="0.5596" stop-color="#a6f0df"/><stop offset="0.5691" stop-color="#a9f0e0"/><stop offset="0.5786" stop-color="#acf1e1"/><stop offset="0.5880" stop-color="#aff1e2"/><stop offset="0.5975" stop-color="#b2f2e3"/><stop offset="0.6070" stop-color="#b5f2e4"/><stop offset="0.6165" stop-color="#b7f2e4"/><stop offset="0.6260" stop-color="#b7f2e4"/><stop offset="0.6355" stop-color="#b6f2e4"/><stop offset="0.6450" stop-color="#b4f2e4"/><stop offset="0.6544" stop-color="#b1f1e3"/><stop offset="0.6639" stop-color="#adf1e1"/><stop offset="0.6734" stop-color="#a9f0e0"/><stop offset="0.6829" stop-color="#a5efdf"/><stop offset="0.6924" stop-color="#a2efde"/><stop offset="0.7019" stop-color="#a0eedd"/><stop offset="0.7113" stop-color="#9feedd"/><stop offset="0.7208" stop-color="#9feedd"/><stop offset="0.7303" stop-color="#9feedd"/><stop offset="0.7398" stop-color="#9feedd"/><stop offset="0.7493" stop-color="#9feedd"/><stop offset="0.7588" stop-color="#9feedd"/><stop offset="0.7683" stop-color="#a0eedd"/><stop offset="0.7777" stop-color="#a3efde"/><stop offset="0.7872" stop-color="#a8f0e0"/><stop offset="0.7967" stop-color="#abf0e1"/><stop offset="0.8062" stop-color="#adf1e1"/><stop offset="0.8157" stop-color="#b3f2e3"/><stop offset="0.8252" stop-color="#bdf3e6"/><stop offset="0.8347" stop-color="#c4f4e8"/><stop offset="0.8441" stop-color="#c6f4e9"/><stop offset="0.8536" stop-color="#ccf5ea"/><stop offset="0.8631" stop-color="#d3f6ed"/><stop offset="0.8726" stop-color="#d6f7ed"/><stop offset="0.8821" stop-color="#d9f7ee"/><stop offset="0.8916" stop-color="#def8f0"/><stop offset="0.9010" stop-color="#e0f8f0"/><stop offset="0.9105" stop-color="#e0f8f1"/><stop offset="0.9200" stop-color="#e0f8f1"/><stop offset="0.9295" stop-color="#e1f8f1"/><stop offset="0.9390" stop-color="#e1f8f1"/><stop offset="0.9485" stop-color="#e1f8f1"/><stop offset="0.9580" stop-color="#e1f8f1"/><stop offset="0.9674" stop-color="#e1f8f1"/><stop offset="0.9769" stop-color="#e1f8f1"/><stop offset="0.9864" stop-color="#e1f8f1"/><stop offset="0.9959" stop-color="#e1f8f1"/><stop offset="1.0000" stop-color="#e1f8f1"/></linearGradient><linearGradient id="g34" x1="0" y1="0" x2="0" y2="1"><stop offset="0.0000" stop-color="#c8f5e9"/><stop offset="0.0095" stop-color="#c8f5e9"/><stop offset="0.0190" stop-color="#c7f5e9"/><stop offset="0.0285" stop-color="#c6f4e9"/><stop offset="0.0379" stop-color="#c5f4e8"/><stop offset="0.0474" stop-color="#c3f4e8"/><stop offset="0.0569" stop-color="#c2f4e8"/><stop offset="0.0664" stop-color="#c1f4e7"/><stop offset="0.0759" stop-color="#c0f3e7"/><stop offset="0.0854" stop-color="#c0f3e7"/><stop offset="0.0948" stop-color="#c0f3e7"/><stop offset="0.1043" stop-color="#c1f4e7"/><stop offset="0.1138" stop-color="#c3f4e8"/><stop offset="0.1233" stop-color="#c5f4e9"/><stop offset="0.1328" stop-color="#c8f5e9"/><stop offset="0.1423" stop-color="#caf5ea"/><stop offset="0.1518" stop-color="#cbf5ea"/><stop offset="0.1612" stop-color="#ccf5ea"/><stop offset="0.1707" stop-color="#cbf5ea"/><stop offset="0.1802" stop-color="#c9f5ea"/><stop offset="0.1897" stop-color="#c7f5e9"/><stop offset="0.1992" stop-color="#c5f4e8"/><stop offset="0.2087" stop-color="#c3f4e8"/><stop offset="0.2181" stop-color="#c1f4e7"/><stop offset="0.2276" stop-color="#c0f3e7"/><stop offset="0.2371" stop-color="#c0f3e7"/><stop offset="0.2466" stop-color="#c1f4e7"/><stop offset="0.2561" stop-color="#c2f4e8"/><stop offset="0.2656" stop-color="#c5f4e8"/><stop offset="0.2751" stop-color="#c7f5e9"/><stop offset="0.2845" stop-color="#c9f5ea"/><stop offset="0.2940" stop-color="#cbf5ea"/><stop offset="0.3035" stop-color="#ccf5ea"/><stop offset="0.3130" stop-color="#cbf5ea"/><stop offset="0.3225" stop-color="#caf5ea"/><stop offset="0.3320" stop-color="#c8f5e9"/><stop offset="0.3414" stop-color="#c5f4e9"/><stop offset="0.3509" stop-color="#c3f4e8"/><stop offset="0.3604" stop-color="#c0f4e7"/><stop offset="0.3699" stop-color="#bff3e7"/><stop offset="0.3794" stop-color="#bef3e6"/><stop offset="0.3889" stop-color="#bef3e6"/><stop offset="0.3984" stop-color="#bff3e7"/><stop offset="0.4078" stop-color="#c1f4e7"/><stop offset="0.4173" stop-color="#c3f4e8"/><stop offset="0.4268" stop-color="#c5f4e8"/><stop offset="0.4363" stop-color="#c7f5e9"/><stop offset="0.4458" stop-color="#c9f5ea"/><stop offset="0.4553" stop-color="#caf5ea"/><stop offset="0.4647" stop-color="#caf5ea"/><stop offset="0.4742" stop-color="#c9f5ea"/><stop offset="0.4837" stop-color="#c7f5e9"/><stop offset="0.4932" stop-color="#c5f4e8"/><stop offset="0.5027" stop-color="#c2f4e8"/><stop offset="0.5122" stop-color="#c0f3e7"/><stop offset="0.5217" stop-color="#bef3e6"/><stop offset="0.5311" stop-color="#bcf3e6"/><stop offset="0.5406" stop-color="#bcf3e6"/><stop offset="0.5501" stop-color="#bcf3e6"/><stop offset="0.5596" stop-color="#bef3e6"/><stop offset="0.5691" stop-color="#bff3e7"/><stop offset="0.5786" stop-color="#c1f4e7"/><stop offset="0.5880" stop-color="#c3f4e8"/><stop offset="0.5975" stop-color="#c5f4e9"/><stop offset="0.6070" stop-color="#c7f4e9"/><stop offset="0.6165" stop-color="#c8f5e9"/><stop offset="0.6260" stop-color="#c8f5e9"/><stop offset="0.6355" stop-color="#c8f5e9"/><stop offset="0.6450" stop-color="#c6f4e9"/><stop offset="0.6544" stop-color="#c4f4e8"/><stop offset="0.6639" stop-color="#c2f4e8"/><stop offset="0.6734" stop-color="#bff3e7"/><stop offset="0.6829" stop-color="#bdf3e6"/><stop offset="0.6924" stop-color="#bbf3e5"/><stop offset="0.7019" stop-color="#b9f3e5"/><stop offset="0.7113" stop-color="#b9f2e5"/><stop offset="0.7208" stop-color="#b9f2e5"/><stop offset="0.7303" stop-color="#b9f2e5"/><stop offset="0.7398" stop-color="#b9f2e5"/><stop offset="0.7493" stop-color="#b9f2e5"/><stop offset="0.7588" stop-color="#b9f2e5"/><stop offset="0.7683" stop-color="#b9f3e5"/><stop offset="0.7777" stop-color="#bcf3e6"/><stop offset="0.7872" stop-color="#bff3e7"/><stop offset="0.7967" stop-color="#c1f4e7"/><stop offset="0.8062" stop-color="#c2f4e7"/><stop offset="0.8157" stop-color="#c6f4e9"/><stop offset="0.8252" stop-color="#ccf5ea"/><stop offset="0.8347" stop-color="#d0f6ec"/><stop offset="0.8441" stop-color="#d1f6ec"/><stop offset="0.8536" stop-color="#d5f7ed"/><stop offset="0.8631" stop-color="#d9f7ee"/><stop offset="0.8726" stop-color="#dbf7ef"/><stop offset="0.8821" stop-color="#ddf8ef"/><stop offset="0.8916" stop-color="#dff8f0"/><stop offset="0.9010" stop-color="#e0f8f1"/><stop offset="0.9105" stop-color="#e0f8f1"/><stop offset="0.9200" stop-color="#e0f8f1"/><stop offset="0.9295" stop-color="#e1f8f1"/><stop offset="0.9390" stop-color="#e1f8f1"/><stop offset="0.9485" stop-color="#e1f8f1"/><stop offset="0.9580" stop-color="#e1f8f1"/><stop offset="0.9674" stop-color="#e1f8f1"/><stop offset="0.9769" stop-color="#e1f8f1"/><stop offset="0.9864" stop-color="#e1f8f1"/><stop offset="0.9959" stop-color="#e1f8f1"/><stop offset="1.0000" stop-color="#e1f8f1"/></linearGradient><linearGradient id="g35" x1="0" y1="0" x2="0" y2="1"><stop offset="0.0000" stop-color="#d6f7ed"/><stop offset="0.0095" stop-color="#d5f7ed"/><stop offset="0.0190" stop-color="#d5f7ed"/><stop offset="0.0285" stop-color="#d4f6ed"/><stop offset="0.0379" stop-color="#d4f6ed"/><stop offset="0.0474" stop-color="#d3f6ed"/><stop offset="0.0569" stop-color="#d2f6ec"/><stop offset="0.0664" stop-color="#d2f6ec"/><stop offset="0.0759" stop-color="#d1f6ec"/><stop offset="0.0854" stop-color="#d1f6ec"/><stop offset="0.0948" stop-color="#d1f6ec"/><stop offset="0.1043" stop-color="#d2f6ec"/><stop offset="0.1138" stop-color="#d3f6ec"/><stop offset="0.1233" stop-color="#d4f6ed"/><stop offset="0.1328" stop-color="#d5f7ed"/><stop offset="0.1423" stop-color="#d6f7ed"/><stop offset="0.1518" stop-color="#d7f7ee"/><stop offset="0.1612" stop-color="#d7f7ee"/><stop offset="0.1707" stop-color="#d7f7ee"/><stop offset="0.1802" stop-color="#d6f7ed"/><stop offset="0.1897" stop-color="#d5f7ed"/><stop offset="0.1992" stop-color="#d4f6ed"/><stop offset="0.2087" stop-color="#d3f6ec"/><stop offset="0.2181" stop-color="#d2f6ec"/><stop offset="0.2276" stop-color="#d1f6ec"/><stop offset="0.2371" stop-color="#d1f6ec"/><stop offset="0.2466" stop-color="#d2f6ec"/><stop offset="0.2561" stop-color="#d3f6ec"/><stop offset="0.2656" stop-color="#d4f6ed"/><stop offset="0.2751" stop-color="#d5f7ed"/><stop offset="0.2845" stop-color="#d6f7ed"/><stop offset="0.2940" stop-color="#d7f7ee"/><stop offset="0.3035" stop-color="#d7f7ee"/><stop offset="0.3130" stop-color="#d7f7ee"/><stop offset="0.3225" stop-color="#d6f7ee"/><stop offset="0.3320" stop-color="#d5f7ed"/><stop offset="0.3414" stop-color="#d4f6ed"/><stop offset="0.3509" stop-color="#d3f6ec"/><stop offset="0.3604" stop-color="#d2f6ec"/><stop offset="0.3699" stop-color="#d1f6ec"/><stop offset="0.3794" stop-color="#d0f6ec"/><stop offset="0.3889" stop-color="#d0f6ec"/><stop offset="0.3984" stop-color="#d1f6ec"/><stop offset="0.4078" stop-color="#d2f6ec"/><stop offset="0.4173" stop-color="#d3f6ec"/><stop offset="0.4268" stop-color="#d4f6ed"/><stop offset="0.4363" stop-color="#d5f7ed"/><stop offset="0.4458" stop-color="#d6f7ed"/><stop offset="0.4553" stop-color="#d6f7ed"/><stop offset="0.4647" stop-color="#d6f7ed"/><stop offset="0.4742" stop-color="#d6f7ed"/><stop offset="0.4837" stop-color="#d5f7ed"/><stop offset="0.4932" stop-color="#d4f6ed"/><stop offset="0.5027" stop-color="#d3f6ec"/><stop offset="0.5122" stop-color="#d1f6ec"/><stop offset="0.5217" stop-color="#d0f6ec"/><stop offset="0.5311" stop-color="#d0f6ec"/><stop offset="0.5406" stop-color="#cff6eb"/><stop offset="0.5501" stop-color="#d0f6ec"/><stop offset="0.5596" stop-color="#d0f6ec"/><stop offset="0.5691" stop-color="#d1f6ec"/><stop offset="0.5786" stop-color="#d2f6ec"/><stop offset="0.5880" stop-color="#d3f6ed"/><stop offset="0.5975" stop-color="#d4f6ed"/><stop offset="0.6070" stop-color="#d5f7ed"/><stop offset="0.6165" stop-color="#d5f7ed"/><stop offset="0.6260" stop-color="#d6f7ed"/><stop offset="0.6355" stop-color="#d5f7ed"/><stop offset="0.6450" stop-color="#d5f6ed"/><stop offset="0.6544" stop-color="#d4f6ed"/><stop offset="0.6639" stop-color="#d2f6ec"/><stop offset="0.6734" stop-color="#d1f6ec"/><stop offset="0.6829" stop-color="#d0f6ec"/><stop offset="0.6924" stop-color="#cff6eb"/><stop offset="0.7019" stop-color="#cef6eb"/><stop offset="0.7113" stop-color="#cef5eb"/><stop offset="0.7208" stop-color="#cef5eb"/><stop offset="0.7303" stop-color="#cef5eb"/><stop offset="0.7398" stop-color="#cef5eb"/><stop offset="0.7493" stop-color="#cef5eb"/><stop offset="0.7588" stop-color="#cef5eb"/><stop offset="0.7683" stop-color="#cef6eb"/><stop offset="0.7777" stop-color="#cff6eb"/><stop offset="0.7872" stop-color="#d1f6ec"/><stop offset="0.7967" stop-color="#d2f6ec"/><stop offset="0.8062" stop-color="#d2f6ec"/><stop offset="0.8157" stop-color="#d4f6ed"/><stop offset="0.8252" stop-color="#d7f7ee"/><stop offset="0.8347" stop-color="#d9f7ee"/><stop offset="0.8441" stop-color="#daf7ef"/><stop offset="0.8536" stop-color="#dcf8ef"/><stop offset="0.8631" stop-color="#def8f0"/><stop offset="0.8726" stop-color="#dff8f0"/><stop offset="0.8821" stop-color="#dff8f0"/><stop offset="0.8916" stop-color="#e0f8f0"/><stop offset="0.9010" stop-color="#e0f8f1"/><stop offset="0.9105" stop-color="#e0f8f1"/><stop offset="0.9200" stop-color="#e1f8f1"/><stop offset="0.9295" stop-color="#e1f8f1"/><stop offset="0.9390" stop-color="#e1f8f1"/><stop offset="0.9485" stop-color="#e1f8f1"/><stop offset="0.9580" stop-color="#e1f8f1"/><stop offset="0.9674" stop-color="#e1f8f1"/><stop offset="0.9769" stop-color="#e1f8f1"/><stop offset="0.9864" stop-color="#e1f8f1"/><stop offset="0.9959" stop-color="#e1f8f1"/><stop offset="1.0000" stop-color="#e1f8f1"/></linearGradient><linearGradient id="g36" x1="0" y1="0" x2="0" y2="1"><stop offset="0.0000" stop-color="#ddf8ef"/><stop offset="0.0095" stop-color="#ddf8ef"/><stop offset="0.0190" stop-color="#ddf8ef"/><stop offset="0.0285" stop-color="#dcf8ef"/><stop offset="0.0379" stop-color="#dcf8ef"/><stop offset="0.0474" stop-color="#dcf8ef"/><stop offset="0.0569" stop-color="#dbf7ef"/><stop offset="0.0664" stop-color="#dbf7ef"/><stop offset="0.0759" stop-color="#dbf7ef"/><stop offset="0.0854" stop-color="#dbf7ef"/><stop offset="0.0948" stop-color="#dbf7ef"/><stop offset="0.1043" stop-color="#dbf7ef"/><stop offset="0.1138" stop-color="#dcf8ef"/><stop offset="0.1233" stop-color="#dcf8ef"/><stop offset="0.1328" stop-color="#ddf8ef"/><stop offset="0.1423" stop-color="#ddf8ef"/><stop offset="0.1518" stop-color="#def8f0"/><stop offset="0.1612" stop-color="#def8f0"/><stop offset="0.1707" stop-color="#ddf8f0"/><stop offset="0.1802" stop-color="#ddf8ef"/><stop offset="0.1897" stop-color="#ddf8ef"/><stop offset="0.1992" stop-color="#dcf8ef"/><stop offset="0.2087" stop-color="#dcf8ef"/><stop offset="0.2181" stop-color="#dbf7ef"/><stop offset="0.2276" stop-color="#dbf7ef"/><stop offset="0.2371" stop-color="#dbf7ef"/><stop offset="0.2466" stop-color="#dbf7ef"/><stop offset="0.2561" stop-color="#dcf7ef"/><stop offset="0.2656" stop-color="#dcf8ef"/><stop offset="0.2751" stop-color="#ddf8ef"/><stop offset="0.2845" stop-color="#ddf8ef"/><stop offset="0.2940" stop-color="#ddf8f0"/><stop offset="0.3035" stop-color="#def8f0"/><stop offset="0.3130" stop-color="#def8f0"/><stop offset="0.3225" stop-color="#ddf8ef"/><stop offset="0.3320" stop-color="#ddf8ef"/><stop offset="0.3414" stop-color="#dcf8ef"/><stop offset="0.3509" stop-color="#dcf8ef"/><stop offset="0.3604" stop-color="#dbf7ef"/><stop offset="0.3699" stop-color="#dbf7ef"/><stop offset="0.3794" stop-color="#daf7ef"/><stop offset="0.3889" stop-color="#dbf7ef"/><stop offset="0.3984" stop-color="#dbf7ef"/><stop offset="0.4078" stop-color="#dbf7ef"/><stop offset="0.4173" stop-color="#dcf8ef"/><stop offset="0.4268" stop-color="#dcf8ef"/><stop offset="0.4363" stop-color="#ddf8ef"/><stop offset="0.4458" stop-color="#ddf8ef"/><stop offset="0.4553" stop-color="#ddf8ef"/><stop offset="0.4647" stop-color="#ddf8ef"/><stop offset="0.4742" stop-color="#ddf8ef"/><stop offset="0.4837" stop-color="#ddf8ef"/><stop offset="0.4932" stop-color="#dcf8ef"/><stop offset="0.5027" stop-color="#dcf7ef"/><stop offset="0.5122" stop-color="#dbf7ef"/><stop offset="0.5217" stop-color="#daf7ef"/><stop offset="0.5311" stop-color="#daf7ef"/><stop offset="0.5406" stop-color="#daf7ef"/><stop offset="0.5501" stop-color="#daf7ef"/><stop offset="0.5596" stop-color="#daf7ef"/><stop offset="0.5691" stop-color="#dbf7ef"/><stop offset="0.5786" stop-color="#dbf7ef"/><stop offset="0.5880" stop-color="#dcf8ef"/><stop offset="0.5975" stop-color="#dcf8ef"/><stop offset="0.6070" stop-color="#ddf8ef"/><stop offset="0.6165" stop-color="#ddf8ef"/><stop offset="0.6260" stop-color="#ddf8ef"/><stop offset="0.6355" stop-color="#ddf8ef"/><stop offset="0.6450" stop-color="#dcf8ef"/><stop offset="0.6544" stop-color="#dcf8ef"/><stop offset="0.6639" stop-color="#dbf7ef"/><stop offset="0.6734" stop-color="#dbf7ef"/><stop offset="0.6829" stop-color="#daf7ef"/><stop offset="0.6924" stop-color="#daf7ee"/><stop offset="0.7019" stop-color="#d9f7ee"/><stop offset="0.7113" stop-color="#d9f7ee"/><stop offset="0.7208" stop-color="#d9f7ee"/><stop offset="0.7303" stop-color="#d9f7ee"/><stop offset="0.7398" stop-color="#d9f7ee"/><stop offset="0.7493" stop-color="#d9f7ee"/><stop offset="0.7588" stop-color="#d9f7ee"/><stop offset="0.7683" stop-color="#d9f7ee"/><stop offset="0.7777" stop-color="#daf7ef"/><stop offset="0.7872" stop-color="#dbf7ef"/><stop offset="0.7967" stop-color="#dbf7ef"/><stop offset="0.8062" stop-color="#dbf7ef"/><stop offset="0.8157" stop-color="#dcf8ef"/><stop offset="0.8252" stop-color="#def8f0"/><stop offset="0.8347" stop-color="#dff8f0"/><stop offset="0.8441" stop-color="#dff8f0"/><stop offset="0.8536" stop-color="#dff8f0"/><stop offset="0.8631" stop-color="#e0f8f0"/><stop offset="0.8726" stop-color="#e0f8f0"/><stop offset="0.8821" stop-color="#e0f8f1"/><stop offset="0.8916" stop-color="#e0f8f1"/><stop offset="0.9010" stop-color="#e1f8f1"/><stop offset="0.9105" stop-color="#e1f8f1"/><stop offset="0.9200" stop-color="#e1f8f1"/><stop offset="0.9295" stop-color="#e1f8f1"/><stop offset="0.9390" stop-color="#e1f8f1"/><stop offset="0.9485" stop-color="#e1f8f1"/><stop offset="0.9580" stop-color="#e1f8f1"/><stop offset="0.9674" stop-color="#e1f8f1"/><stop offset="0.9769" stop-color="#e1f8f1"/><stop offset="0.9864" stop-color="#e1f8f1"/><stop offset="0.9959" stop-color="#e1f8f1"/><stop offset="1.0000" stop-color="#e1f8f1"/></linearGradient><linearGradient id="g43" x1="0" y1="0" x2="0" y2="1"><stop offset="0.0000" stop-color="#dcf8ef"/><stop offset="0.0095" stop-color="#dcf8ef"/><stop offset="0.0190" stop-color="#dcf8ef"/><stop offset="0.0285" stop-color="#dcf8ef"/><stop offset="0.0379" stop-color="#dcf8ef"/><stop offset="0.0474" stop-color="#dcf8ef"/><stop offset="0.0569" stop-color="#dcf7ef"/><stop offset="0.0664" stop-color="#dbf7ef"/><stop offset="0.0759" stop-color="#dbf7ef"/><stop offset="0.0854" stop-color="#dbf7ef"/><stop offset="0.0948" stop-color="#dbf7ef"/><stop offset="0.1043" stop-color="#dcf7ef"/><stop offset="0.1138" stop-color="#dcf8ef"/><stop offset="0.1233" stop-color="#dcf8ef"/><stop offset="0.1328" stop-color="#dcf8ef"/><stop offset="0.1423" stop-color="#dcf8ef"/><stop offset="0.1518" stop-color="#dcf8ef"/><stop offset="0.1612" stop-color="#dcf8ef"/><stop offset="0.1707" stop-color="#dcf8ef"/><stop offset="0.1802" stop-color="#dcf8ef"/><stop offset="0.1897" stop-color="#dbf7ef"/><stop offset="0.1992" stop-color="#dbf7ef"/><stop offset="0.2087" stop-color="#dbf7ef"/><stop offset="0.2181" stop-color="#dbf7ef"/><stop offset="0.2276" stop-color="#dbf7ef"/><stop offset="0.2371" stop-color="#dbf7ef"/><stop offset="0.2466" stop-color="#dbf7ef"/><stop offset="0.2561" stop-color="#dbf7ef"/><stop offset="0.2656" stop-color="#dcf8ef"/><stop offset="0.2751" stop-color="#dcf8ef"/><stop offset="0.2845" stop-color="#dcf8ef"/><stop offset="0.2940" stop-color="#dcf8ef"/><stop offset="0.3035" stop-color="#dcf8ef"/><stop offset="0.3130" stop-color="#dcf8ef"/><stop offset="0.3225" stop-color="#dcf8ef"/><stop offset="0.3320" stop-color="#dcf8ef"/><stop offset="0.3414" stop-color="#dbf7ef"/><stop offset="0.3509" stop-color="#dbf7ef"/><stop offset="0.3604" stop-color="#dbf7ef"/><stop offset="0.3699" stop-color="#daf7ef"/><stop offset="0.3794" stop-color="#daf7ef"/><stop offset="0.3889" stop-color="#daf7ef"/><stop offset="0.3984" stop-color="#dbf7ef"/><stop offset="0.4078" stop-color="#dbf7ef"/><stop offset="0.4173" stop-color="#dbf7ef"/><stop offset="0.4268" stop-color="#dbf7ef"/><stop offset="0.4363" stop-color="#dcf8ef"/><stop offset="0.4458" stop-color="#dcf8ef"/><stop offset="0.4553" stop-color="#dcf8ef"/><stop offset="0.4647" stop-color="#dcf8ef"/><stop offset="0.4742" stop-color="#dcf8ef"/><stop offset="0.4837" stop-color="#dcf8ef"/><stop offset="0.4932" stop-color="#dbf7ef"/><stop offset="0.5027" stop-color="#dbf7ef"/><stop offset="0.5122" stop-color="#dbf7ef"/><stop offset="0.5217" stop-color="#daf7ef"/><stop offset="0.5311" stop-color="#daf7ef"/><stop offset="0.5406" stop-color="#daf7ee"/><stop offset="0.5501" stop-color="#daf7ee"/><stop offset="0.5596" stop-color="#daf7ee"/><stop offset="0.5691" stop-color="#daf7ef"/><stop offset="0.5786" stop-color="#daf7ef"/><stop offset="0.5880" stop-color="#dbf7ef"/><stop offset="0.5975" stop-color="#dcf7ef"/><stop offset="0.6070" stop-color="#dcf8ef"/><stop offset="0.6165" stop-color="#dcf8ef"/><stop offset="0.6260" stop-color="#ddf8ef"/><stop offset="0.6355" stop-color="#ddf8ef"/><stop offset="0.6450" stop-color="#dcf8ef"/><stop offset="0.6544" stop-color="#dcf8ef"/><stop offset="0.6639" stop-color="#dcf8ef"/><stop offset="0.6734" stop-color="#dbf7ef"/><stop offset="0.6829" stop-color="#dbf7ef"/><stop offset="0.6924" stop-color="#daf7ef"/><stop offset="0.7019" stop-color="#daf7ee"/><stop offset="0.7113" stop-color="#d9f7ee"/><stop offset="0.7208" stop-color="#d9f7ee"/><stop offset="0.7303" stop-color="#d9f7ee"/><stop offset="0.7398" stop-color="#d9f7ee"/><stop offset="0.7493" stop-color="#d9f7ee"/><stop offset="0.7588" stop-color="#d9f7ee"/><stop offset="0.7683" stop-color="#d9f7ee"/><stop offset="0.7777" stop-color="#d9f7ee"/><stop offset="0.7872" stop-color="#d9f7ee"/><stop offset="0.7967" stop-color="#d9f7ee"/><stop offset="0.8062" stop-color="#daf7ef"/><stop offset="0.8157" stop-color="#dbf7ef"/><stop offset="0.8252" stop-color="#dbf7ef"/><stop offset="0.8347" stop-color="#dcf8ef"/><stop offset="0.8441" stop-color="#ddf8ef"/><stop offset="0.8536" stop-color="#def8f0"/><stop offset="0.8631" stop-color="#def8f0"/><stop offset="0.8726" stop-color="#dff8f0"/><stop offset="0.8821" stop-color="#dff8f0"/><stop offset="0.8916" stop-color="#e0f8f0"/><stop offset="0.9010" stop-color="#e0f8f0"/><stop offset="0.9105" stop-color="#e0f8f1"/><stop offset="0.9200" stop-color="#e0f8f1"/><stop offset="0.9295" stop-color="#e0f8f1"/><stop offset="0.9390" stop-color="#e0f8f1"/><stop offset="0.9485" stop-color="#e0f8f1"/><stop offset="0.9580" stop-color="#e1f8f1"/><stop offset="0.9674" stop-color="#e1f8f1"/><stop offset="0.9769" stop-color="#e1f8f1"/><stop offset="0.9864" stop-color="#e1f8f1"/><stop offset="0.9959" stop-color="#e1f8f1"/><stop offset="1.0000" stop-color="#e1f8f1"/></linearGradient><linearGradient id="g44" x1="0" y1="0" x2="0" y2="1"><stop offset="0.0000" stop-color="#ccf5eb"/><stop offset="0.0095" stop-color="#ccf5ea"/><stop offset="0.0190" stop-color="#cbf5ea"/><stop offset="0.0285" stop-color="#cbf5ea"/><stop offset="0.0379" stop-color="#cbf5ea"/><stop offset="0.0474" stop-color="#cbf5ea"/><stop offset="0.0569" stop-color="#caf5ea"/><stop offset="0.0664" stop-color="#caf5ea"/><stop offset="0.0759" stop-color="#c9f5ea"/><stop offset="0.0854" stop-color="#c9f5ea"/><stop offset="0.0948" stop-color="#c9f5ea"/><stop offset="0.1043" stop-color="#caf5ea"/><stop offset="0.1138" stop-color="#cbf5ea"/><stop offset="0.1233" stop-color="#ccf5ea"/><stop offset="0.1328" stop-color="#cdf5eb"/><stop offset="0.1423" stop-color="#cdf5eb"/><stop offset="0.1518" stop-color="#cdf5eb"/><stop offset="0.1612" stop-color="#cdf5eb"/><stop offset="0.1707" stop-color="#ccf5ea"/><stop offset="0.1802" stop-color="#cbf5ea"/><stop offset="0.1897" stop-color="#caf5ea"/><stop offset="0.1992" stop-color="#c9f5ea"/><stop offset="0.2087" stop-color="#c8f5e9"/><stop offset="0.2181" stop-color="#c8f5e9"/><stop offset="0.2276" stop-color="#c8f5e9"/><stop offset="0.2371" stop-color="#c8f5e9"/><stop offset="0.2466" stop-color="#c9f5e9"/><stop offset="0.2561" stop-color="#caf5ea"/><stop offset="0.2656" stop-color="#cbf5ea"/><stop offset="0.2751" stop-color="#ccf5ea"/><stop offset="0.2845" stop-color="#cdf5eb"/><stop offset="0.2940" stop-color="#cdf5eb"/><stop offset="0.3035" stop-color="#cdf5eb"/><stop offset="0.3130" stop-color="#cdf5eb"/><stop offset="0.3225" stop-color="#ccf5ea"/><stop offset="0.3320" stop-color="#cbf5ea"/><stop offset="0.3414" stop-color="#caf5ea"/><stop offset="0.3509" stop-color="#c8f5e9"/><stop offset="0.3604" stop-color="#c7f5e9"/><stop offset="0.3699" stop-color="#c7f4e9"/><stop offset="0.3794" stop-color="#c6f4e9"/><stop offset="0.3889" stop-color="#c7f4e9"/><stop offset="0.3984" stop-color="#c7f5e9"/><stop offset="0.4078" stop-color="#c8f5e9"/><stop offset="0.4173" stop-color="#c9f5ea"/><stop offset="0.4268" stop-color="#caf5ea"/><stop offset="0.4363" stop-color="#cbf5ea"/><stop offset="0.4458" stop-color="#ccf5ea"/><stop offset="0.4553" stop-color="#ccf5eb"/><stop offset="0.4647" stop-color="#ccf5eb"/><stop offset="0.4742" stop-color="#ccf5ea"/><stop offset="0.4837" stop-color="#cbf5ea"/><stop offset="0.4932" stop-color="#caf5ea"/><stop offset="0.5027" stop-color="#c9f5ea"/><stop offset="0.5122" stop-color="#c8f5e9"/><stop offset="0.5217" stop-color="#c6f4e9"/><stop offset="0.5311" stop-color="#c5f4e9"/><stop offset="0.5406" stop-color="#c5f4e8"/><stop offset="0.5501" stop-color="#c4f4e8"/><stop offset="0.5596" stop-color="#c4f4e8"/><stop offset="0.5691" stop-color="#c5f4e8"/><stop offset="0.5786" stop-color="#c6f4e9"/><stop offset="0.5880" stop-color="#c8f5e9"/><stop offset="0.5975" stop-color="#caf5ea"/><stop offset="0.6070" stop-color="#ccf5ea"/><stop offset="0.6165" stop-color="#cdf5eb"/><stop offset="0.6260" stop-color="#cef6eb"/><stop offset="0.6355" stop-color="#cef5eb"/><stop offset="0.6450" stop-color="#cdf5eb"/><stop offset="0.6544" stop-color="#ccf5eb"/><stop offset="0.6639" stop-color="#cbf5ea"/><stop offset="0.6734" stop-color="#c9f5ea"/><stop offset="0.6829" stop-color="#c8f5e9"/><stop offset="0.6924" stop-color="#c6f4e9"/><stop offset="0.7019" stop-color="#c4f4e8"/><stop offset="0.7113" stop-color="#c3f4e8"/><stop offset="0.7208" stop-color="#c2f4e8"/><stop offset="0.7303" stop-color="#c2f4e8"/><stop offset="0.7398" stop-color="#c2f4e8"/><stop offset="0.7493" stop-color="#c1f4e7"/><stop offset="0.7588" stop-color="#c1f4e7"/><stop offset="0.7683" stop-color="#c1f4e7"/><stop offset="0.7777" stop-color="#c1f4e7"/><stop offset="0.7872" stop-color="#c2f4e8"/><stop offset="0.7967" stop-color="#c2f4e8"/><stop offset="0.8062" stop-color="#c5f4e8"/><stop offset="0.8157" stop-color="#c7f4e9"/><stop offset="0.8252" stop-color="#c9f5ea"/><stop offset="0.8347" stop-color="#ccf5eb"/><stop offset="0.8441" stop-color="#cef6eb"/><stop offset="0.8536" stop-color="#d2f6ec"/><stop offset="0.8631" stop-color="#d3f6ed"/><stop offset="0.8726" stop-color="#d7f7ee"/><stop offset="0.8821" stop-color="#d9f7ee"/><stop offset="0.8916" stop-color="#dbf7ef"/><stop offset="0.9010" stop-color="#def8f0"/><stop offset="0.9105" stop-color="#dff8f0"/><stop offset="0.9200" stop-color="#dff8f0"/><stop offset="0.9295" stop-color="#e0f8f0"/><stop offset="0.9390" stop-color="#e0f8f0"/><stop offset="0.9485" stop-color="#e0f8f1"/><stop offset="0.9580" stop-color="#e0f8f1"/><stop offset="0.9674" stop-color="#e0f8f1"/><stop offset="0.9769" stop-color="#e0f8f1"/><stop offset="0.9864" stop-color="#e0f8f1"/><stop offset="0.9959" stop-color="#e1f8f1"/><stop offset="1.0000" stop-color="#e1f8f1"/></linearGradient><linearGradient id="g45" x1="0" y1="0" x2="0" y2="1"><stop offset="0.0000" stop-color="#b1f1e3"/><stop offset="0.0095" stop-color="#b1f1e3"/><stop offset="0.0190" stop-color="#aff1e2"/><stop offset="0.0285" stop-color="#aef1e2"/><stop offset="0.0379" stop-color="#aef1e2"/><stop offset="0.0474" stop-color="#adf1e2"/><stop offset="0.0569" stop-color="#acf1e1"/><stop offset="0.0664" stop-color="#abf0e1"/><stop offset="0.0759" stop-color="#abf0e1"/><stop offset="0.0854" stop-color="#aaf0e1"/><stop offset="0.0948" stop-color="#abf0e1"/><stop offset="0.1043" stop-color="#acf1e1"/><stop offset="0.1138" stop-color="#aef1e2"/><stop offset="0.1233" stop-color="#b1f1e2"/><stop offset="0.1328" stop-color="#b2f1e3"/><stop offset="0.1423" stop-color="#b3f2e3"/><stop offset="0.1518" stop-color="#b3f2e3"/><stop offset="0.1612" stop-color="#b2f1e3"/><stop offset="0.1707" stop-color="#b0f1e2"/><stop offset="0.1802" stop-color="#aef1e2"/><stop offset="0.1897" stop-color="#acf1e1"/><stop offset="0.1992" stop-color="#aaf0e1"/><stop offset="0.2087" stop-color="#a8f0e0"/><stop offset="0.2181" stop-color="#a7f0e0"/><stop offset="0.2276" stop-color="#a7f0e0"/><stop offset="0.2371" stop-color="#a8f0e0"/><stop offset="0.2466" stop-color="#a9f0e0"/><stop offset="0.2561" stop-color="#abf0e1"/><stop offset="0.2656" stop-color="#aef1e2"/><stop offset="0.2751" stop-color="#b0f1e2"/><stop offset="0.2845" stop-color="#b2f1e3"/><stop offset="0.2940" stop-color="#b3f2e3"/><stop offset="0.3035" stop-color="#b3f2e3"/><stop offset="0.3130" stop-color="#b2f1e3"/><stop offset="0.3225" stop-color="#b0f1e2"/><stop offset="0.3320" stop-color="#aef1e2"/><stop offset="0.3414" stop-color="#abf0e1"/><stop offset="0.3509" stop-color="#a9f0e0"/><stop offset="0.3604" stop-color="#a7f0e0"/><stop offset="0.3699" stop-color="#a5efdf"/><stop offset="0.3794" stop-color="#a5efdf"/><stop offset="0.3889" stop-color="#a5efdf"/><stop offset="0.3984" stop-color="#a6f0df"/><stop offset="0.4078" stop-color="#a8f0e0"/><stop offset="0.4173" stop-color="#aaf0e1"/><stop offset="0.4268" stop-color="#acf1e1"/><stop offset="0.4363" stop-color="#aef1e2"/><stop offset="0.4458" stop-color="#b0f1e2"/><stop offset="0.4553" stop-color="#b1f1e3"/><stop offset="0.4647" stop-color="#b1f1e3"/><stop offset="0.4742" stop-color="#b0f1e2"/><stop offset="0.4837" stop-color="#aff1e2"/><stop offset="0.4932" stop-color="#acf1e1"/><stop offset="0.5027" stop-color="#aaf0e1"/><stop offset="0.5122" stop-color="#a7f0e0"/><stop offset="0.5217" stop-color="#a5efdf"/><stop offset="0.5311" stop-color="#a3efde"/><stop offset="0.5406" stop-color="#a1efde"/><stop offset="0.5501" stop-color="#a0eedd"/><stop offset="0.5596" stop-color="#a0eedd"/><stop offset="0.5691" stop-color="#a2efde"/><stop offset="0.5786" stop-color="#a4efdf"/><stop offset="0.5880" stop-color="#a8f0e0"/><stop offset="0.5975" stop-color="#adf1e1"/><stop offset="0.6070" stop-color="#b0f1e2"/><stop offset="0.6165" stop-color="#b3f2e3"/><stop offset="0.6260" stop-color="#b5f2e4"/><stop offset="0.6355" stop-color="#b4f2e4"/><stop offset="0.6450" stop-color="#b3f2e3"/><stop offset="0.6544" stop-color="#b1f1e3"/><stop offset="0.6639" stop-color="#aef1e2"/><stop offset="0.6734" stop-color="#aaf0e1"/><stop offset="0.6829" stop-color="#a7f0e0"/><stop offset="0.6924" stop-color="#a4efde"/><stop offset="0.7019" stop-color="#a1eedd"/><stop offset="0.7113" stop-color="#9eeedd"/><stop offset="0.7208" stop-color="#9deedc"/><stop offset="0.7303" stop-color="#9ceddc"/><stop offset="0.7398" stop-color="#9ceddc"/><stop offset="0.7493" stop-color="#9beddb"/><stop offset="0.7588" stop-color="#99eddb"/><stop offset="0.7683" stop-color="#99eddb"/><stop offset="0.7777" stop-color="#9aeddb"/><stop offset="0.7872" stop-color="#9ceddc"/><stop offset="0.7967" stop-color="#9ceddc"/><stop offset="0.8062" stop-color="#a2efde"/><stop offset="0.8157" stop-color="#a5efdf"/><stop offset="0.8252" stop-color="#abf0e1"/><stop offset="0.8347" stop-color="#b1f1e3"/><stop offset="0.8441" stop-color="#b5f2e4"/><stop offset="0.8536" stop-color="#bdf3e6"/><stop offset="0.8631" stop-color="#c0f4e7"/><stop offset="0.8726" stop-color="#c8f5e9"/><stop offset="0.8821" stop-color="#cdf5eb"/><stop offset="0.8916" stop-color="#d2f6ec"/><stop offset="0.9010" stop-color="#d8f7ee"/><stop offset="0.9105" stop-color="#d9f7ee"/><stop offset="0.9200" stop-color="#ddf8ef"/><stop offset="0.9295" stop-color="#def8f0"/><stop offset="0.9390" stop-color="#dff8f0"/><stop offset="0.9485" stop-color="#e0f8f0"/><stop offset="0.9580" stop-color="#e0f8f1"/><stop offset="0.9674" stop-color="#e0f8f1"/><stop offset="0.9769" stop-color="#e0f8f1"/><stop offset="0.9864" stop-color="#e0f8f1"/><stop offset="0.9959" stop-color="#e0f8f1"/><stop offset="1.0000" stop-color="#e0f8f1"/></linearGradient><linearGradient id="g46" x1="0" y1="0" x2="0" y2="1"><stop offset="0.0000" stop-color="#3bd1b5"/><stop offset="0.0095" stop-color="#3ad1b4"/><stop offset="0.0190" stop-color="#38cfb3"/><stop offset="0.0285" stop-color="#36ceb2"/><stop offset="0.0379" stop-color="#36cdb2"/><stop offset="0.0474" stop-color="#35cdb1"/><stop offset="0.0569" stop-color="#34cbb1"/><stop offset="0.0664" stop-color="#32cab0"/><stop offset="0.0759" stop-color="#31c9af"/><stop offset="0.0854" stop-color="#31c9af"/><stop offset="0.0948" stop-color="#32c9af"/><stop offset="0.1043" stop-color="#34cbb1"/><stop offset="0.1138" stop-color="#37ceb2"/><stop offset="0.1233" stop-color="#3ad1b4"/><stop offset="0.1328" stop-color="#3cd3b6"/><stop offset="0.1423" stop-color="#3dd4b6"/><stop offset="0.1518" stop-color="#3dd3b6"/><stop offset="0.1612" stop-color="#3bd2b5"/><stop offset="0.1707" stop-color="#39d0b4"/><stop offset="0.1802" stop-color="#36ceb2"/><stop offset="0.1897" stop-color="#33cbb0"/><stop offset="0.1992" stop-color="#30c8ae"/><stop offset="0.2087" stop-color="#2ec6ad"/><stop offset="0.2181" stop-color="#2cc5ac"/><stop offset="0.2276" stop-color="#2cc4ac"/><stop offset="0.2371" stop-color="#2dc5ac"/><stop offset="0.2466" stop-color="#2fc7ae"/><stop offset="0.2561" stop-color="#32caaf"/><stop offset="0.2656" stop-color="#35cdb2"/><stop offset="0.2751" stop-color="#39d0b4"/><stop offset="0.2845" stop-color="#3bd2b5"/><stop offset="0.2940" stop-color="#3dd3b6"/><stop offset="0.3035" stop-color="#3dd3b6"/><stop offset="0.3130" stop-color="#3cd2b5"/><stop offset="0.3225" stop-color="#39d0b4"/><stop offset="0.3320" stop-color="#36cdb2"/><stop offset="0.3414" stop-color="#32cab0"/><stop offset="0.3509" stop-color="#2ec7ad"/><stop offset="0.3604" stop-color="#2bc4ac"/><stop offset="0.3699" stop-color="#29c2aa"/><stop offset="0.3794" stop-color="#28c1aa"/><stop offset="0.3889" stop-color="#28c1aa"/><stop offset="0.3984" stop-color="#2ac3ab"/><stop offset="0.4078" stop-color="#2dc5ac"/><stop offset="0.4173" stop-color="#30c8ae"/><stop offset="0.4268" stop-color="#33cbb0"/><stop offset="0.4363" stop-color="#37ceb2"/><stop offset="0.4458" stop-color="#39d0b4"/><stop offset="0.4553" stop-color="#3ad1b5"/><stop offset="0.4647" stop-color="#3bd1b5"/><stop offset="0.4742" stop-color="#39d0b4"/><stop offset="0.4837" stop-color="#37ceb3"/><stop offset="0.4932" stop-color="#34cbb1"/><stop offset="0.5027" stop-color="#30c8ae"/><stop offset="0.5122" stop-color="#2cc4ac"/><stop offset="0.5217" stop-color="#28c1a9"/><stop offset="0.5311" stop-color="#24bea7"/><stop offset="0.5406" stop-color="#22bca6"/><stop offset="0.5501" stop-color="#21bba5"/><stop offset="0.5596" stop-color="#21bba5"/><stop offset="0.5691" stop-color="#23bda7"/><stop offset="0.5786" stop-color="#28c1a9"/><stop offset="0.5880" stop-color="#2dc6ad"/><stop offset="0.5975" stop-color="#34cbb1"/><stop offset="0.6070" stop-color="#3ad0b4"/><stop offset="0.6165" stop-color="#3ed4b7"/><stop offset="0.6260" stop-color="#40d6b8"/><stop offset="0.6355" stop-color="#3fd5b8"/><stop offset="0.6450" stop-color="#3dd4b6"/><stop offset="0.6544" stop-color="#3ad1b4"/><stop offset="0.6639" stop-color="#36cdb2"/><stop offset="0.6734" stop-color="#31c9af"/><stop offset="0.6829" stop-color="#2bc4ac"/><stop offset="0.6924" stop-color="#26c0a9"/><stop offset="0.7019" stop-color="#22bca6"/><stop offset="0.7113" stop-color="#20b8a4"/><stop offset="0.7208" stop-color="#1fb5a3"/><stop offset="0.7303" stop-color="#1eb4a3"/><stop offset="0.7398" stop-color="#1eb3a2"/><stop offset="0.7493" stop-color="#1db1a1"/><stop offset="0.7588" stop-color="#1cafa0"/><stop offset="0.7683" stop-color="#1bafa0"/><stop offset="0.7777" stop-color="#1cb1a1"/><stop offset="0.7872" stop-color="#1db3a2"/><stop offset="0.7967" stop-color="#1eb4a3"/><stop offset="0.8062" stop-color="#23bda6"/><stop offset="0.8157" stop-color="#29c2aa"/><stop offset="0.8252" stop-color="#31c9af"/><stop offset="0.8347" stop-color="#3ad1b5"/><stop offset="0.8441" stop-color="#40d6b8"/><stop offset="0.8536" stop-color="#57ddc2"/><stop offset="0.8631" stop-color="#60dfc5"/><stop offset="0.8726" stop-color="#7ae6cf"/><stop offset="0.8821" stop-color="#8bead5"/><stop offset="0.8916" stop-color="#9deedc"/><stop offset="0.9010" stop-color="#b5f2e4"/><stop offset="0.9105" stop-color="#bbf3e5"/><stop offset="0.9200" stop-color="#c9f5e9"/><stop offset="0.9295" stop-color="#cff6eb"/><stop offset="0.9390" stop-color="#d3f6ec"/><stop offset="0.9485" stop-color="#d9f7ee"/><stop offset="0.9580" stop-color="#ddf8f0"/><stop offset="0.9674" stop-color="#def8f0"/><stop offset="0.9769" stop-color="#dff8f0"/><stop offset="0.9864" stop-color="#dff8f0"/><stop offset="0.9959" stop-color="#e0f8f0"/><stop offset="1.0000" stop-color="#e0f8f0"/></linearGradient><linearGradient id="g47" x1="0" y1="0" x2="0" y2="1"><stop offset="0.0000" stop-color="#0e7e88"/><stop offset="0.0095" stop-color="#0e7b87"/><stop offset="0.0190" stop-color="#0e7684"/><stop offset="0.0285" stop-color="#0d7181"/><stop offset="0.0379" stop-color="#0d6f81"/><stop offset="0.0474" stop-color="#0d6d80"/><stop offset="0.0569" stop-color="#0d6a7e"/><stop offset="0.0664" stop-color="#0d657b"/><stop offset="0.0759" stop-color="#0d617a"/><stop offset="0.0854" stop-color="#0d6079"/><stop offset="0.0948" stop-color="#0d637a"/><stop offset="0.1043" stop-color="#0d697e"/><stop offset="0.1138" stop-color="#0e7282"/><stop offset="0.1233" stop-color="#0e7b87"/><stop offset="0.1328" stop-color="#0f818a"/><stop offset="0.1423" stop-color="#0f848b"/><stop offset="0.1518" stop-color="#0f838b"/><stop offset="0.1612" stop-color="#0e8089"/><stop offset="0.1707" stop-color="#0e7986"/><stop offset="0.1802" stop-color="#0d7181"/><stop offset="0.1897" stop-color="#0d677d"/><stop offset="0.1992" stop-color="#0d5f78"/><stop offset="0.2087" stop-color="#0d5775"/><stop offset="0.2181" stop-color="#0c5372"/><stop offset="0.2276" stop-color="#0c5172"/><stop offset="0.2371" stop-color="#0c5473"/><stop offset="0.2466" stop-color="#0d5a76"/><stop offset="0.2561" stop-color="#0d647b"/><stop offset="0.2656" stop-color="#0d6e80"/><stop offset="0.2751" stop-color="#0e7885"/><stop offset="0.2845" stop-color="#0e8089"/><stop offset="0.2940" stop-color="#0f838b"/><stop offset="0.3035" stop-color="#0f838b"/><stop offset="0.3130" stop-color="#0e8089"/><stop offset="0.3225" stop-color="#0e7a86"/><stop offset="0.3320" stop-color="#0d7081"/><stop offset="0.3414" stop-color="#0d657b"/><stop offset="0.3509" stop-color="#0d5a76"/><stop offset="0.3604" stop-color="#0c5071"/><stop offset="0.3699" stop-color="#0c4a6e"/><stop offset="0.3794" stop-color="#0c486d"/><stop offset="0.3889" stop-color="#0c496d"/><stop offset="0.3984" stop-color="#0c4c6f"/><stop offset="0.4078" stop-color="#0c5473"/><stop offset="0.4173" stop-color="#0d5e78"/><stop offset="0.4268" stop-color="#0d687d"/><stop offset="0.4363" stop-color="#0e7282"/><stop offset="0.4458" stop-color="#0e7986"/><stop offset="0.4553" stop-color="#0e7d88"/><stop offset="0.4647" stop-color="#0e7e88"/><stop offset="0.4742" stop-color="#0e7a86"/><stop offset="0.4837" stop-color="#0e7383"/><stop offset="0.4932" stop-color="#0d697e"/><stop offset="0.5027" stop-color="#0d5e78"/><stop offset="0.5122" stop-color="#0c5272"/><stop offset="0.5217" stop-color="#0c486d"/><stop offset="0.5311" stop-color="#0c436a"/><stop offset="0.5406" stop-color="#0c3f67"/><stop offset="0.5501" stop-color="#0b3d66"/><stop offset="0.5596" stop-color="#0b3d66"/><stop offset="0.5691" stop-color="#0c4168"/><stop offset="0.5786" stop-color="#0c486d"/><stop offset="0.5880" stop-color="#0c5774"/><stop offset="0.5975" stop-color="#0d6a7e"/><stop offset="0.6070" stop-color="#0e7b86"/><stop offset="0.6165" stop-color="#0f858c"/><stop offset="0.6260" stop-color="#10898e"/><stop offset="0.6355" stop-color="#10888d"/><stop offset="0.6450" stop-color="#0f848b"/><stop offset="0.6544" stop-color="#0e7c87"/><stop offset="0.6639" stop-color="#0d7081"/><stop offset="0.6734" stop-color="#0d6179"/><stop offset="0.6829" stop-color="#0c5171"/><stop offset="0.6924" stop-color="#0c466b"/><stop offset="0.7019" stop-color="#0b3e67"/><stop offset="0.7113" stop-color="#0b3963"/><stop offset="0.7208" stop-color="#0b3561"/><stop offset="0.7303" stop-color="#0b3360"/><stop offset="0.7398" stop-color="#0b325f"/><stop offset="0.7493" stop-color="#0b2f5d"/><stop offset="0.7588" stop-color="#0b2c5b"/><stop offset="0.7683" stop-color="#0b2c5b"/><stop offset="0.7777" stop-color="#0b2f5d"/><stop offset="0.7872" stop-color="#0b325f"/><stop offset="0.7967" stop-color="#0b3360"/><stop offset="0.8062" stop-color="#0c4068"/><stop offset="0.8157" stop-color="#0c4a6e"/><stop offset="0.8252" stop-color="#0d627a"/><stop offset="0.8347" stop-color="#0e7d87"/><stop offset="0.8441" stop-color="#10898e"/><stop offset="0.8536" stop-color="#16a59c"/><stop offset="0.8631" stop-color="#1bafa0"/><stop offset="0.8726" stop-color="#2fc7ae"/><stop offset="0.8821" stop-color="#3dd4b6"/><stop offset="0.8916" stop-color="#5adec3"/><stop offset="0.9010" stop-color="#83e8d3"/><stop offset="0.9105" stop-color="#8eead7"/><stop offset="0.9200" stop-color="#aaf0e0"/><stop offset="0.9295" stop-color="#b8f2e5"/><stop offset="0.9390" stop-color="#bff3e7"/><stop offset="0.9485" stop-color="#cef5eb"/><stop offset="0.9580" stop-color="#d7f7ee"/><stop offset="0.9674" stop-color="#d8f7ee"/><stop offset="0.9769" stop-color="#daf7ef"/><stop offset="0.9864" stop-color="#ddf8ef"/><stop offset="0.9959" stop-color="#dff8f0"/><stop offset="1.0000" stop-color="#dff8f0"/></linearGradient><linearGradient id="g48" x1="0" y1="0" x2="0" y2="1"><stop offset="0.0000" stop-color="#3bd1b5"/><stop offset="0.0095" stop-color="#3ad1b4"/><stop offset="0.0190" stop-color="#38cfb3"/><stop offset="0.0285" stop-color="#36ceb2"/><stop offset="0.0379" stop-color="#36cdb2"/><stop offset="0.0474" stop-color="#35cdb1"/><stop offset="0.0569" stop-color="#34cbb1"/><stop offset="0.0664" stop-color="#32cab0"/><stop offset="0.0759" stop-color="#31c9af"/><stop offset="0.0854" stop-color="#31c9af"/><stop offset="0.0948" stop-color="#32c9af"/><stop offset="0.1043" stop-color="#34cbb1"/><stop offset="0.1138" stop-color="#37ceb2"/><stop offset="0.1233" stop-color="#3ad1b4"/><stop offset="0.1328" stop-color="#3cd3b6"/><stop offset="0.1423" stop-color="#3dd4b6"/><stop offset="0.1518" stop-color="#3dd3b6"/><stop offset="0.1612" stop-color="#3bd2b5"/><stop offset="0.1707" stop-color="#39d0b4"/><stop offset="0.1802" stop-color="#36ceb2"/><stop offset="0.1897" stop-color="#33cbb0"/><stop offset="0.1992" stop-color="#30c8ae"/><stop offset="0.2087" stop-color="#2ec6ad"/><stop offset="0.2181" stop-color="#2cc5ac"/><stop offset="0.2276" stop-color="#2cc4ac"/><stop offset="0.2371" stop-color="#2dc5ac"/><stop offset="0.2466" stop-color="#2fc7ae"/><stop offset="0.2561" stop-color="#32caaf"/><stop offset="0.2656" stop-color="#35cdb2"/><stop offset="0.2751" stop-color="#39d0b4"/><stop offset="0.2845" stop-color="#3bd2b5"/><stop offset="0.2940" stop-color="#3dd3b6"/><stop offset="0.3035" stop-color="#3dd3b6"/><stop offset="0.3130" stop-color="#3cd2b5"/><stop offset="0.3225" stop-color="#39d0b4"/><stop offset="0.3320" stop-color="#36cdb2"/><stop offset="0.3414" stop-color="#32cab0"/><stop offset="0.3509" stop-color="#2ec7ad"/><stop offset="0.3604" stop-color="#2bc4ac"/><stop offset="0.3699" stop-color="#29c2aa"/><stop offset="0.3794" stop-color="#28c1aa"/><stop offset="0.3889" stop-color="#28c1aa"/><stop offset="0.3984" stop-color="#2ac3ab"/><stop offset="0.4078" stop-color="#2dc5ac"/><stop offset="0.4173" stop-color="#30c8ae"/><stop offset="0.4268" stop-color="#33cbb0"/><stop offset="0.4363" stop-color="#37ceb2"/><stop offset="0.4458" stop-color="#39d0b4"/><stop offset="0.4553" stop-color="#3ad1b5"/><stop offset="0.4647" stop-color="#3bd1b5"/><stop offset="0.4742" stop-color="#39d0b4"/><stop offset="0.4837" stop-color="#37ceb3"/><stop offset="0.4932" stop-color="#34cbb1"/><stop offset="0.5027" stop-color="#30c8ae"/><stop offset="0.5122" stop-color="#2cc4ac"/><stop offset="0.5217" stop-color="#28c1a9"/><stop offset="0.5311" stop-color="#24bea7"/><stop offset="0.5406" stop-color="#22bca6"/><stop offset="0.5501" stop-color="#21bba5"/><stop offset="0.5596" stop-color="#21bba5"/><stop offset="0.5691" stop-color="#23bda7"/><stop offset="0.5786" stop-color="#28c1a9"/><stop offset="0.5880" stop-color="#2dc6ad"/><stop offset="0.5975" stop-color="#34cbb1"/><stop offset="0.6070" stop-color="#3ad0b4"/><stop offset="0.6165" stop-color="#3ed4b7"/><stop offset="0.6260" stop-color="#40d6b8"/><stop offset="0.6355" stop-color="#3fd5b8"/><stop offset="0.6450" stop-color="#3dd4b6"/><stop offset="0.6544" stop-color="#3ad1b4"/><stop offset="0.6639" stop-color="#36cdb2"/><stop offset="0.6734" stop-color="#31c9af"/><stop offset="0.6829" stop-color="#2bc4ac"/><stop offset="0.6924" stop-color="#26c0a9"/><stop offset="0.7019" stop-color="#22bca6"/><stop offset="0.7113" stop-color="#20b8a4"/><stop offset="0.7208" stop-color="#1fb5a3"/><stop offset="0.7303" stop-color="#1eb4a3"/><stop offset="0.7398" stop-color="#1eb3a2"/><stop offset="0.7493" stop-color="#1db1a1"/><stop offset="0.7588" stop-color="#1cafa0"/><stop offset="0.7683" stop-color="#1bafa0"/><stop offset="0.7777" stop-color="#1cb1a1"/><stop offset="0.7872" stop-color="#1db3a2"/><stop offset="0.7967" stop-color="#1eb4a3"/><stop offset="0.8062" stop-color="#23bda6"/><stop offset="0.8157" stop-color="#29c2aa"/><stop offset="0.8252" stop-color="#31c9af"/><stop offset="0.8347" stop-color="#3ad1b5"/><stop offset="0.8441" stop-color="#40d6b8"/><stop offset="0.8536" stop-color="#57ddc2"/><stop offset="0.8631" stop-color="#60dfc5"/><stop offset="0.8726" stop-color="#7ae6cf"/><stop offset="0.8821" stop-color="#8bead5"/><stop offset="0.8916" stop-color="#9deedc"/><stop offset="0.9010" stop-color="#b5f2e4"/><stop offset="0.9105" stop-color="#bbf3e5"/><stop offset="0.9200" stop-color="#c9f5e9"/><stop offset="0.9295" stop-color="#cff6eb"/><stop offset="0.9390" stop-color="#d3f6ec"/><stop offset="0.9485" stop-color="#d9f7ee"/><stop offset="0.9580" stop-color="#ddf8f0"/><stop offset="0.9674" stop-color="#def8f0"/><stop offset="0.9769" stop-color="#dff8f0"/><stop offset="0.9864" stop-color="#dff8f0"/><stop offset="0.9959" stop-color="#e0f8f0"/><stop offset="1.0000" stop-color="#e0f8f0"/></linearGradient><linearGradient id="g49" x1="0" y1="0" x2="0" y2="1"><stop offset="0.0000" stop-color="#b1f1e3"/><stop offset="0.0095" stop-color="#b1f1e3"/><stop offset="0.0190" stop-color="#aff1e2"/><stop offset="0.0285" stop-color="#aef1e2"/><stop offset="0.0379" stop-color="#aef1e2"/><stop offset="0.0474" stop-color="#adf1e2"/><stop offset="0.0569" stop-color="#acf1e1"/><stop offset="0.0664" stop-color="#abf0e1"/><stop offset="0.0759" stop-color="#abf0e1"/><stop offset="0.0854" stop-color="#aaf0e1"/><stop offset="0.0948" stop-color="#abf0e1"/><stop offset="0.1043" stop-color="#acf1e1"/><stop offset="0.1138" stop-color="#aef1e2"/><stop offset="0.1233" stop-color="#b1f1e2"/><stop offset="0.1328" stop-color="#b2f1e3"/><stop offset="0.1423" stop-color="#b3f2e3"/><stop offset="0.1518" stop-color="#b3f2e3"/><stop offset="0.1612" stop-color="#b2f1e3"/><stop offset="0.1707" stop-color="#b0f1e2"/><stop offset="0.1802" stop-color="#aef1e2"/><stop offset="0.1897" stop-color="#acf1e1"/><stop offset="0.1992" stop-color="#aaf0e1"/><stop offset="0.2087" stop-color="#a8f0e0"/><stop offset="0.2181" stop-color="#a7f0e0"/><stop offset="0.2276" stop-color="#a7f0e0"/><stop offset="0.2371" stop-color="#a8f0e0"/><stop offset="0.2466" stop-color="#a9f0e0"/><stop offset="0.2561" stop-color="#abf0e1"/><stop offset="0.2656" stop-color="#aef1e2"/><stop offset="0.2751" stop-color="#b0f1e2"/><stop offset="0.2845" stop-color="#b2f1e3"/><stop offset="0.2940" stop-color="#b3f2e3"/><stop offset="0.3035" stop-color="#b3f2e3"/><stop offset="0.3130" stop-color="#b2f1e3"/><stop offset="0.3225" stop-color="#b0f1e2"/><stop offset="0.3320" stop-color="#aef1e2"/><stop offset="0.3414" stop-color="#abf0e1"/><stop offset="0.3509" stop-color="#a9f0e0"/><stop offset="0.3604" stop-color="#a7f0e0"/><stop offset="0.3699" stop-color="#a5efdf"/><stop offset="0.3794" stop-color="#a5efdf"/><stop offset="0.3889" stop-color="#a5efdf"/><stop offset="0.3984" stop-color="#a6f0df"/><stop offset="0.4078" stop-color="#a8f0e0"/><stop offset="0.4173" stop-color="#aaf0e1"/><stop offset="0.4268" stop-color="#acf1e1"/><stop offset="0.4363" stop-color="#aef1e2"/><stop offset="0.4458" stop-color="#b0f1e2"/><stop offset="0.4553" stop-color="#b1f1e3"/><stop offset="0.4647" stop-color="#b1f1e3"/><stop offset="0.4742" stop-color="#b0f1e2"/><stop offset="0.4837" stop-color="#aff1e2"/><stop offset="0.4932" stop-color="#acf1e1"/><stop offset="0.5027" stop-color="#aaf0e1"/><stop offset="0.5122" stop-color="#a7f0e0"/><stop offset="0.5217" stop-color="#a5efdf"/><stop offset="0.5311" stop-color="#a3efde"/><stop offset="0.5406" stop-color="#a1efde"/><stop offset="0.5501" stop-color="#a0eedd"/><stop offset="0.5596" stop-color="#a0eedd"/><stop offset="0.5691" stop-color="#a2efde"/><stop offset="0.5786" stop-color="#a4efdf"/><stop offset="0.5880" stop-color="#a8f0e0"/><stop offset="0.5975" stop-color="#adf1e1"/><stop offset="0.6070" stop-color="#b0f1e2"/><stop offset="0.6165" stop-color="#b3f2e3"/><stop offset="0.6260" stop-color="#b5f2e4"/><stop offset="0.6355" stop-color="#b4f2e4"/><stop offset="0.6450" stop-color="#b3f2e3"/><stop offset="0.6544" stop-color="#b1f1e3"/><stop offset="0.6639" stop-color="#aef1e2"/><stop offset="0.6734" stop-color="#aaf0e1"/><stop offset="0.6829" stop-color="#a7f0e0"/><stop offset="0.6924" stop-color="#a4efde"/><stop offset="0.7019" stop-color="#a1eedd"/><stop offset="0.7113" stop-color="#9eeedd"/><stop offset="0.7208" stop-color="#9deedc"/><stop offset="0.7303" stop-color="#9ceddc"/><stop offset="0.7398" stop-color="#9ceddc"/><stop offset="0.7493" stop-color="#9beddb"/><stop offset="0.7588" stop-color="#99eddb"/><stop offset="0.7683" stop-color="#99eddb"/><stop offset="0.7777" stop-color="#9aeddb"/><stop offset="0.7872" stop-color="#9ceddc"/><stop offset="0.7967" stop-color="#9ceddc"/><stop offset="0.8062" stop-color="#a2efde"/><stop offset="0.8157" stop-color="#a5efdf"/><stop offset="0.8252" stop-color="#abf0e1"/><stop offset="0.8347" stop-color="#b1f1e3"/><stop offset="0.8441" stop-color="#b5f2e4"/><stop offset="0.8536" stop-color="#bdf3e6"/><stop offset="0.8631" stop-color="#c0f4e7"/><stop offset="0.8726" stop-color="#c8f5e9"/><stop offset="0.8821" stop-color="#cdf5eb"/><stop offset="0.8916" stop-color="#d2f6ec"/><stop offset="0.9010" stop-color="#d8f7ee"/><stop offset="0.9105" stop-color="#d9f7ee"/><stop offset="0.9200" stop-color="#ddf8ef"/><stop offset="0.9295" stop-color="#def8f0"/><stop offset="0.9390" stop-color="#dff8f0"/><stop offset="0.9485" stop-color="#e0f8f0"/><stop offset="0.9580" stop-color="#e0f8f1"/><stop offset="0.9674" stop-color="#e0f8f1"/><stop offset="0.9769" stop-color="#e0f8f1"/><stop offset="0.9864" stop-color="#e0f8f1"/><stop offset="0.9959" stop-color="#e0f8f1"/><stop offset="1.0000" stop-color="#e0f8f1"/></linearGradient><linearGradient id="g50" x1="0" y1="0" x2="0" y2="1"><stop offset="0.0000" stop-color="#ccf5eb"/><stop offset="0.0095" stop-color="#ccf5ea"/><stop offset="0.0190" stop-color="#cbf5ea"/><stop offset="0.0285" stop-color="#cbf5ea"/><stop offset="0.0379" stop-color="#cbf5ea"/><stop offset="0.0474" stop-color="#cbf5ea"/><stop offset="0.0569" stop-color="#caf5ea"/><stop offset="0.0664" stop-color="#caf5ea"/><stop offset="0.0759" stop-color="#c9f5ea"/><stop offset="0.0854" stop-color="#c9f5ea"/><stop offset="0.0948" stop-color="#c9f5ea"/><stop offset="0.1043" stop-color="#caf5ea"/><stop offset="0.1138" stop-color="#cbf5ea"/><stop offset="0.1233" stop-color="#ccf5ea"/><stop offset="0.1328" stop-color="#cdf5eb"/><stop offset="0.1423" stop-color="#cdf5eb"/><stop offset="0.1518" stop-color="#cdf5eb"/><stop offset="0.1612" stop-color="#cdf5eb"/><stop offset="0.1707" stop-color="#ccf5ea"/><stop offset="0.1802" stop-color="#cbf5ea"/><stop offset="0.1897" stop-color="#caf5ea"/><stop offset="0.1992" stop-color="#c9f5ea"/><stop offset="0.2087" stop-color="#c8f5e9"/><stop offset="0.2181" stop-color="#c8f5e9"/><stop offset="0.2276" stop-color="#c8f5e9"/><stop offset="0.2371" stop-color="#c8f5e9"/><stop offset="0.2466" stop-color="#c9f5e9"/><stop offset="0.2561" stop-color="#caf5ea"/><stop offset="0.2656" stop-color="#cbf5ea"/><stop offset="0.2751" stop-color="#ccf5ea"/><stop offset="0.2845" stop-color="#cdf5eb"/><stop offset="0.2940" stop-color="#cdf5eb"/><stop offset="0.3035" stop-color="#cdf5eb"/><stop offset="0.3130" stop-color="#cdf5eb"/><stop offset="0.3225" stop-color="#ccf5ea"/><stop offset="0.3320" stop-color="#cbf5ea"/><stop offset="0.3414" stop-color="#caf5ea"/><stop offset="0.3509" stop-color="#c8f5e9"/><stop offset="0.3604" stop-color="#c7f5e9"/><stop offset="0.3699" stop-color="#c7f4e9"/><stop offset="0.3794" stop-color="#c6f4e9"/><stop offset="0.3889" stop-color="#c7f4e9"/><stop offset="0.3984" stop-color="#c7f5e9"/><stop offset="0.4078" stop-color="#c8f5e9"/><stop offset="0.4173" stop-color="#c9f5ea"/><stop offset="0.4268" stop-color="#caf5ea"/><stop offset="0.4363" stop-color="#cbf5ea"/><stop offset="0.4458" stop-color="#ccf5ea"/><stop offset="0.4553" stop-color="#ccf5eb"/><stop offset="0.4647" stop-color="#ccf5eb"/><stop offset="0.4742" stop-color="#ccf5ea"/><stop offset="0.4837" stop-color="#cbf5ea"/><stop offset="0.4932" stop-color="#caf5ea"/><stop offset="0.5027" stop-color="#c9f5ea"/><stop offset="0.5122" stop-color="#c8f5e9"/><stop offset="0.5217" stop-color="#c6f4e9"/><stop offset="0.5311" stop-color="#c5f4e9"/><stop offset="0.5406" stop-color="#c5f4e8"/><stop offset="0.5501" stop-color="#c4f4e8"/><stop offset="0.5596" stop-color="#c4f4e8"/><stop offset="0.5691" stop-color="#c5f4e8"/><stop offset="0.5786" stop-color="#c6f4e9"/><stop offset="0.5880" stop-color="#c8f5e9"/><stop offset="0.5975" stop-color="#caf5ea"/><stop offset="0.6070" stop-color="#ccf5ea"/><stop offset="0.6165" stop-color="#cdf5eb"/><stop offset="0.6260" stop-color="#cef6eb"/><stop offset="0.6355" stop-color="#cef5eb"/><stop offset="0.6450" stop-color="#cdf5eb"/><stop offset="0.6544" stop-color="#ccf5eb"/><stop offset="0.6639" stop-color="#cbf5ea"/><stop offset="0.6734" stop-color="#c9f5ea"/><stop offset="0.6829" stop-color="#c8f5e9"/><stop offset="0.6924" stop-color="#c6f4e9"/><stop offset="0.7019" stop-color="#c4f4e8"/><stop offset="0.7113" stop-color="#c3f4e8"/><stop offset="0.7208" stop-color="#c2f4e8"/><stop offset="0.7303" stop-color="#c2f4e8"/><stop offset="0.7398" stop-color="#c2f4e8"/><stop offset="0.7493" stop-color="#c1f4e7"/><stop offset="0.7588" stop-color="#c1f4e7"/><stop offset="0.7683" stop-color="#c1f4e7"/><stop offset="0.7777" stop-color="#c1f4e7"/><stop offset="0.7872" stop-color="#c2f4e8"/><stop offset="0.7967" stop-color="#c2f4e8"/><stop offset="0.8062" stop-color="#c5f4e8"/><stop offset="0.8157" stop-color="#c7f4e9"/><stop offset="0.8252" stop-color="#c9f5ea"/><stop offset="0.8347" stop-color="#ccf5eb"/><stop offset="0.8441" stop-color="#cef6eb"/><stop offset="0.8536" stop-color="#d2f6ec"/><stop offset="0.8631" stop-color="#d3f6ed"/><stop offset="0.8726" stop-color="#d7f7ee"/><stop offset="0.8821" stop-color="#d9f7ee"/><stop offset="0.8916" stop-color="#dbf7ef"/><stop offset="0.9010" stop-color="#def8f0"/><stop offset="0.9105" stop-color="#dff8f0"/><stop offset="0.9200" stop-color="#dff8f0"/><stop offset="0.9295" stop-color="#e0f8f0"/><stop offset="0.9390" stop-color="#e0f8f0"/><stop offset="0.9485" stop-color="#e0f8f1"/><stop offset="0.9580" stop-color="#e0f8f1"/><stop offset="0.9674" stop-color="#e0f8f1"/><stop offset="0.9769" stop-color="#e0f8f1"/><stop offset="0.9864" stop-color="#e0f8f1"/><stop offset="0.9959" stop-color="#e1f8f1"/><stop offset="1.0000" stop-color="#e1f8f1"/></linearGradient><linearGradient id="g51" x1="0" y1="0" x2="0" y2="1"><stop offset="0.0000" stop-color="#dcf8ef"/><stop offset="0.0095" stop-color="#dcf8ef"/><stop offset="0.0190" stop-color="#dcf8ef"/><stop offset="0.0285" stop-color="#dcf8ef"/><stop offset="0.0379" stop-color="#dcf8ef"/><stop offset="0.0474" stop-color="#dcf8ef"/><stop offset="0.0569" stop-color="#dcf7ef"/><stop offset="0.0664" stop-color="#dbf7ef"/><stop offset="0.0759" stop-color="#dbf7ef"/><stop offset="0.0854" stop-color="#dbf7ef"/><stop offset="0.0948" stop-color="#dbf7ef"/><stop offset="0.1043" stop-color="#dcf7ef"/><stop offset="0.1138" stop-color="#dcf8ef"/><stop offset="0.1233" stop-color="#dcf8ef"/><stop offset="0.1328" stop-color="#dcf8ef"/><stop offset="0.1423" stop-color="#dcf8ef"/><stop offset="0.1518" stop-color="#dcf8ef"/><stop offset="0.1612" stop-color="#dcf8ef"/><stop offset="0.1707" stop-color="#dcf8ef"/><stop offset="0.1802" stop-color="#dcf8ef"/><stop offset="0.1897" stop-color="#dbf7ef"/><stop offset="0.1992" stop-color="#dbf7ef"/><stop offset="0.2087" stop-color="#dbf7ef"/><stop offset="0.2181" stop-color="#dbf7ef"/><stop offset="0.2276" stop-color="#dbf7ef"/><stop offset="0.2371" stop-color="#dbf7ef"/><stop offset="0.2466" stop-color="#dbf7ef"/><stop offset="0.2561" stop-color="#dbf7ef"/><stop offset="0.2656" stop-color="#dcf8ef"/><stop offset="0.2751" stop-color="#dcf8ef"/><stop offset="0.2845" stop-color="#dcf8ef"/><stop offset="0.2940" stop-color="#dcf8ef"/><stop offset="0.3035" stop-color="#dcf8ef"/><stop offset="0.3130" stop-color="#dcf8ef"/><stop offset="0.3225" stop-color="#dcf8ef"/><stop offset="0.3320" stop-color="#dcf8ef"/><stop offset="0.3414" stop-color="#dbf7ef"/><stop offset="0.3509" stop-color="#dbf7ef"/><stop offset="0.3604" stop-color="#dbf7ef"/><stop offset="0.3699" stop-color="#daf7ef"/><stop offset="0.3794" stop-color="#daf7ef"/><stop offset="0.3889" stop-color="#daf7ef"/><stop offset="0.3984" stop-color="#dbf7ef"/><stop offset="0.4078" stop-color="#dbf7ef"/><stop offset="0.4173" stop-color="#dbf7ef"/><stop offset="0.4268" stop-color="#dbf7ef"/><stop offset="0.4363" stop-color="#dcf8ef"/><stop offset="0.4458" stop-color="#dcf8ef"/><stop offset="0.4553" stop-color="#dcf8ef"/><stop offset="0.4647" stop-color="#dcf8ef"/><stop offset="0.4742" stop-color="#dcf8ef"/><stop offset="0.4837" stop-color="#dcf8ef"/><stop offset="0.4932" stop-color="#dbf7ef"/><stop offset="0.5027" stop-color="#dbf7ef"/><stop offset="0.5122" stop-color="#dbf7ef"/><stop offset="0.5217" stop-color="#daf7ef"/><stop offset="0.5311" stop-color="#daf7ef"/><stop offset="0.5406" stop-color="#daf7ee"/><stop offset="0.5501" stop-color="#daf7ee"/><stop offset="0.5596" stop-color="#daf7ee"/><stop offset="0.5691" stop-color="#daf7ef"/><stop offset="0.5786" stop-color="#daf7ef"/><stop offset="0.5880" stop-color="#dbf7ef"/><stop offset="0.5975" stop-color="#dcf7ef"/><stop offset="0.6070" stop-color="#dcf8ef"/><stop offset="0.6165" stop-color="#dcf8ef"/><stop offset="0.6260" stop-color="#ddf8ef"/><stop offset="0.6355" stop-color="#ddf8ef"/><stop offset="0.6450" stop-color="#dcf8ef"/><stop offset="0.6544" stop-color="#dcf8ef"/><stop offset="0.6639" stop-color="#dcf8ef"/><stop offset="0.6734" stop-color="#dbf7ef"/><stop offset="0.6829" stop-color="#dbf7ef"/><stop offset="0.6924" stop-color="#daf7ef"/><stop offset="0.7019" stop-color="#daf7ee"/><stop offset="0.7113" stop-color="#d9f7ee"/><stop offset="0.7208" stop-color="#d9f7ee"/><stop offset="0.7303" stop-color="#d9f7ee"/><stop offset="0.7398" stop-color="#d9f7ee"/><stop offset="0.7493" stop-color="#d9f7ee"/><stop offset="0.7588" stop-color="#d9f7ee"/><stop offset="0.7683" stop-color="#d9f7ee"/><stop offset="0.7777" stop-color="#d9f7ee"/><stop offset="0.7872" stop-color="#d9f7ee"/><stop offset="0.7967" stop-color="#d9f7ee"/><stop offset="0.8062" stop-color="#daf7ef"/><stop offset="0.8157" stop-color="#dbf7ef"/><stop offset="0.8252" stop-color="#dbf7ef"/><stop offset="0.8347" stop-color="#dcf8ef"/><stop offset="0.8441" stop-color="#ddf8ef"/><stop offset="0.8536" stop-color="#def8f0"/><stop offset="0.8631" stop-color="#def8f0"/><stop offset="0.8726" stop-color="#dff8f0"/><stop offset="0.8821" stop-color="#dff8f0"/><stop offset="0.8916" stop-color="#e0f8f0"/><stop offset="0.9010" stop-color="#e0f8f0"/><stop offset="0.9105" stop-color="#e0f8f1"/><stop offset="0.9200" stop-color="#e0f8f1"/><stop offset="0.9295" stop-color="#e0f8f1"/><stop offset="0.9390" stop-color="#e0f8f1"/><stop offset="0.9485" stop-color="#e0f8f1"/><stop offset="0.9580" stop-color="#e1f8f1"/><stop offset="0.9674" stop-color="#e1f8f1"/><stop offset="0.9769" stop-color="#e1f8f1"/><stop offset="0.9864" stop-color="#e1f8f1"/><stop offset="0.9959" stop-color="#e1f8f1"/><stop offset="1.0000" stop-color="#e1f8f1"/></linearGradient><linearGradient id="cbb" x1="0" y1="0" x2="0" y2="1"><stop offset="0.000" stop-color="#0b1d4f"/><stop offset="0.120" stop-color="#0b3360"/><stop offset="0.240" stop-color="#0c4a6e"/><stop offset="0.380" stop-color="#0e7e88"/><stop offset="0.500" stop-color="#14a09a"/><stop offset="0.600" stop-color="#22bca6"/><stop offset="0.710" stop-color="#40d6b8"/><stop offset="0.800" stop-color="#70e4cc"/><stop offset="0.880" stop-color="#a8f0e0"/><stop offset="0.950" stop-color="#dff8f0"/><stop offset="1.000" stop-color="#effcf8"/></linearGradient><linearGradient id="cbc" x1="0" y1="0" x2="0" y2="1"><stop offset="0.000" stop-color="#ffffff"/><stop offset="0.025" stop-color="#ffffe5"/><stop offset="0.050" stop-color="#ffffcc"/><stop offset="0.075" stop-color="#ffffb3"/><stop offset="0.100" stop-color="#ffff99"/><stop offset="0.125" stop-color="#ffff80"/><stop offset="0.150" stop-color="#ffff66"/><stop offset="0.175" stop-color="#ffff4c"/><stop offset="0.200" stop-color="#ffff33"/><stop offset="0.225" stop-color="#ffff1a"/><stop offset="0.250" stop-color="#ffff00"/><stop offset="0.275" stop-color="#ffee00"/><stop offset="0.300" stop-color="#ffdd00"/><stop offset="0.325" stop-color="#ffcc00"/><stop offset="0.350" stop-color="#ffbb00"/><stop offset="0.375" stop-color="#ffaa00"/><stop offset="0.400" stop-color="#ff9900"/><stop offset="0.425" stop-color="#ff8800"/><stop offset="0.450" stop-color="#ff7700"/><stop offset="0.475" stop-color="#ff6600"/><stop offset="0.500" stop-color="#ff5500"/><stop offset="0.525" stop-color="#ff4400"/><stop offset="0.550" stop-color="#ff3300"/><stop offset="0.575" stop-color="#ff2200"/><stop offset="0.600" stop-color="#ff1100"/><stop offset="0.625" stop-color="#ff0000"/><stop offset="0.650" stop-color="#ee0000"/><stop offset="0.675" stop-color="#dd0000"/><stop offset="0.700" stop-color="#cc0000"/><stop offset="0.725" stop-color="#bb0000"/><stop offset="0.750" stop-color="#aa0000"/><stop offset="0.775" stop-color="#990000"/><stop offset="0.800" stop-color="#880000"/><stop offset="0.825" stop-color="#770000"/><stop offset="0.850" stop-color="#660000"/><stop offset="0.875" stop-color="#550000"/><stop offset="0.900" stop-color="#440000"/><stop offset="0.925" stop-color="#330000"/><stop offset="0.950" stop-color="#220000"/><stop offset="0.975" stop-color="#110000"/><stop offset="1.000" stop-color="#000000"/></linearGradient>
<filter id="bb" x="-5%" y="-5%" width="110%" height="110%"><feGaussianBlur stdDeviation="0.8"/></filter>
<radialGradient id="blob" cx="0.5" cy="0.5" r="0.5">
<stop offset="0" stop-color="#ffff60"/><stop offset="0.25" stop-color="#ffb000"/><stop offset="0.55" stop-color="#e02000"/><stop offset="0.85" stop-color="#500000"/><stop offset="1" stop-color="#000" stop-opacity="0"/></radialGradient>
<radialGradient id="blob2" cx="0.5" cy="0.5" r="0.5">
<stop offset="0" stop-color="#ff3000"/><stop offset="0.5" stop-color="#b00000"/><stop offset="1" stop-color="#000" stop-opacity="0"/></radialGradient>
</defs><rect x="346.20" y="14.3" width="3.14" height="316.30" fill="#e1f8f1"/><rect x="349.04" y="14.3" width="7.13" height="316.30" fill="#e1f8f1"/><rect x="355.87" y="14.3" width="7.13" height="316.30" fill="#e1f8f1"/><rect x="362.70" y="14.3" width="7.13" height="316.30" fill="#e1f8f1"/><rect x="369.53" y="14.3" width="7.13" height="316.30" fill="#e1f8f1"/><rect x="376.36" y="14.3" width="7.13" height="316.30" fill="#e1f8f1"/><rect x="383.19" y="14.3" width="7.13" height="316.30" fill="#e1f8f1"/><rect x="390.02" y="14.3" width="7.13" height="316.30" fill="#e1f8f1"/><rect x="396.85" y="14.3" width="7.13" height="316.30" fill="#e1f8f1"/><rect x="403.68" y="14.3" width="7.13" height="316.30" fill="url(#g9)"/><rect x="410.51" y="14.3" width="7.13" height="316.30" fill="url(#g10)"/><rect x="417.34" y="14.3" width="7.13" height="316.30" fill="url(#g11)"/><rect x="424.17" y="14.3" width="7.13" height="316.30" fill="url(#g12)"/><rect x="431.00" y="14.3" width="7.13" height="316.30" fill="url(#g13)"/><rect x="437.83" y="14.3" width="7.13" height="316.30" fill="url(#g14)"/><rect x="444.66" y="14.3" width="7.13" height="316.30" fill="url(#g15)"/><rect x="451.49" y="14.3" width="7.13" height="316.30" fill="url(#g16)"/><rect x="458.32" y="14.3" width="7.13" height="316.30" fill="url(#g17)"/><rect x="465.15" y="14.3" width="7.13" height="316.30" fill="#e1f8f1"/><rect x="471.98" y="14.3" width="7.13" height="316.30" fill="#e1f8f1"/><rect x="478.81" y="14.3" width="7.13" height="316.30" fill="#e1f8f1"/><rect x="485.64" y="14.3" width="7.13" height="316.30" fill="#e1f8f1"/><rect x="492.47" y="14.3" width="7.13" height="316.30" fill="#e1f8f1"/><rect x="499.30" y="14.3" width="7.13" height="316.30" fill="url(#g23)"/><rect x="506.13" y="14.3" width="7.13" height="316.30" fill="url(#g24)"/><rect x="512.96" y="14.3" width="7.13" height="316.30" fill="url(#g25)"/><rect x="519.79" y="14.3" width="7.13" height="316.30" fill="url(#g26)"/><rect x="526.62" y="14.3" width="7.13" height="316.30" fill="url(#g27)"/><rect x="533.45" y="14.3" width="7.13" height="316.30" fill="url(#g28)"/><rect x="540.28" y="14.3" width="7.13" height="316.30" fill="url(#g29)"/><rect x="547.11" y="14.3" width="7.13" height="316.30" fill="url(#g30)"/><rect x="553.94" y="14.3" width="7.13" height="316.30" fill="url(#g31)"/><rect x="560.77" y="14.3" width="7.13" height="316.30" fill="url(#g32)"/><rect x="567.60" y="14.3" width="7.13" height="316.30" fill="url(#g33)"/><rect x="574.43" y="14.3" width="7.13" height="316.30" fill="url(#g34)"/><rect x="581.26" y="14.3" width="7.13" height="316.30" fill="url(#g35)"/><rect x="588.09" y="14.3" width="7.13" height="316.30" fill="url(#g36)"/><rect x="594.92" y="14.3" width="7.13" height="316.30" fill="#e1f8f1"/><rect x="601.75" y="14.3" width="7.13" height="316.30" fill="#e1f8f1"/><rect x="608.58" y="14.3" width="7.13" height="316.30" fill="#e1f8f1"/><rect x="615.41" y="14.3" width="7.13" height="316.30" fill="#e1f8f1"/><rect x="622.24" y="14.3" width="7.13" height="316.30" fill="#e1f8f1"/><rect x="629.07" y="14.3" width="7.13" height="316.30" fill="#e1f8f1"/><rect x="635.90" y="14.3" width="7.13" height="316.30" fill="url(#g43)"/><rect x="642.73" y="14.3" width="7.13" height="316.30" fill="url(#g44)"/><rect x="649.56" y="14.3" width="7.13" height="316.30" fill="url(#g45)"/><rect x="656.39" y="14.3" width="7.13" height="316.30" fill="url(#g46)"/><rect x="663.22" y="14.3" width="7.13" height="316.30" fill="url(#g47)"/><rect x="670.05" y="14.3" width="7.13" height="316.30" fill="url(#g48)"/><rect x="676.88" y="14.3" width="7.13" height="316.30" fill="url(#g49)"/><rect x="683.71" y="14.3" width="7.13" height="316.30" fill="url(#g50)"/><rect x="690.54" y="14.3" width="7.13" height="316.30" fill="url(#g51)"/><rect x="697.37" y="14.3" width="7.13" height="316.30" fill="#e1f8f1"/><rect x="704.20" y="14.3" width="7.13" height="316.30" fill="#e1f8f1"/><rect x="711.03" y="14.3" width="7.13" height="316.30" fill="#e1f8f1"/><rect x="717.86" y="14.3" width="7.13" height="316.30" fill="#e1f8f1"/><rect x="724.69" y="14.3" width="7.13" height="316.30" fill="#e1f8f1"/><rect x="731.52" y="14.3" width="7.13" height="316.30" fill="#e1f8f1"/><rect x="738.35" y="14.3" width="7.13" height="316.30" fill="#e1f8f1"/><rect x="745.18" y="14.3" width="7.13" height="316.30" fill="#e1f8f1"/><rect x="752.01" y="14.3" width="3.89" height="316.30" fill="#e1f8f1"/><rect x="346.2" y="14.3" width="409.4" height="316.3" fill="none" stroke="#3c3c3c" stroke-width="1.4"/><text x="338.70" y="339.30" text-anchor="end" font-size="19" fill="#111" font-family="Liberation Sans, sans-serif">0</text><line x1="346.2" y1="240.3" x2="351.7" y2="240.3" stroke="#3c3c3c" stroke-width="1.2"/><path d="M333.46,247.17 L335.17,247.17 L335.17,233.70 L333.84,233.70 C333.49,235.01 332.32,235.92 330.21,236.06 L330.21,237.33 L333.46,237.33 Z" fill="#111"/><line x1="346.2" y1="149.9" x2="351.7" y2="149.9" stroke="#3c3c3c" stroke-width="1.2"/><text x="338.70" y="156.84" text-anchor="end" font-size="19" fill="#111" font-family="Liberation Sans, sans-serif">2</text><line x1="346.2" y1="59.6" x2="351.7" y2="59.6" stroke="#3c3c3c" stroke-width="1.2"/><text x="338.70" y="66.51" text-anchor="end" font-size="19" fill="#111" font-family="Liberation Sans, sans-serif">3</text><line x1="410.2" y1="330.6" x2="410.2" y2="325.1" stroke="#3c3c3c" stroke-width="1.6"/><text x="408.5" y="357" text-anchor="middle" font-size="19.3" fill="#111" font-family="Liberation Sans, sans-serif">909.37</text><line x1="557.1" y1="330.6" x2="557.1" y2="325.1" stroke="#3c3c3c" stroke-width="1.6"/><text x="556.8" y="357" text-anchor="middle" font-size="19.3" fill="#111" font-family="Liberation Sans, sans-serif">909.52</text><line x1="703.9" y1="330.6" x2="703.9" y2="325.1" stroke="#3c3c3c" stroke-width="1.6"/><text x="704.1" y="357" text-anchor="middle" font-size="19.3" fill="#111" font-family="Liberation Sans, sans-serif">909.67</text><text x="559.6" y="385.2" text-anchor="middle" font-size="19.1" fill="#111" font-family="Liberation Sans, sans-serif">Wavelength (nm)</text><text transform="translate(310.3,182.3) rotate(-90)" text-anchor="middle" font-size="19" fill="#111" font-family="Liberation Sans, sans-serif">Power (nw<tspan font-size="11" dy="-6.8" dx="0.5">0.5</tspan><tspan dy="6.8">)</tspan></text><text x="433.8" y="321" text-anchor="middle" font-size="19" fill="#2f4a98" font-family="Liberation Sans, sans-serif">X</text><text x="550.5" y="320.3" text-anchor="middle" font-size="19" fill="#2aa89a" font-family="Liberation Sans, sans-serif">STPE</text><text x="666" y="321" text-anchor="middle" font-size="19" fill="#d83030" font-family="Liberation Sans, sans-serif">XX</text><text x="731.7" y="42.3" text-anchor="middle" font-size="27.3" letter-spacing="1.7" fill="#111" font-family="Liberation Sans, sans-serif">(b)</text><g stroke="#fff" stroke-width="1.4" stroke-linecap="round"><line x1="431.85" y1="250.74" x2="437.95" y2="253.26"/><line x1="433.64" y1="248.95" x2="436.16" y2="255.05"/><line x1="436.16" y1="248.95" x2="433.64" y2="255.05"/><line x1="437.95" y1="250.74" x2="431.85" y2="253.26"/></g><circle cx="434.9" cy="252.0" r="2.7" fill="#fff"/><g stroke="#fff" stroke-width="1.4" stroke-linecap="round"><line x1="548.35" y1="250.64" x2="554.45" y2="253.16"/><line x1="550.14" y1="248.85" x2="552.66" y2="254.95"/><line x1="552.66" y1="248.85" x2="550.14" y2="254.95"/><line x1="554.45" y1="250.64" x2="548.35" y2="253.16"/></g><circle cx="551.4" cy="251.9" r="2.7" fill="#fff"/><g stroke="#fff" stroke-width="1.4" stroke-linecap="round"><line x1="662.55" y1="250.24" x2="668.65" y2="252.76"/><line x1="664.34" y1="248.45" x2="666.86" y2="254.55"/><line x1="666.86" y1="248.45" x2="664.34" y2="254.55"/><line x1="668.65" y1="250.24" x2="662.55" y2="252.76"/></g><circle cx="665.6" cy="251.5" r="2.7" fill="#fff"/><line x1="683" y1="275.7" x2="696.5" y2="275.7" stroke="#3aa898" stroke-width="1.5"/><rect x="764.2" y="14.5" width="14" height="233.5" fill="url(#cbb)" stroke="#555" stroke-width="1"/><path d="M789.18,26.60 L790.85,26.60 L790.85,13.48 L789.55,13.48 C789.22,14.76 788.07,15.65 786.02,15.78 L786.02,17.02 L789.18,17.02 Z" fill="#111"/><text x="784.5" y="251.3" font-size="17" fill="#111" font-family="Liberation Sans, sans-serif">0</text><text transform="translate(793.4,126.5) rotate(90)" text-anchor="middle" font-size="18.6" fill="#111" font-family="Liberation Sans, sans-serif">Intensity (a.u.)</text><rect x="880.4" y="18.3" width="342.6" height="341.5" fill="#000"/><g filter="url(#bb)"><rect x="1028" y="210" width="2" height="2" fill="#140000"/><rect x="1030" y="210" width="2" height="2" fill="#0f0000"/><rect x="1024" y="212" width="2" height="2" fill="#100000"/><rect x="1026" y="212" width="2" height="2" fill="#1a0000"/><rect x="1028" y="212" width="2" height="2" fill="#150000"/><rect x="1022" y="214" width="2" height="2" fill="#140000"/><rect x="1024" y="214" width="2" height="2" fill="#200000"/><rect x="1026" y="214" width="2" height="2" fill="#1a0000"/><rect x="1020" y="216" width="2" height="2" fill="#190000"/><rect x="1022" y="216" width="2" height="2" fill="#270000"/><rect x="1024" y="216" width="2" height="2" fill="#200000"/><rect x="1018" y="218" width="2" height="2" fill="#1d0000"/><rect x="1020" y="218" width="2" height="2" fill="#2f0000"/><rect x="1022" y="218" width="2" height="2" fill="#270000"/><rect x="1024" y="218" width="2" height="2" fill="#110000"/><rect x="1016" y="220" width="2" height="2" fill="#220000"/><rect x="1018" y="220" width="2" height="2" fill="#360000"/><rect x="1020" y="220" width="2" height="2" fill="#2e0000"/><rect x="1022" y="220" width="2" height="2" fill="#140000"/><rect x="1014" y="222" width="2" height="2" fill="#260000"/><rect x="1016" y="222" width="2" height="2" fill="#3d0000"/><rect x="1018" y="222" width="2" height="2" fill="#340000"/><rect x="1020" y="222" width="2" height="2" fill="#180000"/><rect x="1010" y="224" width="2" height="2" fill="#0e0000"/><rect x="1012" y="224" width="2" height="2" fill="#2b0000"/><rect x="1014" y="224" width="2" height="2" fill="#450000"/><rect x="1016" y="224" width="2" height="2" fill="#3b0000"/><rect x="1018" y="224" width="2" height="2" fill="#1b0000"/><rect x="1008" y="226" width="2" height="2" fill="#100000"/><rect x="1010" y="226" width="2" height="2" fill="#2f0000"/><rect x="1012" y="226" width="2" height="2" fill="#4c0000"/><rect x="1014" y="226" width="2" height="2" fill="#420000"/><rect x="1016" y="226" width="2" height="2" fill="#1f0000"/><rect x="1006" y="228" width="2" height="2" fill="#120000"/><rect x="1008" y="228" width="2" height="2" fill="#340000"/><rect x="1010" y="228" width="2" height="2" fill="#540000"/><rect x="1012" y="228" width="2" height="2" fill="#490000"/><rect x="1014" y="228" width="2" height="2" fill="#220000"/><rect x="1004" y="230" width="2" height="2" fill="#140000"/><rect x="1006" y="230" width="2" height="2" fill="#390000"/><rect x="1008" y="230" width="2" height="2" fill="#5c0000"/><rect x="1010" y="230" width="2" height="2" fill="#500000"/><rect x="1012" y="230" width="2" height="2" fill="#260000"/><rect x="1002" y="232" width="2" height="2" fill="#160000"/><rect x="1004" y="232" width="2" height="2" fill="#3f0000"/><rect x="1006" y="232" width="2" height="2" fill="#640000"/><rect x="1008" y="232" width="2" height="2" fill="#580000"/><rect x="1010" y="232" width="2" height="2" fill="#2a0000"/><rect x="1000" y="234" width="2" height="2" fill="#180000"/><rect x="1002" y="234" width="2" height="2" fill="#440000"/><rect x="1004" y="234" width="2" height="2" fill="#6d0000"/><rect x="1006" y="234" width="2" height="2" fill="#600000"/><rect x="1008" y="234" width="2" height="2" fill="#2e0000"/><rect x="998" y="236" width="2" height="2" fill="#1a0000"/><rect x="1000" y="236" width="2" height="2" fill="#4a0000"/><rect x="1002" y="236" width="2" height="2" fill="#750000"/><rect x="1004" y="236" width="2" height="2" fill="#670000"/><rect x="1006" y="236" width="2" height="2" fill="#320000"/><rect x="996" y="238" width="2" height="2" fill="#1c0000"/><rect x="998" y="238" width="2" height="2" fill="#4f0000"/><rect x="1000" y="238" width="2" height="2" fill="#7d0000"/><rect x="1002" y="238" width="2" height="2" fill="#6f0000"/><rect x="1004" y="238" width="2" height="2" fill="#360000"/><rect x="1006" y="238" width="2" height="2" fill="#0f0000"/><rect x="994" y="240" width="2" height="2" fill="#1e0000"/><rect x="996" y="240" width="2" height="2" fill="#550000"/><rect x="998" y="240" width="2" height="2" fill="#860000"/><rect x="1000" y="240" width="2" height="2" fill="#770000"/><rect x="1002" y="240" width="2" height="2" fill="#3b0000"/><rect x="1004" y="240" width="2" height="2" fill="#100000"/><rect x="992" y="242" width="2" height="2" fill="#200000"/><rect x="994" y="242" width="2" height="2" fill="#5a0000"/><rect x="996" y="242" width="2" height="2" fill="#8e0000"/><rect x="998" y="242" width="2" height="2" fill="#7f0000"/><rect x="1000" y="242" width="2" height="2" fill="#3f0000"/><rect x="1002" y="242" width="2" height="2" fill="#110000"/><rect x="990" y="244" width="2" height="2" fill="#220000"/><rect x="992" y="244" width="2" height="2" fill="#5f0000"/><rect x="994" y="244" width="2" height="2" fill="#950000"/><rect x="996" y="244" width="2" height="2" fill="#860000"/><rect x="998" y="244" width="2" height="2" fill="#430000"/><rect x="1000" y="244" width="2" height="2" fill="#130000"/><rect x="988" y="246" width="2" height="2" fill="#240000"/><rect x="990" y="246" width="2" height="2" fill="#630000"/><rect x="992" y="246" width="2" height="2" fill="#9c0000"/><rect x="994" y="246" width="2" height="2" fill="#8c0000"/><rect x="996" y="246" width="2" height="2" fill="#470000"/><rect x="998" y="246" width="2" height="2" fill="#140000"/><rect x="986" y="248" width="2" height="2" fill="#260000"/><rect x="988" y="248" width="2" height="2" fill="#680000"/><rect x="990" y="248" width="2" height="2" fill="#a30000"/><rect x="992" y="248" width="2" height="2" fill="#930000"/><rect x="994" y="248" width="2" height="2" fill="#4b0000"/><rect x="996" y="248" width="2" height="2" fill="#160000"/><rect x="984" y="250" width="2" height="2" fill="#290000"/><rect x="986" y="250" width="2" height="2" fill="#6d0000"/><rect x="988" y="250" width="2" height="2" fill="#aa0000"/><rect x="990" y="250" width="2" height="2" fill="#990000"/><rect x="992" y="250" width="2" height="2" fill="#4f0000"/><rect x="994" y="250" width="2" height="2" fill="#170000"/><rect x="982" y="252" width="2" height="2" fill="#2d0000"/><rect x="984" y="252" width="2" height="2" fill="#730000"/><rect x="986" y="252" width="2" height="2" fill="#b10000"/><rect x="988" y="252" width="2" height="2" fill="#a00000"/><rect x="990" y="252" width="2" height="2" fill="#530000"/><rect x="992" y="252" width="2" height="2" fill="#190000"/><rect x="980" y="254" width="2" height="2" fill="#300000"/><rect x="982" y="254" width="2" height="2" fill="#790000"/><rect x="984" y="254" width="2" height="2" fill="#b80000"/><rect x="986" y="254" width="2" height="2" fill="#a70000"/><rect x="988" y="254" width="2" height="2" fill="#580000"/><rect x="990" y="254" width="2" height="2" fill="#1b0000"/><rect x="978" y="256" width="2" height="2" fill="#330000"/><rect x="980" y="256" width="2" height="2" fill="#7e0000"/><rect x="982" y="256" width="2" height="2" fill="#bf0000"/><rect x="984" y="256" width="2" height="2" fill="#ad0000"/><rect x="986" y="256" width="2" height="2" fill="#5d0000"/><rect x="988" y="256" width="2" height="2" fill="#1d0000"/><rect x="974" y="258" width="2" height="2" fill="#0e0000"/><rect x="976" y="258" width="2" height="2" fill="#370000"/><rect x="978" y="258" width="2" height="2" fill="#840000"/><rect x="980" y="258" width="2" height="2" fill="#c60000"/><rect x="982" y="258" width="2" height="2" fill="#b40000"/><rect x="984" y="258" width="2" height="2" fill="#620000"/><rect x="986" y="258" width="2" height="2" fill="#1f0000"/><rect x="972" y="260" width="2" height="2" fill="#100000"/><rect x="974" y="260" width="2" height="2" fill="#3a0000"/><rect x="976" y="260" width="2" height="2" fill="#8a0000"/><rect x="978" y="260" width="2" height="2" fill="#cd0000"/><rect x="980" y="260" width="2" height="2" fill="#bb0000"/><rect x="982" y="260" width="2" height="2" fill="#670000"/><rect x="984" y="260" width="2" height="2" fill="#220000"/><rect x="970" y="262" width="2" height="2" fill="#120000"/><rect x="972" y="262" width="2" height="2" fill="#3f0000"/><rect x="974" y="262" width="2" height="2" fill="#900000"/><rect x="976" y="262" width="2" height="2" fill="#d40000"/><rect x="978" y="262" width="2" height="2" fill="#c20000"/><rect x="980" y="262" width="2" height="2" fill="#6d0000"/><rect x="982" y="262" width="2" height="2" fill="#250000"/><rect x="968" y="264" width="2" height="2" fill="#160000"/><rect x="970" y="264" width="2" height="2" fill="#470000"/><rect x="972" y="264" width="2" height="2" fill="#9a0000"/><rect x="974" y="264" width="2" height="2" fill="#db0000"/><rect x="976" y="264" width="2" height="2" fill="#c90000"/><rect x="978" y="264" width="2" height="2" fill="#720000"/><rect x="980" y="264" width="2" height="2" fill="#270000"/><rect x="966" y="266" width="2" height="2" fill="#1a0000"/><rect x="968" y="266" width="2" height="2" fill="#500000"/><rect x="970" y="266" width="2" height="2" fill="#a60000"/><rect x="972" y="266" width="2" height="2" fill="#e40000"/><rect x="974" y="266" width="2" height="2" fill="#cd0000"/><rect x="976" y="266" width="2" height="2" fill="#770000"/><rect x="978" y="266" width="2" height="2" fill="#2a0000"/><rect x="964" y="268" width="2" height="2" fill="#1e0000"/><rect x="966" y="268" width="2" height="2" fill="#590000"/><rect x="968" y="268" width="2" height="2" fill="#b20000"/><rect x="970" y="268" width="2" height="2" fill="#ed0000"/><rect x="972" y="268" width="2" height="2" fill="#d00000"/><rect x="974" y="268" width="2" height="2" fill="#760000"/><rect x="976" y="268" width="2" height="2" fill="#2b0000"/><rect x="962" y="270" width="2" height="2" fill="#230000"/><rect x="964" y="270" width="2" height="2" fill="#630000"/><rect x="966" y="270" width="2" height="2" fill="#be0000"/><rect x="968" y="270" width="2" height="2" fill="#f50000"/><rect x="970" y="270" width="2" height="2" fill="#d20000"/><rect x="972" y="270" width="2" height="2" fill="#760000"/><rect x="974" y="270" width="2" height="2" fill="#2b0000"/><rect x="960" y="272" width="2" height="2" fill="#280000"/><rect x="962" y="272" width="2" height="2" fill="#6d0000"/><rect x="964" y="272" width="2" height="2" fill="#ca0000"/><rect x="966" y="272" width="2" height="2" fill="#fd0000"/><rect x="968" y="272" width="2" height="2" fill="#d40000"/><rect x="970" y="272" width="2" height="2" fill="#760000"/><rect x="972" y="272" width="2" height="2" fill="#2b0000"/><rect x="958" y="274" width="2" height="2" fill="#2e0000"/><rect x="960" y="274" width="2" height="2" fill="#780000"/><rect x="962" y="274" width="2" height="2" fill="#d60000"/><rect x="964" y="274" width="2" height="2" fill="#ff0500"/><rect x="966" y="274" width="2" height="2" fill="#d60000"/><rect x="968" y="274" width="2" height="2" fill="#750000"/><rect x="970" y="274" width="2" height="2" fill="#2a0000"/><rect x="954" y="276" width="2" height="2" fill="#0f0000"/><rect x="956" y="276" width="2" height="2" fill="#350000"/><rect x="958" y="276" width="2" height="2" fill="#830000"/><rect x="960" y="276" width="2" height="2" fill="#e20000"/><rect x="962" y="276" width="2" height="2" fill="#ff0d00"/><rect x="964" y="276" width="2" height="2" fill="#d80000"/><rect x="966" y="276" width="2" height="2" fill="#750000"/><rect x="968" y="276" width="2" height="2" fill="#2a0000"/><rect x="952" y="278" width="2" height="2" fill="#120000"/><rect x="954" y="278" width="2" height="2" fill="#3c0000"/><rect x="956" y="278" width="2" height="2" fill="#8f0000"/><rect x="958" y="278" width="2" height="2" fill="#ee0000"/><rect x="960" y="278" width="2" height="2" fill="#ff1300"/><rect x="962" y="278" width="2" height="2" fill="#d90000"/><rect x="964" y="278" width="2" height="2" fill="#740000"/><rect x="966" y="278" width="2" height="2" fill="#2a0000"/><rect x="950" y="280" width="2" height="2" fill="#150000"/><rect x="952" y="280" width="2" height="2" fill="#440000"/><rect x="954" y="280" width="2" height="2" fill="#9b0000"/><rect x="956" y="280" width="2" height="2" fill="#f90000"/><rect x="958" y="280" width="2" height="2" fill="#ff1a00"/><rect x="960" y="280" width="2" height="2" fill="#da0000"/><rect x="962" y="280" width="2" height="2" fill="#740000"/><rect x="964" y="280" width="2" height="2" fill="#290000"/><rect x="948" y="282" width="2" height="2" fill="#190000"/><rect x="950" y="282" width="2" height="2" fill="#4c0000"/><rect x="952" y="282" width="2" height="2" fill="#a70000"/><rect x="954" y="282" width="2" height="2" fill="#ff0600"/><rect x="956" y="282" width="2" height="2" fill="#ff2000"/><rect x="958" y="282" width="2" height="2" fill="#db0000"/><rect x="960" y="282" width="2" height="2" fill="#730000"/><rect x="962" y="282" width="2" height="2" fill="#290000"/><rect x="946" y="284" width="2" height="2" fill="#1e0000"/><rect x="948" y="284" width="2" height="2" fill="#560000"/><rect x="950" y="284" width="2" height="2" fill="#b50000"/><rect x="952" y="284" width="2" height="2" fill="#ff1100"/><rect x="954" y="284" width="2" height="2" fill="#ff2500"/><rect x="956" y="284" width="2" height="2" fill="#db0000"/><rect x="958" y="284" width="2" height="2" fill="#720000"/><rect x="960" y="284" width="2" height="2" fill="#290000"/><rect x="944" y="286" width="2" height="2" fill="#230000"/><rect x="946" y="286" width="2" height="2" fill="#610000"/><rect x="948" y="286" width="2" height="2" fill="#c50000"/><rect x="950" y="286" width="2" height="2" fill="#ff2100"/><rect x="952" y="286" width="2" height="2" fill="#ff2d00"/><rect x="954" y="286" width="2" height="2" fill="#dc0000"/><rect x="956" y="286" width="2" height="2" fill="#710000"/><rect x="958" y="286" width="2" height="2" fill="#280000"/><rect x="942" y="288" width="2" height="2" fill="#280000"/><rect x="944" y="288" width="2" height="2" fill="#6d0000"/><rect x="946" y="288" width="2" height="2" fill="#d50000"/><rect x="948" y="288" width="2" height="2" fill="#ff3000"/><rect x="950" y="288" width="2" height="2" fill="#ff3600"/><rect x="952" y="288" width="2" height="2" fill="#df0000"/><rect x="954" y="288" width="2" height="2" fill="#710000"/><rect x="956" y="288" width="2" height="2" fill="#280000"/><rect x="938" y="290" width="2" height="2" fill="#110000"/><rect x="940" y="290" width="2" height="2" fill="#340000"/><rect x="942" y="290" width="2" height="2" fill="#7d0000"/><rect x="944" y="290" width="2" height="2" fill="#e60000"/><rect x="946" y="290" width="2" height="2" fill="#ff3f00"/><rect x="948" y="290" width="2" height="2" fill="#ff3e00"/><rect x="950" y="290" width="2" height="2" fill="#e20000"/><rect x="952" y="290" width="2" height="2" fill="#720000"/><rect x="954" y="290" width="2" height="2" fill="#280000"/><rect x="936" y="292" width="2" height="2" fill="#170000"/><rect x="938" y="292" width="2" height="2" fill="#410000"/><rect x="940" y="292" width="2" height="2" fill="#930000"/><rect x="942" y="292" width="2" height="2" fill="#fe0000"/><rect x="944" y="292" width="2" height="2" fill="#ff4f00"/><rect x="946" y="292" width="2" height="2" fill="#ff4700"/><rect x="948" y="292" width="2" height="2" fill="#e50000"/><rect x="950" y="292" width="2" height="2" fill="#730000"/><rect x="952" y="292" width="2" height="2" fill="#280000"/><rect x="934" y="294" width="2" height="2" fill="#1e0000"/><rect x="936" y="294" width="2" height="2" fill="#500000"/><rect x="938" y="294" width="2" height="2" fill="#aa0000"/><rect x="940" y="294" width="2" height="2" fill="#ff1800"/><rect x="942" y="294" width="2" height="2" fill="#ff5f00"/><rect x="944" y="294" width="2" height="2" fill="#ff4c00"/><rect x="946" y="294" width="2" height="2" fill="#e60000"/><rect x="948" y="294" width="2" height="2" fill="#730000"/><rect x="950" y="294" width="2" height="2" fill="#290000"/><rect x="932" y="296" width="2" height="2" fill="#280000"/><rect x="934" y="296" width="2" height="2" fill="#630000"/><rect x="936" y="296" width="2" height="2" fill="#c20000"/><rect x="938" y="296" width="2" height="2" fill="#ff3000"/><rect x="940" y="296" width="2" height="2" fill="#ff6f00"/><rect x="942" y="296" width="2" height="2" fill="#ff5000"/><rect x="944" y="296" width="2" height="2" fill="#e50000"/><rect x="946" y="296" width="2" height="2" fill="#720000"/><rect x="948" y="296" width="2" height="2" fill="#290000"/><rect x="928" y="298" width="2" height="2" fill="#130000"/><rect x="930" y="298" width="2" height="2" fill="#350000"/><rect x="932" y="298" width="2" height="2" fill="#7b0000"/><rect x="934" y="298" width="2" height="2" fill="#e30000"/><rect x="936" y="298" width="2" height="2" fill="#ff4d00"/><rect x="938" y="298" width="2" height="2" fill="#ff7c00"/><rect x="940" y="298" width="2" height="2" fill="#ff5300"/><rect x="942" y="298" width="2" height="2" fill="#e30000"/><rect x="944" y="298" width="2" height="2" fill="#710000"/><rect x="946" y="298" width="2" height="2" fill="#290000"/><rect x="926" y="300" width="2" height="2" fill="#1a0000"/><rect x="928" y="300" width="2" height="2" fill="#450000"/><rect x="930" y="300" width="2" height="2" fill="#960000"/><rect x="932" y="300" width="2" height="2" fill="#ff0900"/><rect x="934" y="300" width="2" height="2" fill="#ff7300"/><rect x="936" y="300" width="2" height="2" fill="#ff9900"/><rect x="938" y="300" width="2" height="2" fill="#ff5d00"/><rect x="940" y="300" width="2" height="2" fill="#e20000"/><rect x="942" y="300" width="2" height="2" fill="#700000"/><rect x="944" y="300" width="2" height="2" fill="#290000"/><rect x="924" y="302" width="2" height="2" fill="#230000"/><rect x="926" y="302" width="2" height="2" fill="#570000"/><rect x="928" y="302" width="2" height="2" fill="#b40000"/><rect x="930" y="302" width="2" height="2" fill="#ff2f00"/><rect x="932" y="302" width="2" height="2" fill="#ff9800"/><rect x="934" y="302" width="2" height="2" fill="#ffb400"/><rect x="936" y="302" width="2" height="2" fill="#ff6d00"/><rect x="938" y="302" width="2" height="2" fill="#e90000"/><rect x="940" y="302" width="2" height="2" fill="#710000"/><rect x="942" y="302" width="2" height="2" fill="#290000"/><rect x="920" y="304" width="2" height="2" fill="#100000"/><rect x="922" y="304" width="2" height="2" fill="#2d0000"/><rect x="924" y="304" width="2" height="2" fill="#6c0000"/><rect x="926" y="304" width="2" height="2" fill="#d40000"/><rect x="928" y="304" width="2" height="2" fill="#ff5600"/><rect x="930" y="304" width="2" height="2" fill="#ffbd00"/><rect x="932" y="304" width="2" height="2" fill="#ffcf00"/><rect x="934" y="304" width="2" height="2" fill="#ff7b00"/><rect x="936" y="304" width="2" height="2" fill="#f00000"/><rect x="938" y="304" width="2" height="2" fill="#750000"/><rect x="940" y="304" width="2" height="2" fill="#2b0000"/><rect x="918" y="306" width="2" height="2" fill="#150000"/><rect x="920" y="306" width="2" height="2" fill="#3a0000"/><rect x="922" y="306" width="2" height="2" fill="#830000"/><rect x="924" y="306" width="2" height="2" fill="#f70000"/><rect x="926" y="306" width="2" height="2" fill="#ff7f00"/><rect x="928" y="306" width="2" height="2" fill="#ffe200"/><rect x="930" y="306" width="2" height="2" fill="#ffe800"/><rect x="932" y="306" width="2" height="2" fill="#ff8900"/><rect x="934" y="306" width="2" height="2" fill="#f70000"/><rect x="936" y="306" width="2" height="2" fill="#780000"/><rect x="938" y="306" width="2" height="2" fill="#2c0000"/><rect x="916" y="308" width="2" height="2" fill="#190000"/><rect x="918" y="308" width="2" height="2" fill="#450000"/><rect x="920" y="308" width="2" height="2" fill="#9b0000"/><rect x="922" y="308" width="2" height="2" fill="#ff1900"/><rect x="924" y="308" width="2" height="2" fill="#ffa400"/><rect x="926" y="308" width="2" height="2" fill="#ffff08"/><rect x="928" y="308" width="2" height="2" fill="#ffff00"/><rect x="930" y="308" width="2" height="2" fill="#ff9500"/><rect x="932" y="308" width="2" height="2" fill="#fd0000"/><rect x="934" y="308" width="2" height="2" fill="#7b0000"/><rect x="936" y="308" width="2" height="2" fill="#2e0000"/><rect x="914" y="310" width="2" height="2" fill="#1c0000"/><rect x="916" y="310" width="2" height="2" fill="#4b0000"/><rect x="918" y="310" width="2" height="2" fill="#a80000"/><rect x="920" y="310" width="2" height="2" fill="#ff3400"/><rect x="922" y="310" width="2" height="2" fill="#ffc800"/><rect x="924" y="310" width="2" height="2" fill="#ffff30"/><rect x="926" y="310" width="2" height="2" fill="#ffff1a"/><rect x="928" y="310" width="2" height="2" fill="#ff9f00"/><rect x="930" y="310" width="2" height="2" fill="#ff0300"/><rect x="932" y="310" width="2" height="2" fill="#7e0000"/><rect x="934" y="310" width="2" height="2" fill="#300000"/><rect x="936" y="310" width="2" height="2" fill="#0e0000"/><rect x="912" y="312" width="2" height="2" fill="#190000"/><rect x="914" y="312" width="2" height="2" fill="#4f0000"/><rect x="916" y="312" width="2" height="2" fill="#b30000"/><rect x="918" y="312" width="2" height="2" fill="#ff4300"/><rect x="920" y="312" width="2" height="2" fill="#ffdc00"/><rect x="922" y="312" width="2" height="2" fill="#ffff54"/><rect x="924" y="312" width="2" height="2" fill="#ffff2e"/><rect x="926" y="312" width="2" height="2" fill="#ffa300"/><rect x="928" y="312" width="2" height="2" fill="#ff0500"/><rect x="930" y="312" width="2" height="2" fill="#800000"/><rect x="932" y="312" width="2" height="2" fill="#310000"/><rect x="934" y="312" width="2" height="2" fill="#0f0000"/><rect x="910" y="314" width="2" height="2" fill="#130000"/><rect x="912" y="314" width="2" height="2" fill="#430000"/><rect x="914" y="314" width="2" height="2" fill="#ae0000"/><rect x="916" y="314" width="2" height="2" fill="#ff4e00"/><rect x="918" y="314" width="2" height="2" fill="#ffed00"/><rect x="920" y="314" width="2" height="2" fill="#ffff71"/><rect x="922" y="314" width="2" height="2" fill="#ffff4e"/><rect x="924" y="314" width="2" height="2" fill="#ffaf00"/><rect x="926" y="314" width="2" height="2" fill="#ff0600"/><rect x="928" y="314" width="2" height="2" fill="#810000"/><rect x="930" y="314" width="2" height="2" fill="#320000"/><rect x="932" y="314" width="2" height="2" fill="#0f0000"/><rect x="908" y="316" width="2" height="2" fill="#0f0000"/><rect x="910" y="316" width="2" height="2" fill="#360000"/><rect x="912" y="316" width="2" height="2" fill="#960000"/><rect x="914" y="316" width="2" height="2" fill="#ff3900"/><rect x="916" y="316" width="2" height="2" fill="#fff500"/><rect x="918" y="316" width="2" height="2" fill="#ffff8f"/><rect x="920" y="316" width="2" height="2" fill="#ffff6f"/><rect x="922" y="316" width="2" height="2" fill="#ffc600"/><rect x="924" y="316" width="2" height="2" fill="#ff1800"/><rect x="926" y="316" width="2" height="2" fill="#860000"/><rect x="928" y="316" width="2" height="2" fill="#330000"/><rect x="930" y="316" width="2" height="2" fill="#100000"/><rect x="908" y="318" width="2" height="2" fill="#2b0000"/><rect x="910" y="318" width="2" height="2" fill="#800000"/><rect x="912" y="318" width="2" height="2" fill="#ff1800"/><rect x="914" y="318" width="2" height="2" fill="#ffd000"/><rect x="916" y="318" width="2" height="2" fill="#ffff7d"/><rect x="918" y="318" width="2" height="2" fill="#ffff8a"/><rect x="920" y="318" width="2" height="2" fill="#ffda00"/><rect x="922" y="318" width="2" height="2" fill="#ff2c00"/><rect x="924" y="318" width="2" height="2" fill="#950000"/><rect x="926" y="318" width="2" height="2" fill="#3a0000"/><rect x="928" y="318" width="2" height="2" fill="#110000"/><rect x="906" y="320" width="2" height="2" fill="#220000"/><rect x="908" y="320" width="2" height="2" fill="#6b0000"/><rect x="910" y="320" width="2" height="2" fill="#f80000"/><rect x="912" y="320" width="2" height="2" fill="#ffab00"/><rect x="914" y="320" width="2" height="2" fill="#ffff46"/><rect x="916" y="320" width="2" height="2" fill="#ffff57"/><rect x="918" y="320" width="2" height="2" fill="#ffcf00"/><rect x="920" y="320" width="2" height="2" fill="#ff3100"/><rect x="922" y="320" width="2" height="2" fill="#9f0000"/><rect x="924" y="320" width="2" height="2" fill="#420000"/><rect x="926" y="320" width="2" height="2" fill="#150000"/><rect x="904" y="322" width="2" height="2" fill="#180000"/><rect x="906" y="322" width="2" height="2" fill="#590000"/><rect x="908" y="322" width="2" height="2" fill="#da0000"/><rect x="910" y="322" width="2" height="2" fill="#ff8600"/><rect x="912" y="322" width="2" height="2" fill="#ffff10"/><rect x="914" y="322" width="2" height="2" fill="#ffff25"/><rect x="916" y="322" width="2" height="2" fill="#ffb000"/><rect x="918" y="322" width="2" height="2" fill="#ff1700"/><rect x="920" y="322" width="2" height="2" fill="#930000"/><rect x="922" y="322" width="2" height="2" fill="#410000"/><rect x="924" y="322" width="2" height="2" fill="#170000"/><rect x="902" y="324" width="2" height="2" fill="#0f0000"/><rect x="904" y="324" width="2" height="2" fill="#400000"/><rect x="906" y="324" width="2" height="2" fill="#b60000"/><rect x="908" y="324" width="2" height="2" fill="#ff6200"/><rect x="910" y="324" width="2" height="2" fill="#ffe500"/><rect x="912" y="324" width="2" height="2" fill="#fff600"/><rect x="914" y="324" width="2" height="2" fill="#ff9100"/><rect x="916" y="324" width="2" height="2" fill="#fd0000"/><rect x="918" y="324" width="2" height="2" fill="#810000"/><rect x="920" y="324" width="2" height="2" fill="#360000"/><rect x="922" y="324" width="2" height="2" fill="#130000"/><rect x="902" y="326" width="2" height="2" fill="#2b0000"/><rect x="904" y="326" width="2" height="2" fill="#870000"/><rect x="906" y="326" width="2" height="2" fill="#ff2200"/><rect x="908" y="326" width="2" height="2" fill="#ffb300"/><rect x="910" y="326" width="2" height="2" fill="#ffd400"/><rect x="912" y="326" width="2" height="2" fill="#ff7300"/><rect x="914" y="326" width="2" height="2" fill="#e50000"/><rect x="916" y="326" width="2" height="2" fill="#710000"/><rect x="918" y="326" width="2" height="2" fill="#2d0000"/><rect x="920" y="326" width="2" height="2" fill="#0f0000"/><rect x="900" y="328" width="2" height="2" fill="#180000"/><rect x="902" y="328" width="2" height="2" fill="#5d0000"/><rect x="904" y="328" width="2" height="2" fill="#de0000"/><rect x="906" y="328" width="2" height="2" fill="#ff6400"/><rect x="908" y="328" width="2" height="2" fill="#ff9300"/><rect x="910" y="328" width="2" height="2" fill="#ff4e00"/><rect x="912" y="328" width="2" height="2" fill="#cd0000"/><rect x="914" y="328" width="2" height="2" fill="#610000"/><rect x="916" y="328" width="2" height="2" fill="#250000"/><rect x="900" y="330" width="2" height="2" fill="#360000"/><rect x="902" y="330" width="2" height="2" fill="#9c0000"/><rect x="904" y="330" width="2" height="2" fill="#ff1600"/><rect x="906" y="330" width="2" height="2" fill="#ff4b00"/><rect x="908" y="330" width="2" height="2" fill="#ff1800"/><rect x="910" y="330" width="2" height="2" fill="#ad0000"/><rect x="912" y="330" width="2" height="2" fill="#520000"/><rect x="914" y="330" width="2" height="2" fill="#1e0000"/><rect x="898" y="332" width="2" height="2" fill="#1b0000"/><rect x="900" y="332" width="2" height="2" fill="#620000"/><rect x="902" y="332" width="2" height="2" fill="#c80000"/><rect x="904" y="332" width="2" height="2" fill="#ff0100"/><rect x="906" y="332" width="2" height="2" fill="#df0000"/><rect x="908" y="332" width="2" height="2" fill="#8c0000"/><rect x="910" y="332" width="2" height="2" fill="#410000"/><rect x="912" y="332" width="2" height="2" fill="#170000"/><rect x="898" y="334" width="2" height="2" fill="#330000"/><rect x="900" y="334" width="2" height="2" fill="#810000"/><rect x="902" y="334" width="2" height="2" fill="#b60000"/><rect x="904" y="334" width="2" height="2" fill="#a30000"/><rect x="906" y="334" width="2" height="2" fill="#670000"/><rect x="908" y="334" width="2" height="2" fill="#300000"/><rect x="910" y="334" width="2" height="2" fill="#110000"/><rect x="896" y="336" width="2" height="2" fill="#0f0000"/><rect x="898" y="336" width="2" height="2" fill="#3f0000"/><rect x="900" y="336" width="2" height="2" fill="#6f0000"/><rect x="902" y="336" width="2" height="2" fill="#6c0000"/><rect x="904" y="336" width="2" height="2" fill="#430000"/><rect x="906" y="336" width="2" height="2" fill="#1e0000"/><rect x="898" y="338" width="2" height="2" fill="#280000"/><rect x="900" y="338" width="2" height="2" fill="#370000"/><rect x="902" y="338" width="2" height="2" fill="#250000"/><rect x="904" y="338" width="2" height="2" fill="#100000"/></g><line x1="880.4" y1="360.3" x2="1223.0" y2="17.7" stroke="#d0d0d0" stroke-width="1.1" stroke-dasharray="6 5"/><line x1="904.9" y1="359.8" x2="904.9" y2="355.3" stroke="#aaa" stroke-width="1"/><line x1="880.4" y1="335.8" x2="884.9" y2="335.8" stroke="#aaa" stroke-width="1"/><text x="904.30" y="378.10" text-anchor="middle" font-size="16.3" fill="#111" font-family="Liberation Sans, sans-serif">0</text><text x="876.20" y="342.70" text-anchor="end" font-size="16.3" fill="#111" font-family="Liberation Sans, sans-serif">0</text><line x1="973.5" y1="359.8" x2="973.5" y2="355.3" stroke="#aaa" stroke-width="1"/><line x1="880.4" y1="267.2" x2="884.9" y2="267.2" stroke="#aaa" stroke-width="1"/><text x="972.90" y="378.10" text-anchor="middle" font-size="16.3" fill="#111" font-family="Liberation Sans, sans-serif">0.4</text><text x="876.20" y="274.10" text-anchor="end" font-size="16.3" fill="#111" font-family="Liberation Sans, sans-serif">0.4</text><line x1="1042.1" y1="359.8" x2="1042.1" y2="355.3" stroke="#aaa" stroke-width="1"/><line x1="880.4" y1="198.6" x2="884.9" y2="198.6" stroke="#aaa" stroke-width="1"/><text x="1041.50" y="378.10" text-anchor="middle" font-size="16.3" fill="#111" font-family="Liberation Sans, sans-serif">0.8</text><text x="876.20" y="205.50" text-anchor="end" font-size="16.3" fill="#111" font-family="Liberation Sans, sans-serif">0.8</text><line x1="1110.7" y1="359.8" x2="1110.7" y2="355.3" stroke="#aaa" stroke-width="1"/><line x1="880.4" y1="130.0" x2="884.9" y2="130.0" stroke="#aaa" stroke-width="1"/><path d="M1103.34,378.10 L1104.80,378.10 L1104.80,366.54 L1103.66,366.54 C1103.37,367.67 1102.36,368.45 1100.55,368.56 L1100.55,369.66 L1103.34,369.66 Z" fill="#111"/><text x="1107.83" y="378.10" font-size="16.3" fill="#111" font-family="Liberation Sans, sans-serif">.2</text><path d="M858.11,136.90 L859.57,136.90 L859.57,125.34 L858.43,125.34 C858.14,126.47 857.13,127.25 855.32,127.36 L855.32,128.46 L858.11,128.46 Z" fill="#111"/><text x="862.61" y="136.90" font-size="16.3" fill="#111" font-family="Liberation Sans, sans-serif">.2</text><line x1="1179.3" y1="359.8" x2="1179.3" y2="355.3" stroke="#aaa" stroke-width="1"/><line x1="880.4" y1="61.4" x2="884.9" y2="61.4" stroke="#aaa" stroke-width="1"/><path d="M1171.94,378.10 L1173.40,378.10 L1173.40,366.54 L1172.26,366.54 C1171.97,367.67 1170.96,368.45 1169.15,368.56 L1169.15,369.66 L1171.94,369.66 Z" fill="#111"/><text x="1176.43" y="378.10" font-size="16.3" fill="#111" font-family="Liberation Sans, sans-serif">.6</text><path d="M858.11,68.30 L859.57,68.30 L859.57,56.74 L858.43,56.74 C858.14,57.87 857.13,58.65 855.32,58.76 L855.32,59.86 L858.11,59.86 Z" fill="#111"/><text x="862.61" y="68.30" font-size="16.3" fill="#111" font-family="Liberation Sans, sans-serif">.6</text><text x="1034" y="404.2" font-size="16.4" fill="#111" font-family="Liberation Sans, sans-serif">t<tspan font-size="9.5" dy="3.2">1</tspan><tspan dy="-3.2"> (ns)</tspan></text><text transform="translate(838.4,214.2) rotate(-90)" font-size="16.6" fill="#111" font-family="Liberation Sans, sans-serif">t<tspan font-size="9.5" dy="3.2">2</tspan><tspan dy="-3.2"> (ns)</tspan></text><text x="1054.8" y="38.8" text-anchor="middle" font-size="16" fill="#f2f2f2" font-family="Liberation Sans, sans-serif">STPE</text><text x="1055.3" y="58.2" text-anchor="middle" font-size="15.9" fill="#f2f2f2" font-family="Liberation Sans, sans-serif">Experiment</text><text transform="translate(1160.5,108) rotate(-45)" text-anchor="middle" font-size="15.5" fill="#f2f2f2" font-family="Liberation Sans, sans-serif">t<tspan font-size="10" dy="3.5">1</tspan><tspan dy="-3.5"> = t</tspan><tspan font-size="10" dy="3.5">2</tspan></text><text x="1206.8" y="43.4" text-anchor="middle" font-size="27" letter-spacing="1.7" fill="#fff" font-family="Liberation Sans, sans-serif">(c)</text><rect x="1226.8" y="18.6" width="11.5" height="341" fill="url(#cbc)" stroke="#777" stroke-width="1"/><path d="M1246.38,26.30 L1247.59,26.30 L1247.59,16.73 L1246.65,16.73 C1246.41,17.66 1245.57,18.31 1244.07,18.40 L1244.07,19.31 L1246.38,19.31 Z" fill="#111"/><text x="1242.5" y="363.6" font-size="14.5" fill="#111" font-family="Liberation Sans, sans-serif">0</text><text transform="translate(1249.5,190.5) rotate(90)" text-anchor="middle" font-size="16" fill="#111" font-family="Liberation Sans, sans-serif">Coincidence (a.u.)</text></svg>
</div></body></html>
